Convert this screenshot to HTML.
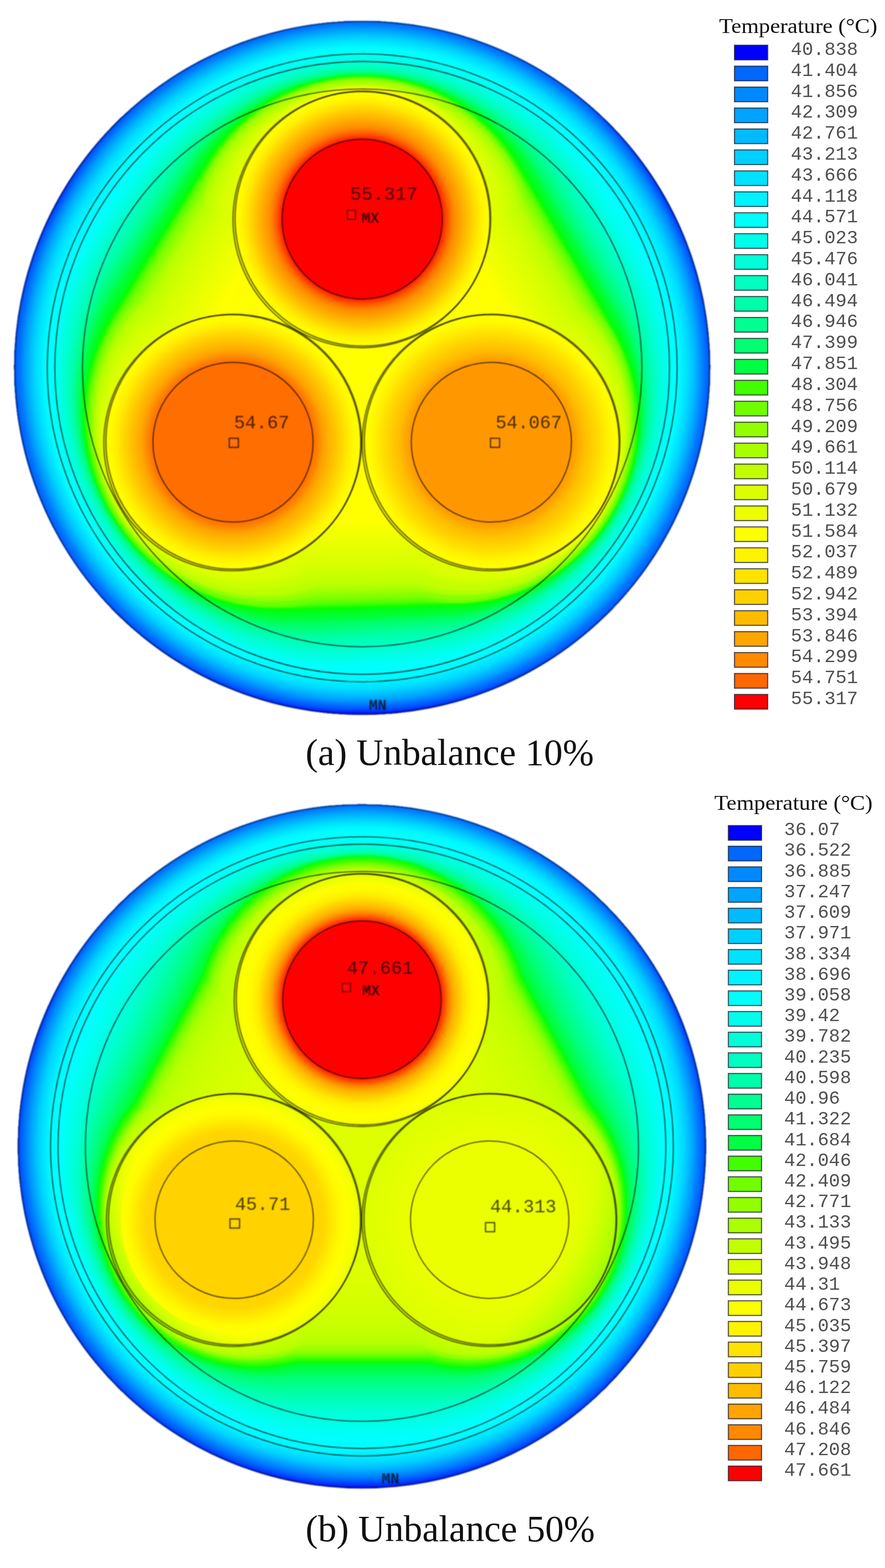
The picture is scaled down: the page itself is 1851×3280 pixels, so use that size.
<!DOCTYPE html>
<html lang="en"><head><meta charset="utf-8"><title>Temperature distribution of three-core cable</title>
<style>
html,body{margin:0;padding:0;background:#fff;}
body{width:1851px;height:3280px;overflow:hidden;}
svg{display:block}
.mono{font-family:"Liberation Mono","DejaVu Sans Mono",monospace;fill:#505050}
.serif{font-family:"Liberation Serif","DejaVu Serif",serif;fill:#111}
.lab{font-family:"Liberation Mono","DejaVu Sans Mono",monospace;fill:#000;fill-opacity:.7}
</style></head><body>
<svg width="1851" height="3280" viewBox="0 0 1851 3280">
<defs>
<filter id="tblur" x="-5%" y="-5%" width="110%" height="110%" color-interpolation-filters="sRGB"><feGaussianBlur stdDeviation="0.7"/></filter>
<filter id="ablur2" x="-5%" y="-5%" width="110%" height="110%" color-interpolation-filters="sRGB"><feGaussianBlur stdDeviation="0.9"/></filter>
<filter id="bblur2" x="-5%" y="-5%" width="110%" height="110%" color-interpolation-filters="sRGB"><feGaussianBlur stdDeviation="0.9"/></filter>
</defs>
<rect width="1851" height="3280" fill="#fff"/>
<defs><clipPath id="aclip"><circle r="727.6"/></clipPath>
<filter id="ablur" x="-5%" y="-5%" width="110%" height="110%" color-interpolation-filters="sRGB"><feGaussianBlur stdDeviation="1.5"/></filter>
<filter id="alblur" x="-5%" y="-5%" width="110%" height="110%" color-interpolation-filters="sRGB"><feGaussianBlur stdDeviation="0.9"/></filter>
<radialGradient id="ac0" gradientUnits="userSpaceOnUse" cx="0" cy="-312" r="270"><stop offset="0.0000" stop-color="#ff0000"/><stop offset="0.6148" stop-color="#ff0000"/><stop offset="0.6241" stop-color="#ff1800"/><stop offset="0.6333" stop-color="#ff2d00"/><stop offset="0.6426" stop-color="#ff3a00"/><stop offset="0.6519" stop-color="#ff4800"/><stop offset="0.6611" stop-color="#ff5500"/><stop offset="0.6704" stop-color="#ff6000"/><stop offset="0.6796" stop-color="#ff6a00"/><stop offset="0.6889" stop-color="#ff7400"/><stop offset="0.6981" stop-color="#ff7d00"/><stop offset="0.7074" stop-color="#ff8600"/><stop offset="0.7167" stop-color="#ff8d00"/><stop offset="0.7259" stop-color="#ff9200"/><stop offset="0.7352" stop-color="#ff9700"/><stop offset="0.7444" stop-color="#ff9c00"/><stop offset="0.7537" stop-color="#ffa100"/><stop offset="0.7630" stop-color="#ffa500"/><stop offset="0.7722" stop-color="#ffa900"/><stop offset="0.7815" stop-color="#ffae00"/><stop offset="0.7907" stop-color="#ffb300"/><stop offset="0.8000" stop-color="#ffb800"/><stop offset="0.8093" stop-color="#ffbc00"/><stop offset="0.8185" stop-color="#ffc100"/><stop offset="0.8278" stop-color="#ffc500"/><stop offset="0.8370" stop-color="#ffc900"/><stop offset="0.8463" stop-color="#ffce00"/><stop offset="0.8556" stop-color="#ffd300"/><stop offset="0.8648" stop-color="#ffd700"/><stop offset="0.8741" stop-color="#ffdc00"/><stop offset="0.8833" stop-color="#ffe000"/><stop offset="0.8926" stop-color="#ffe500"/><stop offset="0.9019" stop-color="#ffe900"/><stop offset="0.9111" stop-color="#ffec00"/><stop offset="0.9204" stop-color="#fff000"/><stop offset="0.9296" stop-color="#fff300"/><stop offset="0.9389" stop-color="#fff600"/><stop offset="0.9481" stop-color="#fff900"/><stop offset="0.9574" stop-color="#fffa00"/><stop offset="0.9667" stop-color="#fffb00"/><stop offset="0.9759" stop-color="#fffd00"/><stop offset="0.9852" stop-color="#fffe00"/><stop offset="0.9944" stop-color="#ffff00"/><stop offset="1.0000" stop-color="#ffff00"/></radialGradient>
<radialGradient id="ac1" gradientUnits="userSpaceOnUse" cx="-270.2" cy="156" r="270"><stop offset="0.0000" stop-color="#ff6e00"/><stop offset="0.6148" stop-color="#ff6e00"/><stop offset="0.6241" stop-color="#ff7000"/><stop offset="0.6333" stop-color="#ff7500"/><stop offset="0.6426" stop-color="#ff7900"/><stop offset="0.6519" stop-color="#ff7f00"/><stop offset="0.6611" stop-color="#ff8500"/><stop offset="0.6704" stop-color="#ff8b00"/><stop offset="0.6796" stop-color="#ff9100"/><stop offset="0.6889" stop-color="#ff9700"/><stop offset="0.6981" stop-color="#ff9d00"/><stop offset="0.7074" stop-color="#ffa200"/><stop offset="0.7167" stop-color="#ffa700"/><stop offset="0.7259" stop-color="#ffab00"/><stop offset="0.7352" stop-color="#ffae00"/><stop offset="0.7444" stop-color="#ffb200"/><stop offset="0.7537" stop-color="#ffb500"/><stop offset="0.7630" stop-color="#ffb900"/><stop offset="0.7722" stop-color="#ffbc00"/><stop offset="0.7815" stop-color="#ffbf00"/><stop offset="0.7907" stop-color="#ffc300"/><stop offset="0.8000" stop-color="#ffc600"/><stop offset="0.8093" stop-color="#ffca00"/><stop offset="0.8185" stop-color="#ffcd00"/><stop offset="0.8278" stop-color="#ffd100"/><stop offset="0.8370" stop-color="#ffd400"/><stop offset="0.8463" stop-color="#ffd700"/><stop offset="0.8556" stop-color="#ffdb00"/><stop offset="0.8648" stop-color="#ffdf00"/><stop offset="0.8741" stop-color="#ffe300"/><stop offset="0.8833" stop-color="#ffe600"/><stop offset="0.8926" stop-color="#ffea00"/><stop offset="0.9019" stop-color="#ffed00"/><stop offset="0.9111" stop-color="#fff000"/><stop offset="0.9204" stop-color="#fff200"/><stop offset="0.9296" stop-color="#fff500"/><stop offset="0.9389" stop-color="#fff800"/><stop offset="0.9481" stop-color="#fffa00"/><stop offset="0.9574" stop-color="#fffb00"/><stop offset="0.9667" stop-color="#fffc00"/><stop offset="0.9759" stop-color="#fffd00"/><stop offset="0.9852" stop-color="#fffe00"/><stop offset="0.9944" stop-color="#ffff00"/><stop offset="1.0000" stop-color="#ffff00"/></radialGradient>
<radialGradient id="ac2" gradientUnits="userSpaceOnUse" cx="270.2" cy="156" r="270"><stop offset="0.0000" stop-color="#ff9800"/><stop offset="0.6148" stop-color="#ff9800"/><stop offset="0.6241" stop-color="#ff9900"/><stop offset="0.6333" stop-color="#ff9c00"/><stop offset="0.6426" stop-color="#ff9e00"/><stop offset="0.6519" stop-color="#ffa200"/><stop offset="0.6611" stop-color="#ffa600"/><stop offset="0.6704" stop-color="#ffaa00"/><stop offset="0.6796" stop-color="#ffae00"/><stop offset="0.6889" stop-color="#ffb200"/><stop offset="0.6981" stop-color="#ffb500"/><stop offset="0.7074" stop-color="#ffb900"/><stop offset="0.7167" stop-color="#ffbd00"/><stop offset="0.7259" stop-color="#ffbf00"/><stop offset="0.7352" stop-color="#ffc200"/><stop offset="0.7444" stop-color="#ffc400"/><stop offset="0.7537" stop-color="#ffc700"/><stop offset="0.7630" stop-color="#ffc900"/><stop offset="0.7722" stop-color="#ffcb00"/><stop offset="0.7815" stop-color="#ffce00"/><stop offset="0.7907" stop-color="#ffd000"/><stop offset="0.8000" stop-color="#ffd300"/><stop offset="0.8093" stop-color="#ffd600"/><stop offset="0.8185" stop-color="#ffd800"/><stop offset="0.8278" stop-color="#ffdb00"/><stop offset="0.8370" stop-color="#ffdd00"/><stop offset="0.8463" stop-color="#ffe000"/><stop offset="0.8556" stop-color="#ffe300"/><stop offset="0.8648" stop-color="#ffe600"/><stop offset="0.8741" stop-color="#ffe900"/><stop offset="0.8833" stop-color="#ffeb00"/><stop offset="0.8926" stop-color="#ffee00"/><stop offset="0.9019" stop-color="#fff100"/><stop offset="0.9111" stop-color="#fff300"/><stop offset="0.9204" stop-color="#fff500"/><stop offset="0.9296" stop-color="#fff700"/><stop offset="0.9389" stop-color="#fff900"/><stop offset="0.9481" stop-color="#fffb00"/><stop offset="0.9574" stop-color="#fffc00"/><stop offset="0.9667" stop-color="#fffd00"/><stop offset="0.9759" stop-color="#fffd00"/><stop offset="0.9852" stop-color="#fffe00"/><stop offset="0.9944" stop-color="#ffff00"/><stop offset="1.0000" stop-color="#ffff00"/></radialGradient>
</defs>
<g transform="translate(757.5,769.5) scale(1.00000,0.99720)">
<g filter="url(#ablur)"><g clip-path="url(#aclip)">
<circle r="729.0" fill="#0000ff"/>
<path d="M-627 -378L-640.9 -354A724 724 0 0 0 -13.9 732L13.9 732A724 724 0 0 0 640.9 -354L627 -378A724 724 0 0 0 -627 -378Z" fill="#0000ff" transform="translate(0,-4)"/>
<path d="M-626.5 -378.2L-640.8 -353.5A723.5 723.5 0 0 0 -14.2 731.7L14.3 731.7A723.5 723.5 0 0 0 640.8 -353.5L626.5 -378.2A723.5 723.5 0 0 0 -626.5 -378.2Z" fill="#0008ff" transform="translate(0,-4)"/>
<path d="M-626.5 -378.2L-640.8 -353.5A723.5 723.5 0 0 0 -14.2 731.7L14.3 731.7A723.5 723.5 0 0 0 640.8 -353.5L626.5 -378.2A723.5 723.5 0 0 0 -626.5 -378.2Z" fill="#0008ff" transform="translate(0,-4)"/>
<path d="M-626 -378.5L-640.7 -353.1A722.9 722.9 0 0 0 -14.6 731.4L14.7 731.4A722.9 722.9 0 0 0 640.7 -353L626.1 -378.4A722.9 722.9 0 0 0 -626 -378.5Z" fill="#000bff" transform="translate(0,-4)"/>
<path d="M-625.6 -378.7L-640.6 -352.6A722.4 722.4 0 0 0 -14.9 731.1L15.2 731.1A722.4 722.4 0 0 0 640.7 -352.5L625.6 -378.6A722.4 722.4 0 0 0 -625.6 -378.7Z" fill="#000dff" transform="translate(0,-4)"/>
<path d="M-624.6 -379.1L-640.5 -351.7A721.4 721.4 0 0 0 -15.6 730.5L16 730.5A721.3 721.3 0 0 0 640.5 -351.5L624.7 -379A721.3 721.3 0 0 0 -624.6 -379.1Z" fill="#0011ff" transform="translate(0,-4)"/>
<path d="M-624.1 -379.4L-640.4 -351.2A720.8 720.8 0 0 0 -16 730.2L16.4 730.2A720.8 720.8 0 0 0 640.5 -351L624.2 -379.2A720.8 720.8 0 0 0 -624.1 -379.4Z" fill="#0012ff" transform="translate(0,-4)"/>
<path d="M-622.7 -380L-640.1 -349.8A719.2 719.2 0 0 0 -17.1 729.3L17.7 729.3A719.2 719.2 0 0 0 640.3 -349.5L622.8 -379.8A719.2 719.2 0 0 0 -622.7 -380Z" fill="#0016ff" transform="translate(0,-4)"/>
<path d="M-621.8 -380.4L-640 -348.9A718.2 718.2 0 0 0 -17.9 728.7L18.6 728.7A718.2 718.2 0 0 0 640.2 -348.6L621.9 -380.1A718.1 718.1 0 0 0 -621.8 -380.4Z" fill="#0019ff" transform="translate(0,-4)"/>
<path d="M-620.3 -381.1L-639.8 -347.5A716.6 716.6 0 0 0 -19 727.8L19.8 727.8A716.6 716.6 0 0 0 640 -347.1L620.5 -380.7A716.5 716.5 0 0 0 -620.3 -381.1Z" fill="#001cff" transform="translate(0,-4)"/>
<path d="M-619.1 -381.6L-639.5 -346.2A715.2 715.2 0 0 0 -19.9 727L20.9 727A715.2 715.2 0 0 0 639.8 -345.8L619.3 -381.2A715.1 715.1 0 0 0 -619.1 -381.6Z" fill="#001eff" transform="translate(0,-4)"/>
<path d="M-618.8 -381.6L-639.2 -346.2A715 715 0 0 0 -19.8 726.7L21 726.7A714.9 714.9 0 0 0 639.5 -345.7L619.1 -381.1A714.9 714.9 0 0 0 -618.8 -381.6Z" fill="#0022ff" transform="translate(0,-4)"/>
<path d="M-618.5 -381.5L-638.9 -346.2A714.7 714.7 0 0 0 -19.6 726.5L21 726.4A714.7 714.7 0 0 0 639.3 -345.6L618.9 -380.9A714.6 714.6 0 0 0 -618.5 -381.5Z" fill="#0025ff" transform="translate(0,-4)"/>
<path d="M-618.3 -381.4L-638.6 -346.3A714.5 714.5 0 0 0 -19.4 726.2L21.1 726.1A714.4 714.4 0 0 0 639 -345.5L618.7 -380.7A714.4 714.4 0 0 0 -618.3 -381.4Z" fill="#0027ff" transform="translate(0,-4)"/>
<path d="M-617.9 -381.4L-638.2 -346.3A714.2 714.2 0 0 0 -19.2 725.9L21.2 725.8A714.1 714.1 0 0 0 638.7 -345.3L618.4 -380.5A714 714 0 0 0 -617.9 -381.4Z" fill="#002bff" transform="translate(0,-4)"/>
<path d="M-617.6 -381.3L-637.9 -346.3A713.9 713.9 0 0 0 -19 725.5L21.3 725.5A713.8 713.8 0 0 0 638.4 -345.2L618.1 -380.3A713.7 713.7 0 0 0 -617.6 -381.3Z" fill="#002eff" transform="translate(0,-4)"/>
<path d="M-617.2 -381.2L-637.5 -346.3A713.6 713.6 0 0 0 -18.8 725.2L21.4 725.1A713.5 713.5 0 0 0 638.1 -345.1L617.8 -380.1A713.4 713.4 0 0 0 -617.2 -381.2Z" fill="#0030ff" transform="translate(0,-4)"/>
<path d="M-616.8 -381.1L-637 -346.3A713.3 713.3 0 0 0 -18.6 724.8L21.5 724.7A713.1 713.1 0 0 0 637.7 -344.9L617.5 -379.9A713 713 0 0 0 -616.8 -381.1Z" fill="#0033ff" transform="translate(0,-4)"/>
<path d="M-616.4 -381L-636.5 -346.3A712.9 712.9 0 0 0 -18.4 724.4L21.6 724.3A712.7 712.7 0 0 0 637.3 -344.8L617.2 -379.7A712.6 712.6 0 0 0 -616.4 -381Z" fill="#0036ff" transform="translate(0,-4)"/>
<path d="M-615.9 -380.9L-636 -346.3A712.5 712.5 0 0 0 -18.1 723.9L21.8 723.8A712.3 712.3 0 0 0 636.9 -344.6L616.8 -379.4A712.2 712.2 0 0 0 -615.9 -380.9Z" fill="#003aff" transform="translate(0,-4)"/>
<path d="M-615.4 -380.8L-635.4 -346.3A712.1 712.1 0 0 0 -17.8 723.5L21.9 723.4A711.8 711.8 0 0 0 636.4 -344.4L616.4 -379.1A711.7 711.7 0 0 0 -615.4 -380.8Z" fill="#003dff" transform="translate(0,-4)"/>
<path d="M-614.9 -380.7L-634.9 -346.3A711.7 711.7 0 0 0 -17.5 723L22 722.9A711.4 711.4 0 0 0 636 -344.2L616 -378.8A711.3 711.3 0 0 0 -614.9 -380.7Z" fill="#003fff" transform="translate(0,-4)"/>
<path d="M-614.4 -380.6L-634.3 -346.3A711.2 711.2 0 0 0 -17.2 722.5L22.2 722.3A710.9 710.9 0 0 0 635.5 -344L615.6 -378.5A710.8 710.8 0 0 0 -614.4 -380.6Z" fill="#0043ff" transform="translate(0,-4)"/>
<path d="M-613.8 -380.5L-633.7 -346.4A710.7 710.7 0 0 0 -16.9 721.9L22.4 721.8A710.4 710.4 0 0 0 635 -343.8L615.1 -378.2A710.3 710.3 0 0 0 -613.8 -380.5Z" fill="#0046ff" transform="translate(0,-4)"/>
<path d="M-613.2 -380.4L-633 -346.4A710.2 710.2 0 0 0 -16.5 721.4L22.5 721.3A709.9 709.9 0 0 0 634.5 -343.6L614.7 -377.9A709.8 709.8 0 0 0 -613.2 -380.4Z" fill="#0048ff" transform="translate(0,-4)"/>
<path d="M-612.6 -380.2L-632.3 -346.4A709.7 709.7 0 0 0 -16.1 720.8L22.7 720.6A709.4 709.4 0 0 0 633.9 -343.4L614.2 -377.5A709.2 709.2 0 0 0 -612.6 -380.2Z" fill="#004cff" transform="translate(0,-4)"/>
<path d="M-612 -380.1L-631.6 -346.4A709.2 709.2 0 0 0 -15.8 720.2L22.9 720A708.8 708.8 0 0 0 633.3 -343.1L613.7 -377.2A708.6 708.6 0 0 0 -612 -380.1Z" fill="#004eff" transform="translate(0,-4)"/>
<path d="M-611.3 -380L-630.8 -346.5A708.6 708.6 0 0 0 -15.3 719.6L23.1 719.4A708.2 708.2 0 0 0 632.7 -342.9L613.1 -376.8A708 708 0 0 0 -611.3 -380Z" fill="#0052ff" transform="translate(0,-4)"/>
<path d="M-610.6 -379.8L-630.1 -346.5A708 708 0 0 0 -15 719L23.3 718.7A707.6 707.6 0 0 0 632.1 -342.6L612.6 -376.4A707.4 707.4 0 0 0 -610.6 -379.8Z" fill="#0054ff" transform="translate(0,-4)"/>
<path d="M-609.9 -379.7L-629.3 -346.5A707.4 707.4 0 0 0 -14.5 718.2L23.5 718A706.9 706.9 0 0 0 631.4 -342.4L612 -376A706.7 706.7 0 0 0 -609.9 -379.7Z" fill="#0058ff" transform="translate(0,-4)"/>
<path d="M-609.1 -379.6L-628.5 -346.6A706.8 706.8 0 0 0 -14.1 717.6L23.8 717.3A706.3 706.3 0 0 0 630.8 -342.1L611.5 -375.6A706 706 0 0 0 -609.1 -379.6Z" fill="#005aff" transform="translate(0,-4)"/>
<path d="M-608.4 -379.4L-627.6 -346.6A706.1 706.1 0 0 0 -13.6 716.8L24 716.6A705.6 705.6 0 0 0 630.1 -341.8L610.8 -375.2A705.3 705.3 0 0 0 -608.4 -379.4Z" fill="#005dff" transform="translate(0,-4)"/>
<path d="M-607.5 -379.3L-626.7 -346.7A705.4 705.4 0 0 0 -13 716L24.3 715.8A704.9 704.9 0 0 0 629.3 -341.5L610.2 -374.7A704.6 704.6 0 0 0 -607.5 -379.3Z" fill="#0061ff" transform="translate(0,-4)"/>
<path d="M-606.7 -379.1L-625.7 -346.7A704.7 704.7 0 0 0 -12.5 715.2L24.6 714.9A704.1 704.1 0 0 0 628.6 -341.2L609.5 -374.2A703.8 703.8 0 0 0 -606.7 -379.1Z" fill="#0064ff" transform="translate(0,-4)"/>
<path d="M-606.3 -378.6L-624.3 -347.9A704.7 704.7 0 0 0 -10.8 714.7L24.3 714.3A704.1 704.1 0 0 0 627.5 -341.8L609.5 -373.1A703.8 703.8 0 0 0 -606.3 -378.6Z" fill="#0067ff" transform="translate(0,-4)"/>
<path d="M-605.9 -378L-622.7 -349.5A704.9 704.9 0 0 0 -8.5 714.1L24 713.7A704.2 704.2 0 0 0 626.4 -342.6L609.6 -371.7A703.9 703.9 0 0 0 -605.9 -378Z" fill="#006aff" transform="translate(0,-4)"/>
<path d="M-605.5 -377.6L-621.1 -351.2A705 705 0 0 0 -6.3 713.5L23.8 713.1A704.3 704.3 0 0 0 625.3 -343.3L609.6 -370.4A703.9 703.9 0 0 0 -605.5 -377.6Z" fill="#006cff" transform="translate(0,-4)"/>
<path d="M-604.9 -377.3L-619.2 -353.2A705.2 705.2 0 0 0 -3.5 712.8L23.9 712.5A704.4 704.4 0 0 0 624.1 -344.1L609.7 -369A704 704 0 0 0 -604.9 -377.3Z" fill="#0070ff" transform="translate(0,-4)"/>
<path d="M-604.1 -377.2L-617.1 -355.5A705.4 705.4 0 0 0 -0.4 712.2L24.2 711.8A704.6 704.6 0 0 0 622.8 -345L609.8 -367.5A704.2 704.2 0 0 0 -604.1 -377.2Z" fill="#0073ff" transform="translate(0,-4)"/>
<path d="M-603.1 -377.5L-614.8 -358.1A705.5 705.5 0 0 0 3.2 711.5L25 711.1A704.7 704.7 0 0 0 621.6 -345.8L609.9 -366A704.3 704.3 0 0 0 -603.1 -377.5Z" fill="#0076ff" transform="translate(0,-4)"/>
<path d="M-602 -378.1L-612.5 -360.7A705.6 705.6 0 0 0 6.7 710.8L26.3 710.4A704.7 704.7 0 0 0 620.4 -346.4L609.9 -364.8A704.2 704.2 0 0 0 -602 -378.1Z" fill="#0079ff" transform="translate(0,-4)"/>
<path d="M-600.9 -378.5L-611.4 -361.2A704.9 704.9 0 0 0 7.8 710.1L27.2 709.6A704 704 0 0 0 619.8 -346.2L609.3 -364.4A703.5 703.5 0 0 0 -600.9 -378.5Z" fill="#007cff" transform="translate(0,-4)"/>
<path d="M-599.8 -378.9L-610.3 -361.8A704.3 704.3 0 0 0 8.9 709.4L28.2 708.9A703.3 703.3 0 0 0 619.1 -345.9L608.7 -364A702.8 702.8 0 0 0 -599.8 -378.9Z" fill="#007fff" transform="translate(0,-4)"/>
<path d="M-598.7 -379.4L-609.1 -362.4A703.7 703.7 0 0 0 10.1 708.6L29.2 708.1A702.6 702.6 0 0 0 618.5 -345.5L608 -363.6A702.1 702.1 0 0 0 -598.7 -379.4Z" fill="#0082ff" transform="translate(0,-4)"/>
<path d="M-597.5 -379.8L-607.9 -363A703 703 0 0 0 11.4 707.9L30.2 707.3A701.9 701.9 0 0 0 617.8 -345.2L607.4 -363.2A701.4 701.4 0 0 0 -597.5 -379.8Z" fill="#0085ff" transform="translate(0,-4)"/>
<path d="M-596.3 -380.3L-606.6 -363.6A702.3 702.3 0 0 0 12.6 707.1L31.3 706.5A701.2 701.2 0 0 0 617.1 -344.9L606.8 -362.8A700.6 700.6 0 0 0 -596.3 -380.3Z" fill="#0088ff" transform="translate(0,-4)"/>
<path d="M-595.1 -380.8L-605.3 -364.2A701.6 701.6 0 0 0 14 706.3L32.4 705.7A700.4 700.4 0 0 0 616.3 -344.6L606.1 -362.4A699.8 699.8 0 0 0 -595.1 -380.8Z" fill="#008bff" transform="translate(0,-4)"/>
<path d="M-593.8 -381.3L-604 -364.9A700.9 700.9 0 0 0 15.3 705.5L33.6 704.9A699.7 699.7 0 0 0 615.6 -344.3L605.4 -361.9A699.1 699.1 0 0 0 -593.8 -381.3Z" fill="#008eff" transform="translate(0,-4)"/>
<path d="M-592.5 -381.9L-602.6 -365.6A700.2 700.2 0 0 0 16.8 704.6L34.8 704A698.9 698.9 0 0 0 614.8 -343.9L604.7 -361.5A698.2 698.2 0 0 0 -592.5 -381.9Z" fill="#0091ff" transform="translate(0,-4)"/>
<path d="M-591.1 -382.4L-601.1 -366.4A699.4 699.4 0 0 0 18.3 703.7L36.1 703.1A698.1 698.1 0 0 0 614.1 -343.6L604 -361A697.4 697.4 0 0 0 -591.1 -382.4Z" fill="#0094ff" transform="translate(0,-4)"/>
<path d="M-589.7 -383L-599.7 -367.1A698.7 698.7 0 0 0 19.9 702.9L37.5 702.2A697.3 697.3 0 0 0 613.3 -343.2L603.2 -360.6A696.6 696.6 0 0 0 -589.7 -383Z" fill="#0097ff" transform="translate(0,-4)"/>
<path d="M-588.3 -383.7L-598.2 -367.9A697.9 697.9 0 0 0 21.6 701.9L38.9 701.2A696.4 696.4 0 0 0 612.5 -342.8L602.5 -360.1A695.7 695.7 0 0 0 -588.3 -383.7Z" fill="#009aff" transform="translate(0,-4)"/>
<path d="M-586.8 -384.3L-596.6 -368.8A697.1 697.1 0 0 0 23.3 701L40.4 700.2A695.6 695.6 0 0 0 611.6 -342.5L601.7 -359.6A694.8 694.8 0 0 0 -586.8 -384.3Z" fill="#009dff" transform="translate(0,-4)"/>
<path d="M-585.2 -385L-595 -369.7A696.3 696.3 0 0 0 25.1 700L42 699.2A694.7 694.7 0 0 0 610.8 -342.1L600.9 -359.1A693.9 693.9 0 0 0 -585.2 -385Z" fill="#00a0ff" transform="translate(0,-4)"/>
<path d="M-583.6 -385.8L-593.3 -370.6A695.5 695.5 0 0 0 27 699L43.6 698.2A693.8 693.8 0 0 0 609.9 -341.7L600.1 -358.6A693 693 0 0 0 -583.6 -385.8Z" fill="#00a3ff" transform="translate(0,-4)"/>
<path d="M-582 -386.5L-591.6 -371.5A694.6 694.6 0 0 0 28.9 698L45.3 697.1A692.9 692.9 0 0 0 609.1 -341.3L599.3 -358.1A692.1 692.1 0 0 0 -582 -386.5Z" fill="#00a6ff" transform="translate(0,-4)"/>
<path d="M-580.3 -387.4L-589.9 -372.6A693.8 693.8 0 0 0 31 696.9L47.1 696A692 692 0 0 0 608.1 -340.9L598.5 -357.6A691.1 691.1 0 0 0 -580.3 -387.4Z" fill="#00a9ff" transform="translate(0,-4)"/>
<path d="M-578.7 -387.9L-588.3 -373.2A692.8 692.8 0 0 0 32.6 695.9L48.6 695A691 691 0 0 0 607.3 -340.4L597.6 -357.1A690.1 690.1 0 0 0 -578.7 -387.9Z" fill="#00acff" transform="translate(0,-4)"/>
<path d="M-577.3 -388.3L-587 -373.4A691.9 691.9 0 0 0 33.7 694.9L49.8 693.9A690 690 0 0 0 606.5 -339.8L596.7 -356.8A689 689 0 0 0 -577.3 -388.3Z" fill="#00afff" transform="translate(0,-4)"/>
<path d="M-575.9 -388.6L-585.7 -373.6A690.8 690.8 0 0 0 34.7 693.8L50.9 692.8A688.9 688.9 0 0 0 605.6 -339.2L595.7 -356.4A687.9 687.9 0 0 0 -575.9 -388.6Z" fill="#00b2ff" transform="translate(0,-4)"/>
<path d="M-574.4 -389L-584.3 -373.8A689.8 689.8 0 0 0 35.7 692.7L52.1 691.6A687.7 687.7 0 0 0 604.7 -338.6L594.7 -356A686.7 686.7 0 0 0 -574.4 -389Z" fill="#00b5ff" transform="translate(0,-4)"/>
<path d="M-572.9 -389.2L-583 -373.9A688.7 688.7 0 0 0 36.6 691.6L53.2 690.5A686.6 686.6 0 0 0 603.9 -337.9L593.7 -355.6A685.5 685.5 0 0 0 -572.9 -389.2Z" fill="#00b8ff" transform="translate(0,-4)"/>
<path d="M-571.4 -389.5L-581.7 -374A687.6 687.6 0 0 0 37.6 690.5L54.3 689.4A685.4 685.4 0 0 0 603 -337.3L592.6 -355.2A684.3 684.3 0 0 0 -571.4 -389.5Z" fill="#00bbff" transform="translate(0,-4)"/>
<path d="M-569.9 -389.8L-580.3 -374.1A686.5 686.5 0 0 0 38.6 689.3L55.4 688.1A684.2 684.2 0 0 0 602 -336.6L591.6 -354.8A683.1 683.1 0 0 0 -569.9 -389.8Z" fill="#00beff" transform="translate(0,-4)"/>
<path d="M-568.4 -390L-578.9 -374.2A685.4 685.4 0 0 0 39.6 688.1L56.5 686.9A683 683 0 0 0 601.1 -336L590.5 -354.3A681.8 681.8 0 0 0 -568.4 -390Z" fill="#00c1ff" transform="translate(0,-4)"/>
<path d="M-566.9 -390.2L-577.5 -374.3A684.2 684.2 0 0 0 40.5 686.9L57.6 685.7A681.8 681.8 0 0 0 600.1 -335.3L589.4 -353.9A680.6 680.6 0 0 0 -566.9 -390.2Z" fill="#00c4ff" transform="translate(0,-4)"/>
<path d="M-565.3 -390.5L-576.1 -374.3A683 683 0 0 0 41.5 685.7L58.7 684.4A680.5 680.5 0 0 0 599.2 -334.6L588.3 -353.5A679.3 679.3 0 0 0 -565.3 -390.5Z" fill="#00c7ff" transform="translate(0,-4)"/>
<path d="M-563.8 -390.7L-574.7 -374.3A681.9 681.9 0 0 0 42.4 684.5L59.8 683.2A679.3 679.3 0 0 0 598.2 -333.9L587.2 -353A678 678 0 0 0 -563.8 -390.7Z" fill="#00caff" transform="translate(0,-4)"/>
<path d="M-562.2 -390.8L-573.3 -374.3A680.7 680.7 0 0 0 43.3 683.2L60.9 681.9A678 678 0 0 0 597.2 -333.2L586 -352.6A676.7 676.7 0 0 0 -562.2 -390.8Z" fill="#00cdff" transform="translate(0,-4)"/>
<path d="M-560.6 -391L-571.8 -374.3A679.4 679.4 0 0 0 44.3 681.9L62 680.6A676.7 676.7 0 0 0 596.2 -332.5L584.9 -352.1A675.3 675.3 0 0 0 -560.6 -391Z" fill="#00d0ff" transform="translate(0,-4)"/>
<path d="M-558.9 -391.4L-570.2 -374.7A678.3 678.3 0 0 0 45.7 680.6L63.4 679.2A675.4 675.4 0 0 0 595.1 -331.8L583.7 -351.6A674 674 0 0 0 -558.9 -391.4Z" fill="#00d3ff" transform="translate(0,-4)"/>
<path d="M-556.6 -392.4L-567.8 -376A677.2 677.2 0 0 0 48.7 679.2L66 677.7A674.3 674.3 0 0 0 594 -331.3L582.7 -350.9A672.8 672.8 0 0 0 -556.6 -392.4Z" fill="#00d6ff" transform="translate(0,-4)"/>
<path d="M-554.3 -393.5L-565.3 -377.4A676 676 0 0 0 51.9 677.7L68.8 676.2A673.1 673.1 0 0 0 592.8 -330.8L581.6 -350.2A671.6 671.6 0 0 0 -554.3 -393.5Z" fill="#00d9ff" transform="translate(0,-4)"/>
<path d="M-552 -394.6L-562.8 -378.9A674.9 674.9 0 0 0 55.1 676.1L71.6 674.6A671.9 671.9 0 0 0 591.6 -330.3L580.5 -349.4A670.3 670.3 0 0 0 -552 -394.6Z" fill="#00dcff" transform="translate(0,-4)"/>
<path d="M-549.5 -395.9L-560.2 -380.5A673.8 673.8 0 0 0 58.7 674.5L74.7 673A670.6 670.6 0 0 0 590.3 -329.8L579.4 -348.7A669 669 0 0 0 -549.5 -395.9Z" fill="#00dfff" transform="translate(0,-4)"/>
<path d="M-548.3 -394.8L-559.4 -378.8A672 672 0 0 0 57.3 673L74 671.4A668.8 668.8 0 0 0 589.1 -328.7L577.7 -348.3A667.1 667.1 0 0 0 -548.3 -394.8Z" fill="#00e2ff" transform="translate(0,-4)"/>
<path d="M-549.3 -389.2L-562.1 -370.2A668.6 668.6 0 0 0 46.3 671.4L66.4 669.7A665.3 665.3 0 0 0 587.8 -325.9L574.7 -348.6A663.6 663.6 0 0 0 -549.3 -389.2Z" fill="#00e5ff" transform="translate(0,-4)"/>
<path d="M-549.2 -385.1L-563.8 -363.2A665.3 665.3 0 0 0 37.9 669.5L61.4 667.8A661.8 661.8 0 0 0 586.5 -323.2L571.7 -348.9A660.1 660.1 0 0 0 -549.2 -385.1Z" fill="#00e8ff" transform="translate(0,-4)"/>
<path d="M-548.4 -382L-564.8 -357.1A661.9 661.9 0 0 0 31.2 667.4L58 665.7A658.4 658.4 0 0 0 585.2 -320.5L568.6 -349.2A656.6 656.6 0 0 0 -548.4 -382Z" fill="#00ebff" transform="translate(0,-4)"/>
<path d="M-547.1 -379.5L-565.3 -351.6A658.4 658.4 0 0 0 25.4 665.2L55.7 663.4A654.8 654.8 0 0 0 583.9 -317.7L565.5 -349.5A653 653 0 0 0 -547.1 -379.5Z" fill="#00eeff" transform="translate(0,-4)"/>
<path d="M-545.4 -377.5L-565.6 -346.2A654.8 654.8 0 0 0 20.1 662.8L54.1 660.9A651.1 651.1 0 0 0 582.6 -314.7L562.2 -349.9A649.2 649.2 0 0 0 -545.4 -377.5Z" fill="#00f1ff" transform="translate(0,-4)"/>
<path d="M-543.5 -375.8L-565.8 -341.1A651.1 651.1 0 0 0 15.1 660.4L53 658.5A647.3 647.3 0 0 0 581.3 -311.7L559 -350.5A645.4 645.4 0 0 0 -543.5 -375.8Z" fill="#00f4ff" transform="translate(0,-4)"/>
<path d="M-541.3 -374.5L-565.7 -336.2A647.4 647.4 0 0 0 10.5 657.9L52.6 656A643.5 643.5 0 0 0 580.1 -308.6L555.6 -351A641.5 641.5 0 0 0 -541.3 -374.5Z" fill="#00f7ff" transform="translate(0,-4)"/>
<path d="M-538.6 -373.6L-565.5 -330.9A643.1 643.1 0 0 0 5.7 655.1L52.7 653.1A639.1 639.1 0 0 0 578.8 -304.9L551.7 -351.8A637.1 637.1 0 0 0 -538.6 -373.6Z" fill="#00faff" transform="translate(0,-4)"/>
<path d="M-520.9 -379.3L-567.2 -304.6A620.9 620.9 0 0 0 -18.9 643.5L65.2 640.7A615.3 615.3 0 0 0 577.4 -282L531 -362.4A613.1 613.1 0 0 0 -520.9 -379.3Z" fill="#00fdff" transform="translate(0,-3.7)"/>
<path d="M-504.8 -385.9L-565.4 -288.2A603.8 603.8 0 0 0 -32.3 633.7L78.4 630.1A596.6 596.6 0 0 0 575.2 -264.5L514.5 -369.6A594.1 594.1 0 0 0 -504.8 -385.9Z" fill="#00fffe" transform="translate(0,-3.5)"/>
<path d="M-497.1 -388.5L-560.3 -288A598.8 598.8 0 0 0 -29.8 629.2L84.3 624.7A589.9 589.9 0 0 0 571.9 -259.8L508.6 -369.4A587.3 587.3 0 0 0 -497.1 -388.5Z" fill="#00fffb" transform="translate(0,-3.2)"/>
<path d="M-491.5 -390.4L-554.9 -291.2A596.6 596.6 0 0 0 -24 626.1L88.6 620.8A586.2 586.2 0 0 0 568.7 -257.9L505.2 -367.9A583.3 583.3 0 0 0 -491.5 -390.4Z" fill="#00fff8" transform="translate(0,-3)"/>
<path d="M-486.6 -392.1L-549 -296.2A595.7 595.7 0 0 0 -16.5 623.5L92.6 617.4A583.7 583.7 0 0 0 565.4 -257.2L502.8 -365.7A580.6 580.6 0 0 0 -486.6 -392.1Z" fill="#00fff5" transform="translate(0,-2.7)"/>
<path d="M-481.5 -394.1L-543 -301.3A594.7 594.7 0 0 0 -8.6 620.8L96.9 613.9A581.1 581.1 0 0 0 562.2 -256.5L500.4 -363.6A577.8 577.8 0 0 0 -481.5 -394.1Z" fill="#00fff2" transform="translate(0,-2.5)"/>
<path d="M-476.3 -396.4L-538.3 -304.5A593 593 0 0 0 -3.1 618.2L101.5 610.5A577.9 577.9 0 0 0 559.7 -254.7L497.4 -362.6A574.4 574.4 0 0 0 -476.3 -396.4Z" fill="#00ffef" transform="translate(0,-2.2)"/>
<path d="M-471 -399.1L-535.7 -304.1A589.9 589.9 0 0 0 -2 615.8L106.4 607.3A573.4 573.4 0 0 0 558.4 -251L493.3 -363.7A569.6 569.6 0 0 0 -471 -399.1Z" fill="#00ffec" transform="translate(0,-2)"/>
<path d="M-465.9 -401.7L-533.2 -303.6A586.9 586.9 0 0 0 -1 613.3L111 604.1A568.8 568.8 0 0 0 557 -247.2L489.2 -364.7A564.9 564.9 0 0 0 -465.9 -401.7Z" fill="#00ffe9" transform="translate(0,-1.7)"/>
<path d="M-461.1 -403.9L-530.9 -302.7A584 584 0 0 0 -0.5 610.9L115.2 601A564.5 564.5 0 0 0 555.7 -243.6L485.3 -365.6A560.3 560.3 0 0 0 -461.1 -403.9Z" fill="#00ffe6" transform="translate(0,-1.5)"/>
<path d="M-458.3 -403.6L-530.4 -298.9A580.4 580.4 0 0 0 -3.5 608.5L115.9 598.5A560.7 560.7 0 0 0 554.4 -240.6L481.8 -366.3A556.4 556.4 0 0 0 -458.3 -403.6Z" fill="#00ffe3" transform="translate(0,-1.4)"/>
<path d="M-455.6 -403.4L-529.7 -295.3A577 577 0 0 0 -6.3 606.2L116.7 596A557.1 557.1 0 0 0 553.1 -237.8L478.5 -367A552.6 552.6 0 0 0 -455.6 -403.4Z" fill="#00ffe0" transform="translate(0,-1.3)"/>
<path d="M-452.9 -403.1L-529.1 -291.8A573.6 573.6 0 0 0 -9.1 603.9L117.5 593.6A553.5 553.5 0 0 0 551.9 -234.9L475.3 -367.6A548.8 548.8 0 0 0 -452.9 -403.1Z" fill="#00ffdd" transform="translate(0,-1.2)"/>
<path d="M-450.1 -403L-528.4 -288.3A570.2 570.2 0 0 0 -11.8 601.6L118.4 591.1A549.9 549.9 0 0 0 550.6 -232L472 -368.2A545 545 0 0 0 -450.1 -403Z" fill="#00ffda" transform="translate(0,-1.1)"/>
<path d="M-447.5 -402.9L-527.7 -285A567 567 0 0 0 -14.3 599.3L119.3 588.7A546.5 546.5 0 0 0 549.4 -229.3L468.8 -368.8A541.4 541.4 0 0 0 -447.5 -402.9Z" fill="#00ffd7" transform="translate(0,-1)"/>
<path d="M-444.8 -402.8L-527 -281.7A563.7 563.7 0 0 0 -16.8 597.1L120.2 586.4A543 543 0 0 0 548.2 -226.5L465.7 -369.4A537.7 537.7 0 0 0 -444.8 -402.8Z" fill="#00ffd4" transform="translate(0,-0.9)"/>
<path d="M-442.2 -402.7L-526.3 -278.6A560.6 560.6 0 0 0 -19.2 594.9L121.1 584.1A539.7 539.7 0 0 0 547 -223.9L462.6 -370A534.2 534.2 0 0 0 -442.2 -402.7Z" fill="#00ffd1" transform="translate(0,-0.8)"/>
<path d="M-439.6 -402.7L-525.6 -275.5A557.5 557.5 0 0 0 -21.6 592.7L122.1 581.8A536.4 536.4 0 0 0 545.9 -221.2L459.6 -370.6A530.7 530.7 0 0 0 -439.6 -402.7Z" fill="#00ffce" transform="translate(0,-0.7)"/>
<path d="M-437 -402.7L-524.9 -272.5A554.4 554.4 0 0 0 -23.8 590.6L123 579.6A533.2 533.2 0 0 0 544.7 -218.7L456.7 -371.2A527.3 527.3 0 0 0 -437 -402.7Z" fill="#00ffcb" transform="translate(0,-0.6)"/>
<path d="M-434.3 -402.7L-524.2 -269.3A551.2 551.2 0 0 0 -26.3 588.5L124.1 577.3A529.8 529.8 0 0 0 543.6 -215.9L453.6 -371.8A523.8 523.8 0 0 0 -434.3 -402.7Z" fill="#00ffc8" transform="translate(0,-0.5)"/>
<path d="M-431.6 -403L-524.2 -265.2A547.6 547.6 0 0 0 -30 586.4L125.6 575.1A525.9 525.9 0 0 0 543 -212.4L450.3 -373A519.9 519.9 0 0 0 -431.6 -403Z" fill="#00ffc5" transform="translate(0,-0.5)"/>
<path d="M-428.7 -403.4L-524.1 -260.9A543.8 543.8 0 0 0 -33.8 584.2L127.2 572.8A521.9 521.9 0 0 0 542.3 -208.8L446.8 -374.3A515.9 515.9 0 0 0 -428.7 -403.4Z" fill="#00ffc2" transform="translate(0,-0.4)"/>
<path d="M-425.9 -403.8L-524 -256.9A540.2 540.2 0 0 0 -37.4 582.1L128.8 570.6A518.1 518.1 0 0 0 541.7 -205.4L443.5 -375.4A512.1 512.1 0 0 0 -425.9 -403.8Z" fill="#00ffbf" transform="translate(0,-0.3)"/>
<path d="M-423.2 -404.2L-523.9 -253A536.8 536.8 0 0 0 -40.8 580.1L130.4 568.4A514.4 514.4 0 0 0 541.1 -202L440.3 -376.6A508.4 508.4 0 0 0 -423.2 -404.2Z" fill="#00ffbc" transform="translate(0,-0.2)"/>
<path d="M-420.3 -404.7L-523.7 -249.1A533.2 533.2 0 0 0 -44.2 577.9L132.1 566.2A510.6 510.6 0 0 0 540.5 -198.6L437 -377.8A504.6 504.6 0 0 0 -420.3 -404.7Z" fill="#00ffb9" transform="translate(0,-0.1)"/>
<path d="M-417.7 -405.1L-523.5 -245.5A529.8 529.8 0 0 0 -47.4 576L133.7 564.2A507.1 507.1 0 0 0 539.9 -195.4L434 -378.8A501.1 501.1 0 0 0 -417.7 -405.1Z" fill="#00ffb6"/>
<path d="M-414.9 -405.6L-523.3 -241.7A526.4 526.4 0 0 0 -50.6 574L135.5 562A503.4 503.4 0 0 0 539.3 -192.1L430.8 -380A497.4 497.4 0 0 0 -414.9 -405.6Z" fill="#00ffb3"/>
<path d="M-412.2 -406.2L-523.1 -238.2A523.1 523.1 0 0 0 -53.6 572L137.2 560A499.9 499.9 0 0 0 538.7 -188.9L427.8 -381.1A493.9 493.9 0 0 0 -412.2 -406.2Z" fill="#00ffb0"/>
<path d="M-409.9 -406.6L-522.8 -235.3A520.3 520.3 0 0 0 -56 570.3L138.6 558.2A497 497 0 0 0 538.1 -186.3L425.2 -381.9A491 491 0 0 0 -409.9 -406.6Z" fill="#00ffad"/>
<path d="M-407.8 -407L-522.5 -232.8A517.8 517.8 0 0 0 -58.1 568.8L140 556.6A494.3 494.3 0 0 0 537.6 -183.9L422.9 -382.6A488.3 488.3 0 0 0 -407.8 -407Z" fill="#00ffaa"/>
<path d="M-405.6 -407.5L-522.3 -230A515.2 515.2 0 0 0 -60.5 567.2L141.5 554.9A491.5 491.5 0 0 0 537.1 -181.3L420.4 -383.5A485.5 485.5 0 0 0 -405.6 -407.5Z" fill="#00ffa7"/>
<path d="M-403.5 -408L-522.1 -227.4A512.7 512.7 0 0 0 -62.7 565.8L142.9 553.4A488.8 488.8 0 0 0 536.7 -178.9L418.1 -384.4A482.8 482.8 0 0 0 -403.5 -408Z" fill="#00ffa4"/>
<path d="M-401.4 -408.5L-521.9 -224.8A510.2 510.2 0 0 0 -64.9 564.3L144.3 551.8A486.1 486.1 0 0 0 536.3 -176.4L415.8 -385.2A480.1 480.1 0 0 0 -401.4 -408.5Z" fill="#00ffa1"/>
<path d="M-399.3 -409L-521.7 -222.1A507.7 507.7 0 0 0 -67.1 562.8L145.8 550.2A483.4 483.4 0 0 0 535.9 -174L413.4 -386.1A477.4 477.4 0 0 0 -399.3 -409Z" fill="#00ff9e"/>
<path d="M-397.3 -409.5L-521.6 -219.7A505.3 505.3 0 0 0 -69.2 561.4L147.2 548.8A480.8 480.8 0 0 0 535.5 -171.7L411.2 -386.9A474.8 474.8 0 0 0 -397.3 -409.5Z" fill="#00ff9b"/>
<path d="M-395.3 -410L-521.4 -217.2A502.9 502.9 0 0 0 -71.3 560L148.6 547.3A478.3 478.3 0 0 0 535.1 -169.4L409 -387.7A472.3 472.3 0 0 0 -395.3 -410Z" fill="#00ff98"/>
<path d="M-393.3 -410.5L-521.2 -214.8A500.5 500.5 0 0 0 -73.3 558.6L150 545.8A475.7 475.7 0 0 0 534.7 -167L406.8 -388.6A469.7 469.7 0 0 0 -393.3 -410.5Z" fill="#00ff94"/>
<path d="M-391.4 -411L-521 -212.4A498.3 498.3 0 0 0 -75.3 557.3L151.4 544.4A473.3 473.3 0 0 0 534.3 -164.8L404.7 -389.3A467.3 467.3 0 0 0 -391.4 -411Z" fill="#00ff91"/>
<path d="M-389.6 -411.5L-520.8 -210.3A496.1 496.1 0 0 0 -77.1 556.1L152.7 543.1A471 471 0 0 0 534 -162.8L402.7 -390.1A465 465 0 0 0 -389.6 -411.5Z" fill="#00ff8f"/>
<path d="M-387.6 -412L-520.6 -208A493.9 493.9 0 0 0 -79 554.7L154 541.7A468.6 468.6 0 0 0 533.6 -160.5L400.6 -390.8A462.6 462.6 0 0 0 -387.6 -412Z" fill="#00ff8b"/>
<path d="M-385.8 -412.5L-520.4 -205.8A491.8 491.8 0 0 0 -80.9 553.5L155.4 540.3A466.3 466.3 0 0 0 533.2 -158.5L398.7 -391.6A460.3 460.3 0 0 0 -385.8 -412.5Z" fill="#00ff88"/>
<path d="M-384.1 -413L-520.2 -203.7A489.8 489.8 0 0 0 -82.6 552.3L156.6 539.1A464.2 464.2 0 0 0 532.9 -156.5L396.8 -392.3A458.2 458.2 0 0 0 -384.1 -413Z" fill="#00ff85"/>
<path d="M-382.4 -413.5L-520 -201.7A487.8 487.8 0 0 0 -84.2 551.1L157.8 537.8A462 462 0 0 0 532.6 -154.6L394.9 -393A456 456 0 0 0 -382.4 -413.5Z" fill="#00ff82"/>
<path d="M-380.7 -413.9L-519.8 -199.7A485.8 485.8 0 0 0 -85.9 550L159.1 536.6A459.9 459.9 0 0 0 532.3 -152.6L393.1 -393.6A453.9 453.9 0 0 0 -380.7 -413.9Z" fill="#00ff7f"/>
<path d="M-378.9 -414.4L-519.6 -197.5A483.7 483.7 0 0 0 -87.7 548.7L160.4 535.3A457.7 457.7 0 0 0 531.9 -150.6L391.2 -394.4A451.7 451.7 0 0 0 -378.9 -414.4Z" fill="#00ff7c"/>
<path d="M-377 -415L-519.5 -195.3A481.5 481.5 0 0 0 -89.6 547.5L161.8 533.9A455.3 455.3 0 0 0 531.6 -148.4L389.1 -395.2A449.3 449.3 0 0 0 -377 -415Z" fill="#00ff79"/>
<path d="M-375.3 -415.5L-519.4 -193.1A479.4 479.4 0 0 0 -91.4 546.3L163.1 532.7A453.1 453.1 0 0 0 531.3 -146.4L387.2 -396A447.1 447.1 0 0 0 -375.3 -415.5Z" fill="#00ff76"/>
<path d="M-373.5 -416.1L-519.2 -191A477.3 477.3 0 0 0 -93.3 545.1L164.4 531.4A450.9 450.9 0 0 0 531 -144.3L385.3 -396.7A444.9 444.9 0 0 0 -373.5 -416.1Z" fill="#00ff73"/>
<path d="M-371.7 -416.6L-519.1 -188.8A475.3 475.3 0 0 0 -95.1 543.9L165.7 530.2A448.7 448.7 0 0 0 530.8 -142.3L383.4 -397.5A442.7 442.7 0 0 0 -371.7 -416.6Z" fill="#00ff70"/>
<path d="M-370 -417.2L-519 -186.7A473.2 473.2 0 0 0 -96.9 542.7L167.1 528.9A446.5 446.5 0 0 0 530.5 -140.3L381.5 -398.3A440.5 440.5 0 0 0 -370 -417.2Z" fill="#00ff6d"/>
<path d="M-368.3 -417.7L-518.8 -184.7A471.3 471.3 0 0 0 -98.6 541.6L168.3 527.8A444.5 444.5 0 0 0 530.2 -138.4L379.7 -399A438.5 438.5 0 0 0 -368.3 -417.7Z" fill="#00ff6a"/>
<path d="M-366.7 -418.2L-518.7 -182.7A469.3 469.3 0 0 0 -100.2 540.5L169.6 526.6A442.4 442.4 0 0 0 530 -136.5L378 -399.7A436.4 436.4 0 0 0 -366.7 -418.2Z" fill="#00ff67"/>
<path d="M-365.2 -418.7L-518.6 -180.9A467.6 467.6 0 0 0 -101.8 539.5L170.7 525.5A440.6 440.6 0 0 0 529.7 -134.7L376.3 -400.4A434.6 434.6 0 0 0 -365.2 -418.7Z" fill="#00ff64"/>
<path d="M-364.1 -418.7L-518.7 -178.4A465.5 465.5 0 0 0 -104 538.4L171.3 524.6A438.9 438.9 0 0 0 529.5 -133.2L374.9 -400.9A432.9 432.9 0 0 0 -364.1 -418.7Z" fill="#00ff61"/>
<path d="M-363.1 -418.7L-518.8 -176.1A463.6 463.6 0 0 0 -106.1 537.3L171.7 523.8A437.5 437.5 0 0 0 529.3 -131.9L373.7 -401.4A431.5 431.5 0 0 0 -363.1 -418.7Z" fill="#00ff5e"/>
<path d="M-362.1 -418.7L-518.9 -173.7A461.6 461.6 0 0 0 -108.3 536.2L172.2 522.9A435.9 435.9 0 0 0 529 -130.4L372.3 -401.9A429.9 429.9 0 0 0 -362.1 -418.7Z" fill="#00ff5b"/>
<path d="M-361.2 -418.8L-519 -171.6A459.8 459.8 0 0 0 -110.2 535.2L172.7 522.1A434.5 434.5 0 0 0 528.8 -129.2L371.1 -402.4A428.5 428.5 0 0 0 -361.2 -418.8Z" fill="#00ff58"/>
<path d="M-360.2 -418.8L-519.1 -169.3A457.9 457.9 0 0 0 -112.2 534.2L173.1 521.3A433.1 433.1 0 0 0 528.6 -127.9L369.9 -402.9A427.1 427.1 0 0 0 -360.2 -418.8Z" fill="#00ff55"/>
<path d="M-359.3 -418.8L-519.2 -167.3A456.2 456.2 0 0 0 -114 533.3L173.6 520.5A431.7 431.7 0 0 0 528.4 -126.7L368.7 -403.3A425.7 425.7 0 0 0 -359.3 -418.8Z" fill="#00ff52"/>
<path d="M-358.4 -418.9L-519.3 -165.3A454.5 454.5 0 0 0 -115.9 532.3L174.1 519.8A430.4 430.4 0 0 0 528.2 -125.4L367.5 -403.7A424.4 424.4 0 0 0 -358.4 -418.9Z" fill="#00ff4f"/>
<path d="M-357.6 -418.9L-519.3 -163.4A453 453 0 0 0 -117.5 531.4L174.5 519.1A429.2 429.2 0 0 0 528 -124.3L366.5 -404.1A423.2 423.2 0 0 0 -357.6 -418.9Z" fill="#00ff4c"/>
<path d="M-356.7 -419L-519.4 -161.6A451.4 451.4 0 0 0 -119.1 530.6L174.9 518.4A428 428 0 0 0 527.9 -123.2L365.5 -404.5A422 422 0 0 0 -356.7 -419Z" fill="#00ff49"/>
<path d="M-356 -419L-519.4 -160A450 450 0 0 0 -120.5 529.8L175.3 517.8A426.9 426.9 0 0 0 527.7 -122.3L364.5 -404.9A420.9 420.9 0 0 0 -356 -419Z" fill="#00ff46"/>
<path d="M-355.3 -419.1L-519.5 -158.4A448.7 448.7 0 0 0 -122 529.1L175.7 517.2A425.9 425.9 0 0 0 527.5 -121.3L363.6 -405.2A419.9 419.9 0 0 0 -355.3 -419.1Z" fill="#00ff43"/>
<path d="M-354.5 -419.1L-519.5 -156.8A447.3 447.3 0 0 0 -123.4 528.3L176.1 516.6A424.8 424.8 0 0 0 527.4 -120.3L362.7 -405.6A418.8 418.8 0 0 0 -354.5 -419.1Z" fill="#00ff40"/>
<path d="M-353.8 -419.2L-519.6 -155.2A445.9 445.9 0 0 0 -124.8 527.5L176.5 516A423.7 423.7 0 0 0 527.2 -119.3L361.8 -405.9A417.7 417.7 0 0 0 -353.8 -419.2Z" fill="#00ff3d"/>
<path d="M-353.1 -419.3L-519.6 -153.8A444.7 444.7 0 0 0 -126.1 526.9L176.9 515.4A422.8 422.8 0 0 0 527.1 -118.5L361 -406.2A416.8 416.8 0 0 0 -353.1 -419.3Z" fill="#00ff3a"/>
<path d="M-352.6 -419.3L-519.6 -152.6A443.7 443.7 0 0 0 -127.1 526.3L177.2 515A422 422 0 0 0 527 -117.8L360.3 -406.5A416 416 0 0 0 -352.6 -419.3Z" fill="#00ff37"/>
<path d="M-351.9 -419.4L-519.6 -151.2A442.5 442.5 0 0 0 -128.3 525.6L177.6 514.4A421.1 421.1 0 0 0 526.8 -116.9L359.5 -406.8A415.1 415.1 0 0 0 -351.9 -419.4Z" fill="#00ff34"/>
<path d="M-350.8 -419.8L-519.7 -149.3A440.8 440.8 0 0 0 -130 524.7L178.4 513.6A419.6 419.6 0 0 0 526.7 -115.5L358.2 -407.4A413.6 413.6 0 0 0 -350.8 -419.8Z" fill="#00ff31"/>
<path d="M-347.7 -421.1L-519.9 -144.7A436.6 436.6 0 0 0 -134.2 522.6L181.1 511.6A415.6 415.6 0 0 0 526.6 -111.6L354.8 -409.3A409.6 409.6 0 0 0 -347.7 -421.1Z" fill="#00ff2e"/>
<path d="M-345.1 -422.2L-520.1 -140.8A433.1 433.1 0 0 0 -137.6 520.8L183.4 509.9A412.4 412.4 0 0 0 526.5 -108.4L351.9 -410.8A406.4 406.4 0 0 0 -345.1 -422.2Z" fill="#00ff2b"/>
<path d="M-342.4 -423.4L-520.2 -137A429.7 429.7 0 0 0 -141 519L185.6 508.2A409.1 409.1 0 0 0 526.4 -105.1L349.1 -412.3A403.1 403.1 0 0 0 -342.4 -423.4Z" fill="#00ff28"/>
<path d="M-340.3 -424.3L-520.3 -134A426.9 426.9 0 0 0 -143.7 517.6L187.5 506.9A406.4 406.4 0 0 0 526.3 -102.6L346.8 -413.5A400.4 400.4 0 0 0 -340.3 -424.3Z" fill="#00ff25"/>
<path d="M-337.7 -425.5L-520.5 -130.2A423.4 423.4 0 0 0 -147.1 515.8L189.8 505.2A403.2 403.2 0 0 0 526.2 -99.3L343.9 -415.1A397.2 397.2 0 0 0 -337.7 -425.5Z" fill="#00ff21"/>
<path d="M-336.1 -426.2L-520.5 -127.9A421.3 421.3 0 0 0 -149.1 514.7L191.2 504.2A401.2 401.2 0 0 0 526.2 -97.4L342.2 -416A395.2 395.2 0 0 0 -336.1 -426.2Z" fill="#00ff1f"/>
<path d="M-334 -427.1L-520.6 -124.9A418.5 418.5 0 0 0 -151.8 513.3L193 502.8A398.6 398.6 0 0 0 526.1 -94.8L340 -417.2A392.6 392.6 0 0 0 -334 -427.1Z" fill="#00ff1b"/>
<path d="M-332.4 -427.9L-520.7 -122.6A416.4 416.4 0 0 0 -153.8 512.2L194.4 501.8A396.6 396.6 0 0 0 526 -92.9L338.3 -418.1A390.6 390.6 0 0 0 -332.4 -427.9Z" fill="#00ff18"/>
<path d="M-331.4 -428.3L-520.7 -121.1A415.1 415.1 0 0 0 -155.1 511.5L195.4 501.1A395.3 395.3 0 0 0 526 -91.6L337.1 -418.7A389.3 389.3 0 0 0 -331.4 -428.3Z" fill="#00ff16"/>
<path d="M-329.8 -429.1L-520.8 -118.9A413 413 0 0 0 -157.1 510.5L196.8 500.1A393.3 393.3 0 0 0 525.9 -89.7L335.4 -419.6A387.3 387.3 0 0 0 -329.8 -429.1Z" fill="#00ff12"/>
<path d="M-328.7 -429.6L-520.8 -117.4A411.6 411.6 0 0 0 -158.4 509.7L197.7 499.5A392 392 0 0 0 525.9 -88.4L334.3 -420.3A386 386 0 0 0 -328.7 -429.6Z" fill="#00ff0e"/>
<path d="M-328.2 -429.8L-520.9 -116.6A410.9 410.9 0 0 0 -159.1 509.4L198.2 499.1A391.3 391.3 0 0 0 525.9 -87.7L333.7 -420.6A385.3 385.3 0 0 0 -328.2 -429.8Z" fill="#00ff0c"/>
<path d="M-327.7 -430L-520.9 -115.9A410.2 410.2 0 0 0 -159.8 509L198.7 498.8A390.7 390.7 0 0 0 525.9 -87.1L333.1 -420.9A384.7 384.7 0 0 0 -327.7 -430Z" fill="#00ff0a"/>
<path d="M-327.1 -430.3L-520.9 -115.1A409.5 409.5 0 0 0 -160.4 508.7L199.1 498.4A390 390 0 0 0 525.8 -86.4L332.6 -421.2A384 384 0 0 0 -327.1 -430.3Z" fill="#00ff06"/>
<path d="M-326.6 -430.5L-520.9 -114.4A408.8 408.8 0 0 0 -161.1 508.3L199.6 498.1A389.4 389.4 0 0 0 525.8 -85.8L332 -421.5A383.4 383.4 0 0 0 -326.6 -430.5Z" fill="#04ff00"/>
<path d="M-326.6 -430.5L-520.9 -114.4A408.8 408.8 0 0 0 -161.1 508.3L199.6 498.1A389.4 389.4 0 0 0 525.8 -85.8L332 -421.5A383.4 383.4 0 0 0 -326.6 -430.5Z" fill="#04ff00"/>
<path d="M-326.6 -430.5L-520.9 -114.4A408.8 408.8 0 0 0 -161.1 508.3L199.6 498.1A389.4 389.4 0 0 0 525.8 -85.8L332 -421.5A383.4 383.4 0 0 0 -326.6 -430.5Z" fill="#04ff00"/>
<path d="M-326.1 -430.8L-520.9 -113.6A408.1 408.1 0 0 0 -161.7 508L200.1 497.8A388.7 388.7 0 0 0 525.8 -85.1L331.4 -421.8A382.7 382.7 0 0 0 -326.1 -430.8Z" fill="#09ff00"/>
<path d="M-326.1 -430.8L-520.9 -113.6A408.1 408.1 0 0 0 -161.7 508L200.1 497.8A388.7 388.7 0 0 0 525.8 -85.1L331.4 -421.8A382.7 382.7 0 0 0 -326.1 -430.8Z" fill="#09ff00"/>
<path d="M-325.5 -431L-521 -112.9A407.4 407.4 0 0 0 -162.4 507.6L200.6 497.4A388.1 388.1 0 0 0 525.8 -84.5L330.9 -422.1A382.1 382.1 0 0 0 -325.5 -431Z" fill="#0cff00"/>
<path d="M-324.5 -431.5L-521 -111.4A406 406 0 0 0 -163.7 506.9L201.5 496.8A386.7 386.7 0 0 0 525.7 -83.2L329.7 -422.7A380.7 380.7 0 0 0 -324.5 -431.5Z" fill="#10ff00"/>
<path d="M-323.9 -431.8L-521 -110.6A405.3 405.3 0 0 0 -164.4 506.5L202 496.4A386.1 386.1 0 0 0 525.7 -82.6L329.2 -423A380.1 380.1 0 0 0 -323.9 -431.8Z" fill="#11ff00"/>
<path d="M-322.9 -432.3L-521 -109.2A403.9 403.9 0 0 0 -165.7 505.8L203 495.7A384.8 384.8 0 0 0 525.7 -81.3L328 -423.6A378.8 378.8 0 0 0 -322.9 -432.3Z" fill="#14ff00"/>
<path d="M-321.4 -432.9L-521 -107.1A401.9 401.9 0 0 0 -167.5 504.7L204.2 494.7A382.9 382.9 0 0 0 525.5 -79.5L326.4 -424.4A376.9 376.9 0 0 0 -321.4 -432.9Z" fill="#18ff00"/>
<path d="M-320.7 -433L-520.9 -106.2A401.1 401.1 0 0 0 -168.2 504.2L204.7 494.3A382.1 382.1 0 0 0 525.4 -78.8L325.8 -424.6A376.1 376.1 0 0 0 -320.7 -433Z" fill="#1bff00"/>
<path d="M-320.6 -432.9L-520.8 -106.1A400.9 400.9 0 0 0 -168.2 504L204.7 494.1A382 382 0 0 0 525.3 -78.7L325.6 -424.5A376 376 0 0 0 -320.6 -432.9Z" fill="#1eff00"/>
<path d="M-320.5 -432.7L-520.7 -105.9A400.7 400.7 0 0 0 -168.3 503.9L204.6 493.9A381.8 381.8 0 0 0 525.1 -78.6L325.5 -424.4A375.8 375.8 0 0 0 -320.5 -432.7Z" fill="#20ff00"/>
<path d="M-320.4 -432.6L-520.5 -105.7A400.4 400.4 0 0 0 -168.4 503.6L204.6 493.7A381.6 381.6 0 0 0 524.9 -78.5L325.3 -424.2A375.6 375.6 0 0 0 -320.4 -432.6Z" fill="#23ff00"/>
<path d="M-320.2 -432.4L-520.3 -105.5A400.1 400.1 0 0 0 -168.5 503.4L204.6 493.5A381.3 381.3 0 0 0 524.7 -78.4L325.1 -424.1A375.4 375.4 0 0 0 -320.2 -432.4Z" fill="#26ff00"/>
<path d="M-320 -432.2L-520.1 -105.2A399.7 399.7 0 0 0 -168.7 503L204.5 493.2A381.1 381.1 0 0 0 524.5 -78.2L324.9 -423.9A375.2 375.2 0 0 0 -320 -432.2Z" fill="#2aff00"/>
<path d="M-319.8 -432L-519.9 -105A399.4 399.4 0 0 0 -168.8 502.7L204.5 493A380.8 380.8 0 0 0 524.3 -78.1L324.7 -423.8A374.9 374.9 0 0 0 -319.8 -432Z" fill="#2dff00"/>
<path d="M-319.6 -431.8L-519.7 -104.7A399 399 0 0 0 -168.9 502.4L204.4 492.7A380.5 380.5 0 0 0 524 -78L324.5 -423.6A374.7 374.7 0 0 0 -319.6 -431.8Z" fill="#2fff00"/>
<path d="M-319.4 -431.5L-519.5 -104.4A398.6 398.6 0 0 0 -169.1 502L204.4 492.4A380.2 380.2 0 0 0 523.8 -77.8L324.2 -423.4A374.4 374.4 0 0 0 -319.4 -431.5Z" fill="#33ff00"/>
<path d="M-319.1 -431.3L-519.2 -104A398.2 398.2 0 0 0 -169.2 501.7L204.3 492A379.8 379.8 0 0 0 523.5 -77.6L323.9 -423.2A374.1 374.1 0 0 0 -319.1 -431.3Z" fill="#36ff00"/>
<path d="M-318.9 -431.1L-519 -103.7A397.7 397.7 0 0 0 -169.4 501.3L204.3 491.7A379.5 379.5 0 0 0 523.2 -77.4L323.7 -423A373.8 373.8 0 0 0 -318.9 -431.1Z" fill="#38ff00"/>
<path d="M-318.6 -430.8L-518.7 -103.4A397.2 397.2 0 0 0 -169.6 500.9L204.2 491.3A379.1 379.1 0 0 0 522.9 -77.2L323.4 -422.8A373.4 373.4 0 0 0 -318.6 -430.8Z" fill="#3bff00"/>
<path d="M-318.4 -430.5L-518.4 -103A396.7 396.7 0 0 0 -169.7 500.4L204.1 490.9A378.7 378.7 0 0 0 522.6 -77L323.1 -422.6A373 373 0 0 0 -318.4 -430.5Z" fill="#3eff00"/>
<path d="M-318.1 -430.2L-518 -102.6A396.2 396.2 0 0 0 -169.9 499.9L204.1 490.5A378.3 378.3 0 0 0 522.2 -76.8L322.7 -422.3A372.6 372.6 0 0 0 -318.1 -430.2Z" fill="#42ff00"/>
<path d="M-317.7 -429.8L-517.7 -102.1A395.6 395.6 0 0 0 -170.2 499.4L204 490.1A377.9 377.9 0 0 0 521.8 -76.6L322.4 -422A372.2 372.2 0 0 0 -317.7 -429.8Z" fill="#45ff00"/>
<path d="M-317.5 -429.4L-517.3 -101.8A395.1 395.1 0 0 0 -170.2 498.9L203.8 489.6A377.5 377.5 0 0 0 521.4 -76.5L322.1 -421.7A371.9 371.9 0 0 0 -317.5 -429.4Z" fill="#47ff00"/>
<path d="M-317.3 -428.8L-516.8 -101.6A394.6 394.6 0 0 0 -170.1 498.3L203.5 489.1A377.2 377.2 0 0 0 520.8 -76.5L321.8 -421.1A371.6 371.6 0 0 0 -317.3 -428.8Z" fill="#4bff00"/>
<path d="M-317.1 -428.2L-516.2 -101.4A394.2 394.2 0 0 0 -170.1 497.8L203.1 488.7A376.8 376.8 0 0 0 520.2 -76.5L321.6 -420.6A371.3 371.3 0 0 0 -317.1 -428.2Z" fill="#4eff00"/>
<path d="M-316.8 -427.6L-515.8 -101.1A393.6 393.6 0 0 0 -170.1 497.2L202.8 488.2A376.4 376.4 0 0 0 519.7 -76.4L321.3 -420.1A371 371 0 0 0 -316.8 -427.6Z" fill="#50ff00"/>
<path d="M-316.3 -427.4L-515.5 -100.4A392.8 392.8 0 0 0 -170.6 496.6L203 487.6A375.8 375.8 0 0 0 519.4 -75.9L320.7 -420A370.3 370.3 0 0 0 -316.3 -427.4ZM-371.1 -234.8a371.1 371.1 0 1 0 742.2 0a371.1 371.1 0 1 0 -742.2 0ZM-573.5 103.9a393.5 393.5 0 1 0 787.1 0a393.5 393.5 0 1 0 -787.1 0ZM-182.6 112a376.5 376.5 0 1 0 753 0a376.5 376.5 0 1 0 -753 0Z" fill="#54ff00"/>
<path d="M-315.8 -427.2L-515.2 -99.6A391.9 391.9 0 0 0 -171.1 496L203.1 487.1A375.1 375.1 0 0 0 519 -75.4L320.2 -419.8A369.7 369.7 0 0 0 -315.8 -427.2ZM-370.6 -235a370.6 370.6 0 1 0 741.3 0a370.6 370.6 0 1 0 -741.3 0ZM-573.3 104.1a392.9 392.9 0 1 0 785.8 0a392.9 392.9 0 1 0 -785.8 0ZM-181.8 112.1a376 376 0 1 0 752 0a376 376 0 1 0 -752 0Z" fill="#56ff00"/>
<path d="M-315.2 -427L-514.8 -98.8A391 391 0 0 0 -171.6 495.3L203.2 486.5A374.3 374.3 0 0 0 518.6 -74.9L319.6 -419.7A369 369 0 0 0 -315.2 -427ZM-370.1 -235.2a370.1 370.1 0 1 0 740.3 0a370.1 370.1 0 1 0 -740.3 0ZM-572.9 104.4a392.2 392.2 0 1 0 784.3 0a392.2 392.2 0 1 0 -784.3 0ZM-181 112.3a375.5 375.5 0 1 0 750.9 0a375.5 375.5 0 1 0 -750.9 0Z" fill="#5aff00"/>
<path d="M-314.7 -426.7L-514.5 -98.1A390.2 390.2 0 0 0 -172.1 494.6L203.4 485.9A373.6 373.6 0 0 0 518.3 -74.4L319 -419.6A368.3 368.3 0 0 0 -314.7 -426.7ZM-369.7 -235.4a369.7 369.7 0 1 0 739.4 0a369.7 369.7 0 1 0 -739.4 0ZM-572.7 104.6a391.5 391.5 0 1 0 783 0a391.5 391.5 0 1 0 -783 0ZM-180.3 112.4a375 375 0 1 0 749.9 0a375 375 0 1 0 -749.9 0Z" fill="#5cff00"/>
<path d="M-314.1 -426.5L-514.2 -97.2A389.1 389.1 0 0 0 -172.7 493.9L203.5 485.3A372.8 372.8 0 0 0 517.9 -73.8L318.3 -419.4A367.6 367.6 0 0 0 -314.1 -426.5ZM-369.1 -235.6a369.1 369.1 0 1 0 738.3 0a369.1 369.1 0 1 0 -738.3 0ZM-572.3 104.9a390.7 390.7 0 1 0 781.4 0a390.7 390.7 0 1 0 -781.4 0ZM-179.4 112.6a374.4 374.4 0 1 0 748.7 0a374.4 374.4 0 1 0 -748.7 0Z" fill="#60ff00"/>
<path d="M-313.6 -426.2L-513.9 -96.4A388.2 388.2 0 0 0 -173.3 493.2L203.7 484.7A372 372 0 0 0 517.5 -73.3L317.7 -419.3A366.9 366.9 0 0 0 -313.6 -426.2ZM-368.6 -235.8a368.6 368.6 0 1 0 737.3 0a368.6 368.6 0 1 0 -737.3 0ZM-572 105.1a390 390 0 1 0 780 0a390 390 0 1 0 -780 0ZM-178.5 112.7a373.8 373.8 0 1 0 747.6 0a373.8 373.8 0 1 0 -747.6 0Z" fill="#62ff00"/>
<path d="M-313 -426L-513.5 -95.5A387.2 387.2 0 0 0 -173.9 492.4L203.8 484A371.2 371.2 0 0 0 517.1 -72.7L317 -419.1A366.1 366.1 0 0 0 -313 -426ZM-368.1 -236.1a368.1 368.1 0 1 0 736.2 0a368.1 368.1 0 1 0 -736.2 0ZM-571.7 105.4a389.2 389.2 0 1 0 778.4 0a389.2 389.2 0 1 0 -778.4 0ZM-177.6 112.9a373.2 373.2 0 1 0 746.4 0a373.2 373.2 0 1 0 -746.4 0Z" fill="#65ff00"/>
<path d="M-312.3 -425.7L-513.1 -94.5A386.1 386.1 0 0 0 -174.5 491.6L204 483.3A370.3 370.3 0 0 0 516.6 -72.1L316.3 -419A365.3 365.3 0 0 0 -312.3 -425.7ZM-367.5 -236.3a367.5 367.5 0 1 0 735 0a367.5 367.5 0 1 0 -735 0ZM-571.3 105.6a388.3 388.3 0 1 0 776.6 0a388.3 388.3 0 1 0 -776.6 0ZM-176.7 113.1a372.6 372.6 0 1 0 745.1 0a372.6 372.6 0 1 0 -745.1 0Z" fill="#69ff00"/>
<path d="M-311.7 -425.4L-512.7 -93.6A385 385 0 0 0 -175.2 490.8L204.2 482.6A369.4 369.4 0 0 0 516.1 -71.4L315.6 -418.8A364.4 364.4 0 0 0 -311.7 -425.4ZM-366.9 -236.6a366.9 366.9 0 1 0 733.8 0a366.9 366.9 0 1 0 -733.8 0ZM-570.9 105.9a387.5 387.5 0 1 0 774.9 0a387.5 387.5 0 1 0 -774.9 0ZM-175.7 113.3a371.9 371.9 0 1 0 743.8 0a371.9 371.9 0 1 0 -743.8 0Z" fill="#6cff00"/>
<path d="M-311 -425.1L-512.3 -92.6A383.9 383.9 0 0 0 -175.8 490L204.4 481.9A368.5 368.5 0 0 0 515.7 -70.8L314.9 -418.6A363.6 363.6 0 0 0 -311 -425.1ZM-366.3 -236.8a366.3 366.3 0 1 0 732.6 0a366.3 366.3 0 1 0 -732.6 0ZM-570.6 106.2a386.6 386.6 0 1 0 773.2 0a386.6 386.6 0 1 0 -773.2 0ZM-174.7 113.5a371.3 371.3 0 1 0 742.5 0a371.3 371.3 0 1 0 -742.5 0Z" fill="#6fff00"/>
<path d="M-310.3 -424.8L-511.9 -91.6A382.7 382.7 0 0 0 -176.5 489.1L204.6 481.2A367.6 367.6 0 0 0 515.2 -70.1L314.1 -418.4A362.7 362.7 0 0 0 -310.3 -424.8ZM-365.7 -237.1a365.7 365.7 0 1 0 731.3 0a365.7 365.7 0 1 0 -731.3 0ZM-570.2 106.5a385.7 385.7 0 1 0 771.4 0a385.7 385.7 0 1 0 -771.4 0ZM-173.7 113.7a370.5 370.5 0 1 0 741.1 0a370.5 370.5 0 1 0 -741.1 0Z" fill="#72ff00"/>
<path d="M-309.6 -424.5L-511.5 -90.5A381.5 381.5 0 0 0 -177.2 488.2L204.8 480.4A366.6 366.6 0 0 0 514.7 -69.4L313.3 -418.3A361.8 361.8 0 0 0 -309.6 -424.5ZM-365 -237.4a365 365 0 1 0 730.1 0a365 365 0 1 0 -730.1 0ZM-569.8 106.8a384.7 384.7 0 1 0 769.5 0a384.7 384.7 0 1 0 -769.5 0ZM-172.6 113.9a369.8 369.8 0 1 0 739.7 0a369.8 369.8 0 1 0 -739.7 0Z" fill="#75ff00"/>
<path d="M-308.9 -424.2L-511.1 -89.5A380.3 380.3 0 0 0 -177.9 487.4L205 479.6A365.6 365.6 0 0 0 514.2 -68.8L312.5 -418.1A360.9 360.9 0 0 0 -308.9 -424.2ZM-364.4 -237.6a364.4 364.4 0 1 0 728.8 0a364.4 364.4 0 1 0 -728.8 0ZM-569.4 107.1a383.8 383.8 0 1 0 767.6 0a383.8 383.8 0 1 0 -767.6 0ZM-171.6 114.1a369.1 369.1 0 1 0 738.3 0a369.1 369.1 0 1 0 -738.3 0Z" fill="#78ff00"/>
<path d="M-308.2 -423.9L-510.6 -88.4A379.1 379.1 0 0 0 -178.6 486.4L205.2 478.8A364.6 364.6 0 0 0 513.7 -68L311.7 -417.9A359.9 359.9 0 0 0 -308.2 -423.9ZM-363.7 -237.9a363.7 363.7 0 1 0 727.4 0a363.7 363.7 0 1 0 -727.4 0ZM-568.9 107.5a382.8 382.8 0 1 0 765.7 0a382.8 382.8 0 1 0 -765.7 0ZM-170.5 114.3a368.4 368.4 0 1 0 736.8 0a368.4 368.4 0 1 0 -736.8 0Z" fill="#7bff00"/>
<path d="M-307.3 -423.6L-510.2 -87.3A377.7 377.7 0 0 0 -179.4 485.4L205.4 478A363.5 363.5 0 0 0 513.2 -67.2L310.8 -417.7A358.9 358.9 0 0 0 -307.3 -423.6ZM-363 -238.3a363 363 0 1 0 725.9 0a363 363 0 1 0 -725.9 0ZM-568.5 107.8a381.8 381.8 0 1 0 763.6 0a381.8 381.8 0 1 0 -763.6 0ZM-169.2 114.5a367.6 367.6 0 1 0 735.2 0a367.6 367.6 0 1 0 -735.2 0Z" fill="#7eff00"/>
<path d="M-306.3 -423.4L-509.7 -85.9A376.1 376.1 0 0 0 -180.3 484.3L205.8 477A362.2 362.2 0 0 0 512.6 -66.2L309.7 -417.6A357.6 357.6 0 0 0 -306.3 -423.4ZM-362.1 -238.8a362.1 362.1 0 1 0 724.1 0a362.1 362.1 0 1 0 -724.1 0ZM-568.1 108.2a380.6 380.6 0 1 0 761.2 0a380.6 380.6 0 1 0 -761.2 0ZM-167.7 114.8a366.6 366.6 0 1 0 733.2 0a366.6 366.6 0 1 0 -733.2 0Z" fill="#81ff00"/>
<path d="M-305.2 -423.1L-509.1 -84.4A374.5 374.5 0 0 0 -181.3 483.1L206.2 475.9A360.8 360.8 0 0 0 511.9 -65.2L308.5 -417.5A356.3 356.3 0 0 0 -305.2 -423.1ZM-361.1 -239.3a361.1 361.1 0 1 0 722.2 0a361.1 361.1 0 1 0 -722.2 0ZM-567.6 108.7a379.3 379.3 0 1 0 758.6 0a379.3 379.3 0 1 0 -758.6 0ZM-166.1 115.2a365.6 365.6 0 1 0 731.1 0a365.6 365.6 0 1 0 -731.1 0Z" fill="#84ff00"/>
<path d="M-304.1 -422.8L-508.5 -82.9A372.7 372.7 0 0 0 -182.4 481.8L206.7 474.7A359.2 359.2 0 0 0 511.3 -64.1L307.3 -417.3A354.8 354.8 0 0 0 -304.1 -422.8ZM-360.1 -239.9a360.1 360.1 0 1 0 720.1 0a360.1 360.1 0 1 0 -720.1 0ZM-567.1 109.2a377.9 377.9 0 1 0 755.8 0a377.9 377.9 0 1 0 -755.8 0ZM-164.3 115.6a364.5 364.5 0 1 0 728.9 0a364.5 364.5 0 1 0 -728.9 0Z" fill="#87ff00"/>
<path d="M-303 -422.5L-508 -81.4A371 371 0 0 0 -183.4 480.6L207.1 473.7A357.8 357.8 0 0 0 510.6 -63L306.1 -417.2A353.5 353.5 0 0 0 -303 -422.5ZM-359.1 -240.5a359.1 359.1 0 1 0 718.2 0a359.1 359.1 0 1 0 -718.2 0ZM-566.6 109.7a376.6 376.6 0 1 0 753.2 0a376.6 376.6 0 1 0 -753.2 0ZM-162.7 115.9a363.4 363.4 0 1 0 726.9 0a363.4 363.4 0 1 0 -726.9 0Z" fill="#8aff00"/>
<path d="M-301.8 -422.3L-507.4 -79.8A369.2 369.2 0 0 0 -184.4 479.3L207.6 472.5A356.3 356.3 0 0 0 510 -61.9L304.9 -417.1A352 352 0 0 0 -301.8 -422.3ZM-358 -241.1a358 358 0 1 0 716.1 0a358 358 0 1 0 -716.1 0ZM-566.1 110.2a375.2 375.2 0 1 0 750.4 0a375.2 375.2 0 1 0 -750.4 0ZM-160.9 116.3a362.3 362.3 0 1 0 724.6 0a362.3 362.3 0 1 0 -724.6 0Z" fill="#8dff00"/>
<path d="M-300.5 -422.1L-506.9 -78A367.2 367.2 0 0 0 -185.8 478L208.3 471.3A354.6 354.6 0 0 0 509.4 -60.5L303.5 -417.1A350.4 350.4 0 0 0 -300.5 -422.1ZM-356.8 -241.9a356.8 356.8 0 1 0 713.7 0a356.8 356.8 0 1 0 -713.7 0ZM-565.6 110.8a373.6 373.6 0 1 0 747.3 0a373.6 373.6 0 1 0 -747.3 0ZM-158.7 116.8a361 361 0 1 0 722 0a361 361 0 1 0 -722 0Z" fill="#90ff00"/>
<path d="M-299.2 -422L-506.4 -76.2A365.2 365.2 0 0 0 -187.1 476.6L209 470.1A352.9 352.9 0 0 0 508.8 -59.1L302.1 -417.2A348.8 348.8 0 0 0 -299.2 -422ZM-355.6 -242.8a355.6 355.6 0 1 0 711.3 0a355.6 355.6 0 1 0 -711.3 0ZM-565.1 111.5a372.1 372.1 0 1 0 744.1 0a372.1 372.1 0 1 0 -744.1 0ZM-156.6 117.3a359.7 359.7 0 1 0 719.5 0a359.7 359.7 0 1 0 -719.5 0Z" fill="#93ff00"/>
<path d="M-297.9 -421.9L-505.8 -74.4A363.2 363.2 0 0 0 -188.4 475.3L209.6 468.9A351.2 351.2 0 0 0 508.1 -57.8L300.6 -417.2A347.2 347.2 0 0 0 -297.9 -421.9ZM-354.4 -243.6a354.4 354.4 0 1 0 708.9 0a354.4 354.4 0 1 0 -708.9 0ZM-564.7 112.1a370.5 370.5 0 1 0 741 0a370.5 370.5 0 1 0 -741 0ZM-154.4 117.8a358.4 358.4 0 1 0 716.9 0a358.4 358.4 0 1 0 -716.9 0Z" fill="#96ff00"/>
<path d="M-296.5 -421.8L-505.3 -72.5A361.1 361.1 0 0 0 -189.8 473.8L210.4 467.6A349.4 349.4 0 0 0 507.5 -56.3L299.2 -417.2A345.4 345.4 0 0 0 -296.5 -421.8ZM-353.2 -244.5a353.2 353.2 0 1 0 706.3 0a353.2 353.2 0 1 0 -706.3 0ZM-564.2 112.8a368.8 368.8 0 1 0 737.7 0a368.8 368.8 0 1 0 -737.7 0ZM-152.1 118.3a357.1 357.1 0 1 0 714.2 0a357.1 357.1 0 1 0 -714.2 0Z" fill="#99ff00"/>
<path d="M-295.1 -421.6L-504.7 -70.6A359 359 0 0 0 -191.1 472.4L211.1 466.4A347.5 347.5 0 0 0 506.9 -54.9L297.7 -417.2A343.7 343.7 0 0 0 -295.1 -421.6ZM-351.9 -245.4a351.9 351.9 0 1 0 703.8 0a351.9 351.9 0 1 0 -703.8 0ZM-563.7 113.5a367.2 367.2 0 1 0 734.4 0a367.2 367.2 0 1 0 -734.4 0ZM-149.9 118.9a355.7 355.7 0 1 0 711.5 0a355.7 355.7 0 1 0 -711.5 0Z" fill="#9cff00"/>
<path d="M-293.7 -421.5L-504.2 -68.7A356.9 356.9 0 0 0 -192.5 471L211.8 465.1A345.7 345.7 0 0 0 506.2 -53.5L296.2 -417.3A342 342 0 0 0 -293.7 -421.5ZM-350.6 -246.3a350.6 350.6 0 1 0 701.3 0a350.6 350.6 0 1 0 -701.3 0ZM-563.2 114.1a365.5 365.5 0 1 0 731 0a365.5 365.5 0 1 0 -731 0ZM-147.6 119.4a354.4 354.4 0 1 0 708.8 0a354.4 354.4 0 1 0 -708.8 0Z" fill="#9fff00"/>
<path d="M-292.2 -421.4L-503.6 -66.7A354.7 354.7 0 0 0 -193.9 469.5L212.6 463.7A343.8 343.8 0 0 0 505.5 -52L294.6 -417.3A340.2 340.2 0 0 0 -292.2 -421.4ZM-349.3 -247.2a349.3 349.3 0 1 0 698.6 0a349.3 349.3 0 1 0 -698.6 0ZM-562.7 114.8a363.8 363.8 0 1 0 727.6 0a363.8 363.8 0 1 0 -727.6 0ZM-145.2 119.9a353 353 0 1 0 705.9 0a353 353 0 1 0 -705.9 0Z" fill="#a2ff00"/>
<path d="M-290.7 -421.2L-503 -64.7A352.4 352.4 0 0 0 -195.4 468L213.4 462.4A341.9 341.9 0 0 0 504.8 -50.5L293 -417.3A338.4 338.4 0 0 0 -290.7 -421.2ZM-348 -248.1a348 348 0 1 0 695.9 0a348 348 0 1 0 -695.9 0ZM-562.2 115.6a362 362 0 1 0 724.1 0a362 362 0 1 0 -724.1 0ZM-142.8 120.5a351.5 351.5 0 1 0 703.1 0a351.5 351.5 0 1 0 -703.1 0Z" fill="#a5ff00"/>
<path d="M-289.2 -421.1L-502.4 -62.6A350.1 350.1 0 0 0 -196.9 466.4L214.2 461A339.9 339.9 0 0 0 504.1 -48.9L291.4 -417.4A336.5 336.5 0 0 0 -289.2 -421.1ZM-346.6 -249.1a346.6 346.6 0 1 0 693.1 0a346.6 346.6 0 1 0 -693.1 0ZM-561.6 116.3a360.2 360.2 0 1 0 720.4 0a360.2 360.2 0 1 0 -720.4 0ZM-140.3 121.1a350 350 0 1 0 700.1 0a350 350 0 1 0 -700.1 0Z" fill="#a8ff00"/>
<path d="M-287.6 -421L-501.7 -60.6A347.8 347.8 0 0 0 -198.4 464.8L215 459.6A337.9 337.9 0 0 0 503.4 -47.3L289.7 -417.4A334.6 334.6 0 0 0 -287.6 -421ZM-345.2 -250.1a345.2 345.2 0 1 0 690.3 0a345.2 345.2 0 1 0 -690.3 0ZM-561.1 117a358.4 358.4 0 1 0 716.7 0a358.4 358.4 0 1 0 -716.7 0ZM-137.8 121.7a348.5 348.5 0 1 0 697.1 0a348.5 348.5 0 1 0 -697.1 0Z" fill="#abff00"/>
<path d="M-286.1 -420.8L-501.1 -58.5A345.4 345.4 0 0 0 -199.8 463.2L215.8 458.2A335.9 335.9 0 0 0 502.7 -45.7L288.1 -417.4A332.7 332.7 0 0 0 -286.1 -420.8ZM-343.8 -251.1a343.8 343.8 0 1 0 687.5 0a343.8 343.8 0 1 0 -687.5 0ZM-560.5 117.8a356.5 356.5 0 1 0 713.1 0a356.5 356.5 0 1 0 -713.1 0ZM-135.3 122.3a347 347 0 1 0 694.1 0a347 347 0 1 0 -694.1 0Z" fill="#aeff00"/>
<path d="M-284.5 -420.7L-500.4 -56.3A343 343 0 0 0 -201.4 461.5L216.7 456.7A333.9 333.9 0 0 0 501.9 -44.1L286.4 -417.5A330.7 330.7 0 0 0 -284.5 -420.7ZM-342.3 -252.1a342.3 342.3 0 1 0 684.6 0a342.3 342.3 0 1 0 -684.6 0ZM-560 118.6a354.6 354.6 0 1 0 709.2 0a354.6 354.6 0 1 0 -709.2 0ZM-132.6 122.9a345.5 345.5 0 1 0 690.9 0a345.5 345.5 0 1 0 -690.9 0Z" fill="#b1ff00"/>
<path d="M-282.8 -420.6L-499.8 -54.1A340.5 340.5 0 0 0 -203 459.9L217.6 455.2A331.8 331.8 0 0 0 501.2 -42.4L284.6 -417.5A328.7 328.7 0 0 0 -282.8 -420.6ZM-340.8 -253.1a340.8 340.8 0 1 0 681.6 0a340.8 340.8 0 1 0 -681.6 0ZM-559.4 119.4a352.7 352.7 0 1 0 705.4 0a352.7 352.7 0 1 0 -705.4 0ZM-130 123.5a343.9 343.9 0 1 0 687.8 0a343.9 343.9 0 1 0 -687.8 0Z" fill="#b4ff00"/>
<path d="M-281.2 -420.5L-499.1 -52A338.1 338.1 0 0 0 -204.5 458.2L218.4 453.8A329.7 329.7 0 0 0 500.5 -40.7L282.9 -417.5A326.7 326.7 0 0 0 -281.2 -420.5ZM-339.3 -254.2a339.3 339.3 0 1 0 678.7 0a339.3 339.3 0 1 0 -678.7 0ZM-558.8 120.1a350.8 350.8 0 1 0 701.5 0a350.8 350.8 0 1 0 -701.5 0ZM-127.4 124.1a342.3 342.3 0 1 0 684.7 0a342.3 342.3 0 1 0 -684.7 0Z" fill="#b7ff00"/>
<path d="M-279.5 -420.3L-498.4 -49.7A335.6 335.6 0 0 0 -206.1 456.5L219.4 452.2A327.5 327.5 0 0 0 499.7 -39L281.1 -417.6A324.6 324.6 0 0 0 -279.5 -420.3ZM-337.8 -255.3a337.8 337.8 0 1 0 675.6 0a337.8 337.8 0 1 0 -675.6 0ZM-558.3 120.9a348.8 348.8 0 1 0 697.5 0a348.8 348.8 0 1 0 -697.5 0ZM-124.6 124.7a340.7 340.7 0 1 0 681.4 0a340.7 340.7 0 1 0 -681.4 0Z" fill="#baff00"/>
<path d="M-277.7 -420.2L-497.7 -47.3A332.9 332.9 0 0 0 -207.8 454.7L220.3 450.6A325.2 325.2 0 0 0 498.9 -37.2L279.2 -417.6A322.4 322.4 0 0 0 -277.7 -420.2ZM-336.2 -256.4a336.2 336.2 0 1 0 672.4 0a336.2 336.2 0 1 0 -672.4 0ZM-557.6 121.8a346.7 346.7 0 1 0 693.3 0a346.7 346.7 0 1 0 -693.3 0ZM-121.8 125.4a339 339 0 1 0 678 0a339 339 0 1 0 -678 0Z" fill="#bdff00"/>
<path d="M-274.1 -420.5L-496.4 -43.3A328.2 328.2 0 0 0 -210.7 451.6L222.6 447.7A320.8 320.8 0 0 0 497.5 -33.6L275.5 -418.1A318.2 318.2 0 0 0 -274.1 -420.5ZM-333.1 -259a333.1 333.1 0 1 0 666.2 0a333.1 333.1 0 1 0 -666.2 0ZM-556.8 123.4a343.1 343.1 0 1 0 686.3 0a343.1 343.1 0 1 0 -686.3 0ZM-116.1 126.8a335.8 335.8 0 1 0 671.5 0a335.8 335.8 0 1 0 -671.5 0Z" fill="#c0ff00"/>
<path d="M-268.9 -421.2L-494.7 -37.6A321.6 321.6 0 0 0 -214.8 447.2L225.9 443.5A314.6 314.6 0 0 0 495.7 -28.4L270.2 -418.9A312 312 0 0 0 -268.9 -421.2ZM-328.6 -262.9a328.6 328.6 0 1 0 657.2 0a328.6 328.6 0 1 0 -657.2 0ZM-555.7 125.6a338.2 338.2 0 1 0 676.4 0a338.2 338.2 0 1 0 -676.4 0ZM-107.9 128.9a331.2 331.2 0 1 0 662.3 0a331.2 331.2 0 1 0 -662.3 0Z" fill="#c3ff00"/>
<path d="M-263.9 -421.8L-493 -32.1A315.3 315.3 0 0 0 -218.7 443L229.2 439.4A308.5 308.5 0 0 0 493.9 -23.4L265.1 -419.7A306.1 306.1 0 0 0 -263.9 -421.8ZM-324.3 -266.7a324.3 324.3 0 1 0 648.6 0a324.3 324.3 0 1 0 -648.6 0ZM-554.7 127.7a333.5 333.5 0 1 0 667 0a333.5 333.5 0 1 0 -667 0ZM-100 130.9a326.7 326.7 0 1 0 653.5 0a326.7 326.7 0 1 0 -653.5 0Z" fill="#c6ff00"/>
<path d="M-258.6 -422.5L-491.3 -26.4A308.7 308.7 0 0 0 -222.8 438.7L232.6 435.2A302.3 302.3 0 0 0 492.1 -18.2L259.8 -420.6A299.9 299.9 0 0 0 -258.6 -422.5ZM-319.8 -270.6a319.8 319.8 0 1 0 639.6 0a319.8 319.8 0 1 0 -639.6 0ZM-553.6 129.9a328.6 328.6 0 1 0 657.1 0a328.6 328.6 0 1 0 -657.1 0ZM-91.8 133a322.1 322.1 0 1 0 644.2 0a322.1 322.1 0 1 0 -644.2 0Z" fill="#c9ff00"/>
<path d="M-253.4 -423.2L-489.5 -20.7A302.1 302.1 0 0 0 -226.8 434.3L236 431A296 296 0 0 0 490.3 -12.9L254.4 -421.4A293.8 293.8 0 0 0 -253.4 -423.2ZM-315.3 -274.5a315.3 315.3 0 1 0 630.6 0a315.3 315.3 0 1 0 -630.6 0ZM-552.6 132.2a323.6 323.6 0 1 0 647.3 0a323.6 323.6 0 1 0 -647.3 0ZM-83.6 135.1a317.5 317.5 0 1 0 635 0a317.5 317.5 0 1 0 -635 0Z" fill="#ccff00"/>
<path d="M-247.9 -423.9L-487.7 -14.8A295.3 295.3 0 0 0 -231 429.8L239.6 426.7A289.5 289.5 0 0 0 488.4 -7.5L248.9 -422.3A287.4 287.4 0 0 0 -247.9 -423.9ZM-310.6 -278.6a310.6 310.6 0 1 0 621.2 0a310.6 310.6 0 1 0 -621.2 0ZM-551.5 134.5a318.5 318.5 0 1 0 637.1 0a318.5 318.5 0 1 0 -637.1 0ZM-75.1 137.2a312.7 312.7 0 1 0 625.4 0a312.7 312.7 0 1 0 -625.4 0Z" fill="#cfff00"/>
<path d="M-242.5 -424.7L-485.9 -8.9A288.4 288.4 0 0 0 -235.2 425.2L243.1 422.3A283 283 0 0 0 486.4 -2.1L243.3 -423.2A281 281 0 0 0 -242.5 -424.7ZM-305.9 -282.7a305.9 305.9 0 1 0 611.9 0a305.9 305.9 0 1 0 -611.9 0ZM-550.3 136.8a313.4 313.4 0 1 0 626.8 0a313.4 313.4 0 1 0 -626.8 0ZM-66.5 139.4a307.9 307.9 0 1 0 615.9 0a307.9 307.9 0 1 0 -615.9 0Z" fill="#d2ff00"/>
<path d="M-236.8 -425.4L-483.9 -2.8A281.3 281.3 0 0 0 -239.5 420.5L246.8 417.8A276.2 276.2 0 0 0 484.5 3.5L237.6 -424.1A274.3 274.3 0 0 0 -236.8 -425.4ZM-301.1 -287a301.1 301.1 0 1 0 602.2 0a301.1 301.1 0 1 0 -602.2 0ZM-549.2 139.2a308.1 308.1 0 1 0 616.2 0a308.1 308.1 0 1 0 -616.2 0ZM-57.7 141.6a302.9 302.9 0 1 0 605.9 0a302.9 302.9 0 1 0 -605.9 0Z" fill="#d5ff00"/>
<path d="M-230.2 -426.3L-481.7 4.1A273.2 273.2 0 0 0 -244.4 415.1L251.1 412.5A268.3 268.3 0 0 0 482.1 10L230.9 -425.2A266.6 266.6 0 0 0 -230.2 -426.3ZM-295.6 -291.9a295.6 295.6 0 1 0 591.1 0a295.6 295.6 0 1 0 -591.1 0ZM-548 141.9a302.1 302.1 0 1 0 604.2 0a302.1 302.1 0 1 0 -604.2 0ZM-47.6 144.2a297.3 297.3 0 1 0 594.6 0a297.3 297.3 0 1 0 -594.6 0Z" fill="#d8ff00"/>
<path d="M-221.6 -427.5L-478.7 13A262.7 262.7 0 0 0 -250.6 408.1L256.6 405.7A258.2 258.2 0 0 0 479.1 18.4L222.2 -426.5A256.6 256.6 0 0 0 -221.6 -427.5ZM-288.6 -298.2a288.6 288.6 0 1 0 577.3 0a288.6 288.6 0 1 0 -577.3 0ZM-546.5 145.4a294.7 294.7 0 1 0 589.5 0a294.7 294.7 0 1 0 -589.5 0ZM-34.8 147.5a290.3 290.3 0 1 0 580.5 0a290.3 290.3 0 1 0 -580.5 0Z" fill="#dbff00"/>
<path d="M-212.6 -428.9L-475.7 22.3A251.7 251.7 0 0 0 -257.1 400.8L262.6 398.6A247.6 247.6 0 0 0 476 27.2L213.1 -428A246.1 246.1 0 0 0 -212.6 -428.9ZM-281.3 -305a281.3 281.3 0 1 0 562.7 0a281.3 281.3 0 1 0 -562.7 0ZM-545.1 149.1a286.9 286.9 0 1 0 573.9 0a286.9 286.9 0 1 0 -573.9 0ZM-21.3 151a282.8 282.8 0 1 0 565.6 0a282.8 282.8 0 1 0 -565.6 0Z" fill="#deff00"/>
<path d="M-203.6 -430.4L-472.7 31.7A240.7 240.7 0 0 0 -263.8 393.5L268.6 391.5A236.9 236.9 0 0 0 472.9 36.1L204 -429.7A235.6 235.6 0 0 0 -203.6 -430.4ZM-274 -311.9a274 274 0 1 0 547.9 0a274 274 0 1 0 -547.9 0ZM-543.8 152.8a279.1 279.1 0 1 0 558.2 0a279.1 279.1 0 1 0 -558.2 0ZM-7.6 154.6a275.3 275.3 0 1 0 550.6 0a275.3 275.3 0 1 0 -550.6 0Z" fill="#e1ff00"/>
<path d="M-194.5 -432L-469.7 41.1A229.7 229.7 0 0 0 -270.4 386.2L274.7 384.4A226.2 226.2 0 0 0 469.9 45L194.9 -431.3A225 225 0 0 0 -194.5 -432ZM-266.6 -318.8a266.6 266.6 0 1 0 533.2 0a266.6 266.6 0 1 0 -533.2 0ZM-542.4 156.6a271.2 271.2 0 1 0 542.5 0a271.2 271.2 0 1 0 -542.5 0ZM6.1 158.2a267.8 267.8 0 1 0 535.6 0a267.8 267.8 0 1 0 -535.6 0Z" fill="#e4ff00"/>
<path d="M-185.1 -433.6L-466.6 50.8A218.2 218.2 0 0 0 -277.3 378.7L281 377.1A215.2 215.2 0 0 0 466.8 54.3L185.4 -433A214.1 214.1 0 0 0 -185.1 -433.6ZM-258.9 -326a258.9 258.9 0 1 0 517.9 0a258.9 258.9 0 1 0 -517.9 0ZM-541 160.5a263.1 263.1 0 1 0 526.2 0a263.1 263.1 0 1 0 -526.2 0ZM20.3 161.9a260.1 260.1 0 1 0 520.1 0a260.1 260.1 0 1 0 -520.1 0Z" fill="#e7ff00"/>
<path d="M-175.7 -435.2L-463.5 60.5A206.8 206.8 0 0 0 -284.1 371.2L287.3 369.7A204.1 204.1 0 0 0 463.6 63.5L175.9 -434.7A203.1 203.1 0 0 0 -175.7 -435.2ZM-251.3 -333.2a251.3 251.3 0 1 0 502.6 0a251.3 251.3 0 1 0 -502.6 0ZM-539.6 164.3a255 255 0 1 0 510 0a255 255 0 1 0 -510 0ZM34.6 165.6a252.3 252.3 0 1 0 504.6 0a252.3 252.3 0 1 0 -504.6 0Z" fill="#eaff00"/>
<path d="M-165.9 -436.8L-460.3 70.5A195 195 0 0 0 -291.2 363.4L293.9 362.1A192.7 192.7 0 0 0 460.4 73.1L166.1 -436.5A191.8 191.8 0 0 0 -165.9 -436.8ZM-243.4 -340.6a243.4 243.4 0 1 0 486.8 0a243.4 243.4 0 1 0 -486.8 0ZM-538.2 168.4a246.6 246.6 0 1 0 493.1 0a246.6 246.6 0 1 0 -493.1 0ZM49.2 169.4a244.3 244.3 0 1 0 488.5 0a244.3 244.3 0 1 0 -488.5 0Z" fill="#edff00"/>
<path d="M-156.2 -438.5L-457.1 80.5A183.2 183.2 0 0 0 -298.3 355.6L300.5 354.5A181.2 181.2 0 0 0 457.1 82.7L156.3 -438.3A180.5 180.5 0 0 0 -156.2 -438.5ZM-235.5 -348a235.5 235.5 0 1 0 471 0a235.5 235.5 0 1 0 -471 0ZM-536.7 172.4a238.2 238.2 0 1 0 476.3 0a238.2 238.2 0 1 0 -476.3 0ZM63.9 173.3a236.2 236.2 0 1 0 472.4 0a236.2 236.2 0 1 0 -472.4 0Z" fill="#f0ff00"/>
<path d="M-153.2 -430.8L-449 80A179.1 179.1 0 0 0 -293.8 348.9L295.5 348.1A177.6 177.6 0 0 0 449.1 81.7L153.3 -430.6A177 177 0 0 0 -153.2 -430.8ZM-240.9 -342.1a240.9 240.9 0 1 0 481.8 0a240.9 240.9 0 1 0 -481.8 0ZM-537.1 169.8a243 243 0 1 0 486.1 0a243 243 0 1 0 -486.1 0ZM53.8 170.5a241.5 241.5 0 1 0 482.9 0a241.5 241.5 0 1 0 -482.9 0Z" fill="#f3ff00"/>
<path d="M-150.3 -423.3L-441.2 79.4A175.3 175.3 0 0 0 -289.4 342.4L290.7 341.8A174.1 174.1 0 0 0 441.3 80.7L150.4 -423.1A173.6 173.6 0 0 0 -150.3 -423.3ZM-246.2 -336.3a246.2 246.2 0 1 0 492.4 0a246.2 246.2 0 1 0 -492.4 0ZM-537.4 167.2a247.8 247.8 0 1 0 495.7 0a247.8 247.8 0 1 0 -495.7 0ZM43.9 167.7a246.6 246.6 0 1 0 493.3 0a246.6 246.6 0 1 0 -493.3 0Z" fill="#f6ff00"/>
<path d="M-147.2 -415.3L-432.9 78.7A171.1 171.1 0 0 0 -284.7 335.6L285.5 335.1A170.3 170.3 0 0 0 432.9 79.6L147.3 -415.2A170.1 170.1 0 0 0 -147.2 -415.3ZM-251.9 -330.1a251.9 251.9 0 1 0 503.7 0a251.9 251.9 0 1 0 -503.7 0ZM-537.7 164.4a252.9 252.9 0 1 0 505.9 0a252.9 252.9 0 1 0 -505.9 0ZM33.3 164.8a252.2 252.2 0 1 0 504.3 0a252.2 252.2 0 1 0 -504.3 0Z" fill="#f9ff00"/>
<path d="M-144.2 -407.5L-424.9 78.1A167.1 167.1 0 0 0 -280.1 328.9L280.6 328.7A166.7 166.7 0 0 0 424.9 78.6L144.3 -407.5A166.6 166.6 0 0 0 -144.2 -407.5ZM-257.3 -324.2a257.3 257.3 0 1 0 514.7 0a257.3 257.3 0 1 0 -514.7 0ZM-538.1 161.8a257.9 257.9 0 1 0 515.8 0a257.9 257.9 0 1 0 -515.8 0ZM23 161.9a257.5 257.5 0 1 0 515 0a257.5 257.5 0 1 0 -515 0Z" fill="#fcff00"/>
<path d="M-141.2 -399.5L-416.6 77.5A163 163 0 0 0 -275.4 322L275.4 322A163 163 0 0 0 416.6 77.5L141.2 -399.5A163 163 0 0 0 -141.2 -399.5ZM-263 -318a263 263 0 1 0 526 0a263 263 0 1 0 -526 0ZM-538.4 159a263 263 0 1 0 526 0a263 263 0 1 0 -526 0ZM12.4 159a263 263 0 1 0 526 0a263 263 0 1 0 -526 0Z" fill="#ffff00"/>
<circle cx="0" cy="-312" r="269" fill="url(#ac0)"/>
<circle cx="-270.2" cy="156" r="269" fill="url(#ac1)"/>
<circle cx="270.2" cy="156" r="269" fill="url(#ac2)"/>
</g></g>
<g fill="none" stroke="#000" filter="url(#alblur)">
<circle r="726.4" stroke-width="2.4" stroke-opacity="0.55"/>
<circle r="658.7" stroke-width="1.9" stroke-opacity="0.85"/>
<circle r="642.8" stroke-width="1.9" stroke-opacity="0.85"/>
<circle r="585" stroke-width="1.9" stroke-opacity="0.85"/>
<circle cx="-1.5" cy="-311" r="268.7" stroke-width="2.7" stroke-opacity="0.6"/>
<circle cx="1.5" cy="-313" r="267.3" stroke-width="2.7" stroke-opacity="0.6"/>
<circle cx="0" cy="-312" r="167.5" stroke-width="2.0" stroke-opacity="0.78"/>
<circle cx="-271.7" cy="157" r="268.7" stroke-width="2.7" stroke-opacity="0.6"/>
<circle cx="-268.7" cy="155" r="267.3" stroke-width="2.7" stroke-opacity="0.6"/>
<circle cx="-270.2" cy="156" r="167.5" stroke-width="2.0" stroke-opacity="0.78"/>
<circle cx="268.7" cy="157" r="268.7" stroke-width="2.7" stroke-opacity="0.6"/>
<circle cx="271.7" cy="155" r="267.3" stroke-width="2.7" stroke-opacity="0.6"/>
<circle cx="270.2" cy="156" r="167.5" stroke-width="2.0" stroke-opacity="0.78"/>
</g>
</g>
<g filter="url(#ablur2)">
<text x="732.5" y="418.3" class="lab" font-size="38.5" textLength="141" lengthAdjust="spacingAndGlyphs" fill-opacity="0.45">55.317</text>
<rect x="726.5" y="439.8" width="17" height="19" fill="#fff" fill-opacity="0.03" stroke="#000" stroke-opacity="0.5" stroke-width="2.6"/>
<text x="756" y="466.3" class="lab" font-size="31" fill-opacity="0.6" font-weight="bold">MX</text>
<text x="489.5" y="896.2" class="lab" font-size="38.5">54.67</text>
<rect x="479.5" y="916.8" width="19" height="19" fill="#fff" fill-opacity="0.03" stroke="#000" stroke-opacity="0.7" stroke-width="2.6"/>
<text x="1036.5" y="896.2" class="lab" font-size="38.5">54.067</text>
<rect x="1025.9" y="916.8" width="19" height="19" fill="#fff" fill-opacity="0.03" stroke="#000" stroke-opacity="0.7" stroke-width="2.6"/>
<text x="771.5" y="1484.7" class="lab" font-size="31" fill-opacity="0.6" font-weight="bold">MN</text>
</g>
<g filter="url(#tblur)">
<rect x="1536.2" y="94.6" width="69.4" height="30.6" fill="#0000ff" stroke="#1a1a2a" stroke-opacity="0.72" stroke-width="2.4"/>
<text x="1654" y="114.9" class="mono" font-size="39">40.838</text>
<rect x="1536.2" y="138.4" width="69.4" height="30.6" fill="#0067ff" stroke="#1a1a2a" stroke-opacity="0.72" stroke-width="2.4"/>
<text x="1654" y="158.7" class="mono" font-size="39">41.404</text>
<rect x="1536.2" y="182.2" width="69.4" height="30.6" fill="#0089ff" stroke="#1a1a2a" stroke-opacity="0.72" stroke-width="2.4"/>
<text x="1654" y="202.5" class="mono" font-size="39">41.856</text>
<rect x="1536.2" y="226.0" width="69.4" height="30.6" fill="#00a4ff" stroke="#1a1a2a" stroke-opacity="0.72" stroke-width="2.4"/>
<text x="1654" y="246.3" class="mono" font-size="39">42.309</text>
<rect x="1536.2" y="269.8" width="69.4" height="30.6" fill="#00bbff" stroke="#1a1a2a" stroke-opacity="0.72" stroke-width="2.4"/>
<text x="1654" y="290.1" class="mono" font-size="39">42.761</text>
<rect x="1536.2" y="313.6" width="69.4" height="30.6" fill="#00d0ff" stroke="#1a1a2a" stroke-opacity="0.72" stroke-width="2.4"/>
<text x="1654" y="333.9" class="mono" font-size="39">43.213</text>
<rect x="1536.2" y="357.5" width="69.4" height="30.6" fill="#00e2ff" stroke="#1a1a2a" stroke-opacity="0.72" stroke-width="2.4"/>
<text x="1654" y="377.8" class="mono" font-size="39">43.666</text>
<rect x="1536.2" y="401.3" width="69.4" height="30.6" fill="#00f3ff" stroke="#1a1a2a" stroke-opacity="0.72" stroke-width="2.4"/>
<text x="1654" y="421.6" class="mono" font-size="39">44.118</text>
<rect x="1536.2" y="445.1" width="69.4" height="30.6" fill="#00fffb" stroke="#1a1a2a" stroke-opacity="0.72" stroke-width="2.4"/>
<text x="1654" y="465.4" class="mono" font-size="39">44.571</text>
<rect x="1536.2" y="488.9" width="69.4" height="30.6" fill="#00ffeb" stroke="#1a1a2a" stroke-opacity="0.72" stroke-width="2.4"/>
<text x="1654" y="509.2" class="mono" font-size="39">45.023</text>
<rect x="1536.2" y="532.7" width="69.4" height="30.6" fill="#00ffd9" stroke="#1a1a2a" stroke-opacity="0.72" stroke-width="2.4"/>
<text x="1654" y="553.0" class="mono" font-size="39">45.476</text>
<rect x="1536.2" y="576.5" width="69.4" height="30.6" fill="#00ffc1" stroke="#1a1a2a" stroke-opacity="0.72" stroke-width="2.4"/>
<text x="1654" y="596.8" class="mono" font-size="39">46.041</text>
<rect x="1536.2" y="620.3" width="69.4" height="30.6" fill="#00ffaa" stroke="#1a1a2a" stroke-opacity="0.72" stroke-width="2.4"/>
<text x="1654" y="640.6" class="mono" font-size="39">46.494</text>
<rect x="1536.2" y="664.1" width="69.4" height="30.6" fill="#00ff91" stroke="#1a1a2a" stroke-opacity="0.72" stroke-width="2.4"/>
<text x="1654" y="684.4" class="mono" font-size="39">46.946</text>
<rect x="1536.2" y="707.9" width="69.4" height="30.6" fill="#00ff71" stroke="#1a1a2a" stroke-opacity="0.72" stroke-width="2.4"/>
<text x="1654" y="728.2" class="mono" font-size="39">47.399</text>
<rect x="1536.2" y="751.8" width="69.4" height="30.6" fill="#00ff42" stroke="#1a1a2a" stroke-opacity="0.72" stroke-width="2.4"/>
<text x="1654" y="772.1" class="mono" font-size="39">47.851</text>
<rect x="1536.2" y="795.6" width="69.4" height="30.6" fill="#42ff00" stroke="#1a1a2a" stroke-opacity="0.72" stroke-width="2.4"/>
<text x="1654" y="815.9" class="mono" font-size="39">48.304</text>
<rect x="1536.2" y="839.4" width="69.4" height="30.6" fill="#71ff00" stroke="#1a1a2a" stroke-opacity="0.72" stroke-width="2.4"/>
<text x="1654" y="859.7" class="mono" font-size="39">48.756</text>
<rect x="1536.2" y="883.2" width="69.4" height="30.6" fill="#91ff00" stroke="#1a1a2a" stroke-opacity="0.72" stroke-width="2.4"/>
<text x="1654" y="903.5" class="mono" font-size="39">49.209</text>
<rect x="1536.2" y="927.0" width="69.4" height="30.6" fill="#aaff00" stroke="#1a1a2a" stroke-opacity="0.72" stroke-width="2.4"/>
<text x="1654" y="947.3" class="mono" font-size="39">49.661</text>
<rect x="1536.2" y="970.8" width="69.4" height="30.6" fill="#c1ff00" stroke="#1a1a2a" stroke-opacity="0.72" stroke-width="2.4"/>
<text x="1654" y="991.1" class="mono" font-size="39">50.114</text>
<rect x="1536.2" y="1014.6" width="69.4" height="30.6" fill="#d9ff00" stroke="#1a1a2a" stroke-opacity="0.72" stroke-width="2.4"/>
<text x="1654" y="1034.9" class="mono" font-size="39">50.679</text>
<rect x="1536.2" y="1058.4" width="69.4" height="30.6" fill="#ebff00" stroke="#1a1a2a" stroke-opacity="0.72" stroke-width="2.4"/>
<text x="1654" y="1078.7" class="mono" font-size="39">51.132</text>
<rect x="1536.2" y="1102.2" width="69.4" height="30.6" fill="#fbff00" stroke="#1a1a2a" stroke-opacity="0.72" stroke-width="2.4"/>
<text x="1654" y="1122.5" class="mono" font-size="39">51.584</text>
<rect x="1536.2" y="1146.0" width="69.4" height="30.6" fill="#fff300" stroke="#1a1a2a" stroke-opacity="0.72" stroke-width="2.4"/>
<text x="1654" y="1166.3" class="mono" font-size="39">52.037</text>
<rect x="1536.2" y="1189.8" width="69.4" height="30.6" fill="#ffe200" stroke="#1a1a2a" stroke-opacity="0.72" stroke-width="2.4"/>
<text x="1654" y="1210.1" class="mono" font-size="39">52.489</text>
<rect x="1536.2" y="1233.7" width="69.4" height="30.6" fill="#ffd000" stroke="#1a1a2a" stroke-opacity="0.72" stroke-width="2.4"/>
<text x="1654" y="1254.0" class="mono" font-size="39">52.942</text>
<rect x="1536.2" y="1277.5" width="69.4" height="30.6" fill="#ffbb00" stroke="#1a1a2a" stroke-opacity="0.72" stroke-width="2.4"/>
<text x="1654" y="1297.8" class="mono" font-size="39">53.394</text>
<rect x="1536.2" y="1321.3" width="69.4" height="30.6" fill="#ffa400" stroke="#1a1a2a" stroke-opacity="0.72" stroke-width="2.4"/>
<text x="1654" y="1341.6" class="mono" font-size="39">53.846</text>
<rect x="1536.2" y="1365.1" width="69.4" height="30.6" fill="#ff8900" stroke="#1a1a2a" stroke-opacity="0.72" stroke-width="2.4"/>
<text x="1654" y="1385.4" class="mono" font-size="39">54.299</text>
<rect x="1536.2" y="1408.9" width="69.4" height="30.6" fill="#ff6700" stroke="#1a1a2a" stroke-opacity="0.72" stroke-width="2.4"/>
<text x="1654" y="1429.2" class="mono" font-size="39">54.751</text>
<rect x="1536.2" y="1452.7" width="69.4" height="30.6" fill="#ff0000" stroke="#1a1a2a" stroke-opacity="0.72" stroke-width="2.4"/>
<text x="1654" y="1473.0" class="mono" font-size="39">55.317</text>
<text x="1504" y="69.3" class="serif" font-size="44" textLength="331" lengthAdjust="spacingAndGlyphs">Temperature (°C)</text>
</g>
<defs><clipPath id="bclip"><circle r="727.6"/></clipPath>
<filter id="bblur" x="-5%" y="-5%" width="110%" height="110%" color-interpolation-filters="sRGB"><feGaussianBlur stdDeviation="1.5"/></filter>
<filter id="blblur" x="-5%" y="-5%" width="110%" height="110%" color-interpolation-filters="sRGB"><feGaussianBlur stdDeviation="0.9"/></filter>
<radialGradient id="bc0" gradientUnits="userSpaceOnUse" cx="0" cy="-312" r="270"><stop offset="0.0000" stop-color="#ff0000"/><stop offset="0.6148" stop-color="#ff0000"/><stop offset="0.6241" stop-color="#ff2100"/><stop offset="0.6333" stop-color="#ff2e00"/><stop offset="0.6426" stop-color="#ff4000"/><stop offset="0.6519" stop-color="#ff5300"/><stop offset="0.6611" stop-color="#ff6100"/><stop offset="0.6704" stop-color="#ff7100"/><stop offset="0.6796" stop-color="#ff7f00"/><stop offset="0.6889" stop-color="#ff8c00"/><stop offset="0.6981" stop-color="#ff9700"/><stop offset="0.7074" stop-color="#ffa200"/><stop offset="0.7167" stop-color="#ffab00"/><stop offset="0.7259" stop-color="#ffb200"/><stop offset="0.7352" stop-color="#ffb900"/><stop offset="0.7444" stop-color="#ffbf00"/><stop offset="0.7537" stop-color="#ffc500"/><stop offset="0.7630" stop-color="#ffcb00"/><stop offset="0.7722" stop-color="#ffd000"/><stop offset="0.7815" stop-color="#ffd600"/><stop offset="0.7907" stop-color="#ffdb00"/><stop offset="0.8000" stop-color="#ffe100"/><stop offset="0.8093" stop-color="#ffe600"/><stop offset="0.8185" stop-color="#ffeb00"/><stop offset="0.8278" stop-color="#ffee00"/><stop offset="0.8370" stop-color="#fff000"/><stop offset="0.8463" stop-color="#fff300"/><stop offset="0.8556" stop-color="#fff600"/><stop offset="0.8648" stop-color="#fff800"/><stop offset="0.8741" stop-color="#fffa00"/><stop offset="0.8833" stop-color="#fffb00"/><stop offset="0.8926" stop-color="#fffc00"/><stop offset="0.9019" stop-color="#fffd00"/><stop offset="0.9111" stop-color="#fffe00"/><stop offset="0.9204" stop-color="#ffff00"/><stop offset="0.9296" stop-color="#feff00"/><stop offset="0.9389" stop-color="#fdff00"/><stop offset="0.9481" stop-color="#fcff00"/><stop offset="0.9574" stop-color="#fbff00"/><stop offset="0.9667" stop-color="#f9ff00"/><stop offset="0.9759" stop-color="#f7ff00"/><stop offset="0.9852" stop-color="#f5ff00"/><stop offset="0.9944" stop-color="#f4ff00"/><stop offset="1.0000" stop-color="#f3ff00"/></radialGradient>
<radialGradient id="bk0" gradientUnits="userSpaceOnUse" cx="0" cy="0" r="582"><stop offset="0" stop-color="#00ff00" stop-opacity="0"/><stop offset="0.8591" stop-color="#00ff00" stop-opacity="0.000"/><stop offset="0.8943" stop-color="#00ff00" stop-opacity="0.009"/><stop offset="0.9296" stop-color="#00ff00" stop-opacity="0.025"/><stop offset="0.9648" stop-color="#00ff00" stop-opacity="0.045"/><stop offset="1.0000" stop-color="#00ff00" stop-opacity="0.070"/></radialGradient>
<radialGradient id="bc1" gradientUnits="userSpaceOnUse" cx="-270.2" cy="156" r="270"><stop offset="0.0000" stop-color="#ffd200"/><stop offset="0.6148" stop-color="#ffd200"/><stop offset="0.6241" stop-color="#ffd300"/><stop offset="0.6333" stop-color="#ffd300"/><stop offset="0.6426" stop-color="#ffd400"/><stop offset="0.6519" stop-color="#ffd400"/><stop offset="0.6611" stop-color="#ffd500"/><stop offset="0.6704" stop-color="#ffd500"/><stop offset="0.6796" stop-color="#ffd600"/><stop offset="0.6889" stop-color="#ffd600"/><stop offset="0.6981" stop-color="#ffd700"/><stop offset="0.7074" stop-color="#ffd800"/><stop offset="0.7167" stop-color="#ffdb00"/><stop offset="0.7259" stop-color="#ffdd00"/><stop offset="0.7352" stop-color="#ffe000"/><stop offset="0.7444" stop-color="#ffe200"/><stop offset="0.7537" stop-color="#ffe500"/><stop offset="0.7630" stop-color="#ffe700"/><stop offset="0.7722" stop-color="#ffea00"/><stop offset="0.7815" stop-color="#ffec00"/><stop offset="0.7907" stop-color="#ffef00"/><stop offset="0.8000" stop-color="#fff100"/><stop offset="0.8093" stop-color="#fff400"/><stop offset="0.8185" stop-color="#fff600"/><stop offset="0.8278" stop-color="#fff900"/><stop offset="0.8370" stop-color="#fffa00"/><stop offset="0.8463" stop-color="#fffb00"/><stop offset="0.8556" stop-color="#fffc00"/><stop offset="0.8648" stop-color="#fffd00"/><stop offset="0.8741" stop-color="#fffe00"/><stop offset="0.8833" stop-color="#ffff00"/><stop offset="0.8926" stop-color="#fdff00"/><stop offset="0.9019" stop-color="#fcff00"/><stop offset="0.9111" stop-color="#faff00"/><stop offset="0.9204" stop-color="#f9ff00"/><stop offset="0.9296" stop-color="#f7ff00"/><stop offset="0.9389" stop-color="#f6ff00"/><stop offset="0.9481" stop-color="#f4ff00"/><stop offset="0.9574" stop-color="#f2ff00"/><stop offset="0.9667" stop-color="#efff00"/><stop offset="0.9759" stop-color="#edff00"/><stop offset="0.9852" stop-color="#eaff00"/><stop offset="0.9944" stop-color="#e8ff00"/><stop offset="1.0000" stop-color="#e7ff00"/></radialGradient>
<radialGradient id="bk1" gradientUnits="userSpaceOnUse" cx="0" cy="0" r="582"><stop offset="0" stop-color="#00ff00" stop-opacity="0"/><stop offset="0.8247" stop-color="#00ff00" stop-opacity="0.000"/><stop offset="0.8686" stop-color="#00ff00" stop-opacity="0.035"/><stop offset="0.9124" stop-color="#00ff00" stop-opacity="0.099"/><stop offset="0.9562" stop-color="#00ff00" stop-opacity="0.182"/><stop offset="1.0000" stop-color="#00ff00" stop-opacity="0.280"/></radialGradient>
<radialGradient id="bc2" gradientUnits="userSpaceOnUse" cx="270.2" cy="156" r="270"><stop offset="0.0000" stop-color="#ebff00"/><stop offset="0.6148" stop-color="#ebff00"/><stop offset="0.6241" stop-color="#eaff00"/><stop offset="0.6426" stop-color="#eaff00"/><stop offset="0.6519" stop-color="#e9ff00"/><stop offset="0.6704" stop-color="#e9ff00"/><stop offset="0.6796" stop-color="#e8ff00"/><stop offset="0.6889" stop-color="#e8ff00"/><stop offset="0.6981" stop-color="#e7ff00"/><stop offset="0.7167" stop-color="#e7ff00"/><stop offset="0.7259" stop-color="#e6ff00"/><stop offset="0.7444" stop-color="#e6ff00"/><stop offset="0.7537" stop-color="#e5ff00"/><stop offset="0.7630" stop-color="#e5ff00"/><stop offset="0.7722" stop-color="#e4ff00"/><stop offset="0.7907" stop-color="#e4ff00"/><stop offset="0.8000" stop-color="#e3ff00"/><stop offset="0.8093" stop-color="#e3ff00"/><stop offset="0.8185" stop-color="#e2ff00"/><stop offset="0.8370" stop-color="#e2ff00"/><stop offset="0.8463" stop-color="#e1ff00"/><stop offset="0.8556" stop-color="#e1ff00"/><stop offset="0.8648" stop-color="#e0ff00"/><stop offset="0.8833" stop-color="#e0ff00"/><stop offset="0.8926" stop-color="#dfff00"/><stop offset="0.9111" stop-color="#dfff00"/><stop offset="0.9204" stop-color="#deff00"/><stop offset="0.9296" stop-color="#deff00"/><stop offset="0.9389" stop-color="#ddff00"/><stop offset="0.9574" stop-color="#ddff00"/><stop offset="0.9667" stop-color="#dcff00"/><stop offset="0.9759" stop-color="#dcff00"/><stop offset="0.9852" stop-color="#dbff00"/><stop offset="1.0000" stop-color="#dbff00"/></radialGradient>
<radialGradient id="bk2" gradientUnits="userSpaceOnUse" cx="0" cy="0" r="582"><stop offset="0" stop-color="#00ff00" stop-opacity="0"/><stop offset="0.8247" stop-color="#00ff00" stop-opacity="0.000"/><stop offset="0.8686" stop-color="#00ff00" stop-opacity="0.035"/><stop offset="0.9124" stop-color="#00ff00" stop-opacity="0.099"/><stop offset="0.9562" stop-color="#00ff00" stop-opacity="0.182"/><stop offset="1.0000" stop-color="#00ff00" stop-opacity="0.280"/></radialGradient>
</defs>
<g transform="translate(757,2398) scale(0.98880,0.98316)">
<g filter="url(#bblur)"><g clip-path="url(#bclip)">
<circle r="729.0" fill="#0000ff"/>
<path d="M-691.1 -245.2L-697.5 -226.3A724 724 0 0 0 -12.1 731L12.1 731A724 724 0 0 0 697.5 -226.3L691.1 -245.2A730 730 0 0 0 -691.1 -245.2Z" fill="#0000ff" transform="translate(0,-5)"/>
<path d="M-690.8 -245.7L-697.3 -226.7A723.9 723.9 0 0 0 -12.1 730.9L12.1 730.9A723.9 723.9 0 0 0 697.3 -226.7L690.8 -245.7A729.9 729.9 0 0 0 -690.8 -245.7Z" fill="#0007ff" transform="translate(0,-5)"/>
<path d="M-690.8 -245.7L-697.3 -226.7A723.9 723.9 0 0 0 -12.1 730.9L12.1 730.9A723.9 723.9 0 0 0 697.3 -226.7L690.8 -245.7A729.9 729.9 0 0 0 -690.8 -245.7Z" fill="#0007ff" transform="translate(0,-5)"/>
<path d="M-690.6 -246.1L-697.1 -227A723.8 723.8 0 0 0 -12.2 730.8L12.2 730.8A723.8 723.8 0 0 0 697.1 -227L690.6 -246.1A729.8 729.8 0 0 0 -690.6 -246.1Z" fill="#000aff" transform="translate(0,-5)"/>
<path d="M-690.3 -246.5L-696.9 -227.4A723.7 723.7 0 0 0 -12.2 730.7L12.2 730.7A723.7 723.7 0 0 0 696.9 -227.4L690.3 -246.5A729.7 729.7 0 0 0 -690.3 -246.5Z" fill="#000cff" transform="translate(0,-5)"/>
<path d="M-689.8 -247.3L-696.4 -228.1A723.5 723.5 0 0 0 -12.2 730.5L12.2 730.5A723.5 723.5 0 0 0 696.4 -228.1L689.8 -247.3A729.4 729.4 0 0 0 -689.8 -247.3Z" fill="#0010ff" transform="translate(0,-5)"/>
<path d="M-689.3 -248.2L-696 -228.8A723.3 723.3 0 0 0 -12.3 730.3L12.3 730.3A723.3 723.3 0 0 0 696 -228.8L689.3 -248.2A729.2 729.2 0 0 0 -689.3 -248.2Z" fill="#0013ff" transform="translate(0,-5)"/>
<path d="M-688.8 -249L-695.5 -229.5A723 723 0 0 0 -12.3 730.2L12.3 730.2A723 723 0 0 0 695.5 -229.5L688.8 -249A729 729 0 0 0 -688.8 -249Z" fill="#0015ff" transform="translate(0,-5)"/>
<path d="M-688.1 -250.2L-694.9 -230.6A722.7 722.7 0 0 0 -12.4 729.9L12.4 729.9A722.7 722.7 0 0 0 694.9 -230.6L688.1 -250.2A728.6 728.6 0 0 0 -688.1 -250.2Z" fill="#0019ff" transform="translate(0,-5)"/>
<path d="M-687.3 -251.4L-694.3 -231.6A722.4 722.4 0 0 0 -12.5 729.6L12.5 729.6A722.4 722.4 0 0 0 694.3 -231.6L687.3 -251.4A728.3 728.3 0 0 0 -687.3 -251.4Z" fill="#001bff" transform="translate(0,-5)"/>
<path d="M-686.4 -252.9L-693.4 -232.9A722 722 0 0 0 -12.6 729.2L12.6 729.2A722 722 0 0 0 693.4 -232.9L686.4 -252.9A727.8 727.8 0 0 0 -686.4 -252.9Z" fill="#001fff" transform="translate(0,-5)"/>
<path d="M-685.6 -254.1L-692.8 -233.8A721.7 721.7 0 0 0 -12.6 729L12.6 729A721.7 721.7 0 0 0 692.8 -233.8L685.6 -254.1A727.5 727.5 0 0 0 -685.6 -254.1Z" fill="#0021ff" transform="translate(0,-5)"/>
<path d="M-684.5 -255.9L-691.8 -235.4A721.1 721.1 0 0 0 -12.7 728.5L12.7 728.5A721.1 721.1 0 0 0 691.8 -235.4L684.5 -255.9A726.9 726.9 0 0 0 -684.5 -255.9Z" fill="#0024ff" transform="translate(0,-5)"/>
<path d="M-683.5 -257.3L-691 -236.6A720.7 720.7 0 0 0 -12.8 728.1L12.8 728.1A720.7 720.7 0 0 0 691 -236.6L683.5 -257.3A726.4 726.4 0 0 0 -683.5 -257.3Z" fill="#0027ff" transform="translate(0,-5)"/>
<path d="M-682.1 -259.4L-689.8 -238.3A720.1 720.1 0 0 0 -13 727.6L13 727.6A720.1 720.1 0 0 0 689.8 -238.3L682.1 -259.4A725.7 725.7 0 0 0 -682.1 -259.4Z" fill="#002bff" transform="translate(0,-5)"/>
<path d="M-681 -261.1L-688.8 -239.7A719.5 719.5 0 0 0 -13.1 727.1L13.1 727.1A719.5 719.5 0 0 0 688.8 -239.7L681 -261.1A725.1 725.1 0 0 0 -681 -261.1Z" fill="#002dff" transform="translate(0,-5)"/>
<path d="M-679.6 -263L-687.6 -241.3A718.9 718.9 0 0 0 -13.2 726.5L13.2 726.5A718.9 718.9 0 0 0 687.6 -241.3L679.6 -263A724.4 724.4 0 0 0 -679.6 -263Z" fill="#0030ff" transform="translate(0,-5)"/>
<path d="M-678.3 -264.9L-686.5 -242.8A718.3 718.3 0 0 0 -13.4 726L13.4 726A718.3 718.3 0 0 0 686.5 -242.8L678.3 -264.9A723.8 723.8 0 0 0 -678.3 -264.9Z" fill="#0033ff" transform="translate(0,-5)"/>
<path d="M-676.8 -267L-685.2 -244.5A717.5 717.5 0 0 0 -13.5 725.3L13.5 725.3A717.5 717.5 0 0 0 685.2 -244.5L676.8 -267A722.9 722.9 0 0 0 -676.8 -267Z" fill="#0036ff" transform="translate(0,-5)"/>
<path d="M-675.2 -269.1L-683.9 -246.2A716.8 716.8 0 0 0 -13.7 724.7L13.7 724.7A716.8 716.8 0 0 0 683.9 -246.2L675.2 -269.1A722.1 722.1 0 0 0 -675.2 -269.1Z" fill="#0039ff" transform="translate(0,-5)"/>
<path d="M-673.8 -271L-682.7 -247.7A716 716 0 0 0 -13.9 724L13.9 724A716 716 0 0 0 682.7 -247.7L673.8 -271A721.3 721.3 0 0 0 -673.8 -271Z" fill="#003cff" transform="translate(0,-5)"/>
<path d="M-672.1 -273.1L-681.2 -249.4A715.2 715.2 0 0 0 -14 723.3L14 723.3A715.2 715.2 0 0 0 681.2 -249.4L672.1 -273.1A720.4 720.4 0 0 0 -672.1 -273.1Z" fill="#003fff" transform="translate(0,-5)"/>
<path d="M-670.4 -275.2L-679.9 -251A714.3 714.3 0 0 0 -14.2 722.5L14.2 722.5A714.3 714.3 0 0 0 679.9 -251L670.4 -275.2A719.5 719.5 0 0 0 -670.4 -275.2Z" fill="#0042ff" transform="translate(0,-5)"/>
<path d="M-668.6 -277.4L-678.3 -252.7A713.4 713.4 0 0 0 -14.4 721.7L14.4 721.7A713.4 713.4 0 0 0 678.3 -252.7L668.6 -277.4A718.4 718.4 0 0 0 -668.6 -277.4Z" fill="#0045ff" transform="translate(0,-5)"/>
<path d="M-666.8 -279.5L-676.8 -254.3A712.4 712.4 0 0 0 -14.6 720.9L14.6 720.9A712.4 712.4 0 0 0 676.8 -254.3L666.8 -279.5A717.4 717.4 0 0 0 -666.8 -279.5Z" fill="#0048ff" transform="translate(0,-5)"/>
<path d="M-665.1 -281.3L-675.4 -255.6A711.4 711.4 0 0 0 -14.8 720L14.8 720A711.4 711.4 0 0 0 675.4 -255.6L665.1 -281.3A716.3 716.3 0 0 0 -665.1 -281.3Z" fill="#004bff" transform="translate(0,-5)"/>
<path d="M-666.2 -277.4L-676 -252.5A711.3 711.3 0 0 0 -14.3 719.5L14.3 719.5A711.3 711.3 0 0 0 676 -252.5L666.2 -277.4A716 716 0 0 0 -666.2 -277.4Z" fill="#004eff" transform="translate(0,-5)"/>
<path d="M-667.4 -273.2L-676.7 -249.2A711.1 711.1 0 0 0 -13.7 719L13.7 719A711.1 711.1 0 0 0 676.7 -249.2L667.4 -273.2A715.8 715.8 0 0 0 -667.4 -273.2Z" fill="#0051ff" transform="translate(0,-5)"/>
<path d="M-668.8 -268.4L-677.6 -245.2A710.9 710.9 0 0 0 -13.1 718.5L13.1 718.5A710.9 710.9 0 0 0 677.6 -245.2L668.8 -268.4A715.5 715.5 0 0 0 -668.8 -268.4Z" fill="#0054ff" transform="translate(0,-5)"/>
<path d="M-670.3 -263.1L-678.5 -240.9A710.8 710.8 0 0 0 -12.5 718L12.5 718A710.8 710.8 0 0 0 678.5 -240.9L670.3 -263.1A715.2 715.2 0 0 0 -670.3 -263.1Z" fill="#0057ff" transform="translate(0,-5)"/>
<path d="M-671.9 -257.4L-679.6 -236.1A710.6 710.6 0 0 0 -11.9 717.4L11.9 717.4A710.6 710.6 0 0 0 679.6 -236.1L671.9 -257.4A715 715 0 0 0 -671.9 -257.4Z" fill="#005aff" transform="translate(0,-5)"/>
<path d="M-673.8 -250.6L-681 -230.4A710.4 710.4 0 0 0 -11.2 716.9L11.2 716.9A710.4 710.4 0 0 0 681 -230.4L673.8 -250.6A714.7 714.7 0 0 0 -673.8 -250.6Z" fill="#005dff" transform="translate(0,-5)"/>
<path d="M-676.1 -242.5L-682.6 -223.3A710.2 710.2 0 0 0 -10.5 716.2L10.5 716.2A710.2 710.2 0 0 0 682.6 -223.3L676.1 -242.5A714.4 714.4 0 0 0 -676.1 -242.5Z" fill="#0060ff" transform="translate(0,-5)"/>
<path d="M-678.4 -234.2L-684.3 -216A710 710 0 0 0 -9.8 715.7L9.8 715.7A710 710 0 0 0 684.3 -216L678.4 -234.2A714.1 714.1 0 0 0 -678.4 -234.2Z" fill="#0063ff" transform="translate(0,-5)"/>
<path d="M-680.3 -226.3L-685.8 -209A709.7 709.7 0 0 0 -9.3 715L9.3 715A709.7 709.7 0 0 0 685.8 -209L680.3 -226.3A713.6 713.6 0 0 0 -680.3 -226.3Z" fill="#0066ff" transform="translate(0,-5)"/>
<path d="M-681.8 -219.6L-686.9 -203A709.3 709.3 0 0 0 -8.9 714.4L8.9 714.4A709.3 709.3 0 0 0 686.9 -203L681.8 -219.6A713.2 713.2 0 0 0 -681.8 -219.6Z" fill="#0069ff" transform="translate(0,-5)"/>
<path d="M-683.6 -211.8L-688.3 -195.9A708.8 708.8 0 0 0 -8.4 713.7L8.4 713.7A708.8 708.8 0 0 0 688.3 -195.9L683.6 -211.8A712.7 712.7 0 0 0 -683.6 -211.8Z" fill="#006cff" transform="translate(0,-5)"/>
<path d="M-685.6 -202.7L-689.8 -187.5A708.4 708.4 0 0 0 -8 713L8 713A708.4 708.4 0 0 0 689.8 -187.5L685.6 -202.7A712.2 712.2 0 0 0 -685.6 -202.7Z" fill="#006fff" transform="translate(0,-5)"/>
<path d="M-687.6 -193.2L-691.4 -178.8A708 708 0 0 0 -7.5 712.3L7.5 712.3A708 708 0 0 0 691.4 -178.8L687.6 -193.2A711.8 711.8 0 0 0 -687.6 -193.2Z" fill="#0072ff" transform="translate(0,-5)"/>
<path d="M-690 -181.1L-693.4 -167.5A707.5 707.5 0 0 0 -7 711.6L7 711.6A707.5 707.5 0 0 0 693.4 -167.5L690 -181.1A711.3 711.3 0 0 0 -690 -181.1Z" fill="#0075ff" transform="translate(0,-5)"/>
<path d="M-692.5 -168.4L-695.4 -155.6A707.1 707.1 0 0 0 -6.6 710.9L6.6 710.9A707.1 707.1 0 0 0 695.4 -155.6L692.5 -168.4A710.8 710.8 0 0 0 -692.5 -168.4Z" fill="#0078ff" transform="translate(0,-5)"/>
<path d="M-695.2 -152.9L-697.7 -141A706.6 706.6 0 0 0 -6.1 710.1L6.1 710.1A706.6 706.6 0 0 0 697.7 -141L695.2 -152.9A710.2 710.2 0 0 0 -695.2 -152.9Z" fill="#007bff" transform="translate(0,-5)"/>
<path d="M-698.3 -133.9L-700.3 -122.8A706.1 706.1 0 0 0 -5.6 709.3L5.6 709.3A706.1 706.1 0 0 0 700.3 -122.8L698.3 -133.9A709.7 709.7 0 0 0 -698.3 -133.9Z" fill="#007eff" transform="translate(0,-5)"/>
<path d="M-701.4 -111.3L-702.9 -101.2A705.6 705.6 0 0 0 -5 708.5L5 708.5A705.6 705.6 0 0 0 702.9 -101.2L701.4 -111.3A709.1 709.1 0 0 0 -701.4 -111.3Z" fill="#0081ff" transform="translate(0,-5)"/>
<path d="M-701 -108.5L-702.4 -98.5A704.8 704.8 0 0 0 -4.9 707.7L4.9 707.7A704.8 704.8 0 0 0 702.4 -98.5L701 -108.5A708.3 708.3 0 0 0 -701 -108.5Z" fill="#0084ff" transform="translate(0,-5)"/>
<path d="M-699 -115.5L-700.6 -105.2A703.9 703.9 0 0 0 -5 706.8L5 706.8A703.9 703.9 0 0 0 700.6 -105.2L699 -115.5A707.4 707.4 0 0 0 -699 -115.5Z" fill="#0087ff" transform="translate(0,-5)"/>
<path d="M-697 -122.1L-698.7 -111.5A703 703 0 0 0 -5.1 706L5.1 706A703 703 0 0 0 698.7 -111.5L697 -122.1A706.4 706.4 0 0 0 -697 -122.1Z" fill="#008aff" transform="translate(0,-5)"/>
<path d="M-694.9 -128.7L-696.8 -117.8A702 702 0 0 0 -5.2 705L5.2 705A702 702 0 0 0 696.8 -117.8L694.9 -128.7A705.4 705.4 0 0 0 -694.9 -128.7Z" fill="#008dff" transform="translate(0,-5)"/>
<path d="M-692.8 -134.9L-694.8 -123.7A701.1 701.1 0 0 0 -5.3 704.1L5.3 704.1A701.1 701.1 0 0 0 694.8 -123.7L692.8 -134.9A704.4 704.4 0 0 0 -692.8 -134.9Z" fill="#0090ff" transform="translate(0,-5)"/>
<path d="M-690.7 -140.7L-692.9 -129.2A700.1 700.1 0 0 0 -5.4 703.2L5.4 703.2A700.1 700.1 0 0 0 692.9 -129.2L690.7 -140.7A703.4 703.4 0 0 0 -690.7 -140.7Z" fill="#0093ff" transform="translate(0,-5)"/>
<path d="M-688.5 -146.5L-690.9 -134.8A699.1 699.1 0 0 0 -5.5 702.3L5.5 702.3A699.1 699.1 0 0 0 690.9 -134.8L688.5 -146.5A702.3 702.3 0 0 0 -688.5 -146.5Z" fill="#0096ff" transform="translate(0,-5)"/>
<path d="M-686.3 -152L-688.8 -140A698.1 698.1 0 0 0 -5.6 701.3L5.6 701.3A698.1 698.1 0 0 0 688.8 -140L686.3 -152A701.2 701.2 0 0 0 -686.3 -152Z" fill="#0099ff" transform="translate(0,-5)"/>
<path d="M-684.1 -157.5L-686.8 -145.1A697.1 697.1 0 0 0 -5.7 700.3L5.7 700.3A697.1 697.1 0 0 0 686.8 -145.1L684.1 -157.5A700.1 700.1 0 0 0 -684.1 -157.5Z" fill="#009cff" transform="translate(0,-5)"/>
<path d="M-681.8 -162.6L-684.7 -150A696 696 0 0 0 -5.8 699.3L5.8 699.3A696 696 0 0 0 684.7 -150L681.8 -162.6A699 699 0 0 0 -681.8 -162.6Z" fill="#009fff" transform="translate(0,-5)"/>
<path d="M-680.9 -162.2L-683.8 -149.5A695.1 695.1 0 0 0 -5.7 698.4L5.7 698.4A695.1 695.1 0 0 0 683.8 -149.5L680.9 -162.2A698 698 0 0 0 -680.9 -162.2Z" fill="#00a2ff" transform="translate(0,-5)"/>
<path d="M-680.7 -159.1L-683.5 -146.6A694.3 694.3 0 0 0 -5.6 697.5L5.6 697.5A694.3 694.3 0 0 0 683.5 -146.6L680.7 -159.1A697.1 697.1 0 0 0 -680.7 -159.1Z" fill="#00a5ff" transform="translate(0,-5)"/>
<path d="M-680.5 -155.9L-683.2 -143.5A693.5 693.5 0 0 0 -5.4 696.6L5.4 696.6A693.5 693.5 0 0 0 683.2 -143.5L680.5 -155.9A696.3 696.3 0 0 0 -680.5 -155.9Z" fill="#00a8ff" transform="translate(0,-5)"/>
<path d="M-680.3 -152.5L-682.9 -140.3A692.6 692.6 0 0 0 -5.2 695.6L5.2 695.6A692.6 692.6 0 0 0 682.9 -140.3L680.3 -152.5A695.3 695.3 0 0 0 -680.3 -152.5Z" fill="#00abff" transform="translate(0,-5)"/>
<path d="M-680.1 -149L-682.6 -137A691.8 691.8 0 0 0 -5.1 694.7L5.1 694.7A691.8 691.8 0 0 0 682.6 -137L680.1 -149A694.4 694.4 0 0 0 -680.1 -149Z" fill="#00aeff" transform="translate(0,-5)"/>
<path d="M-679.9 -145.3L-682.2 -133.4A690.9 690.9 0 0 0 -4.9 693.7L4.9 693.7A690.9 690.9 0 0 0 682.2 -133.4L679.9 -145.3A693.5 693.5 0 0 0 -679.9 -145.3Z" fill="#00b1ff" transform="translate(0,-5)"/>
<path d="M-679.6 -141.5L-681.9 -129.8A690 690 0 0 0 -4.8 692.7L4.8 692.7A690 690 0 0 0 681.9 -129.8L679.6 -141.5A692.5 692.5 0 0 0 -679.6 -141.5Z" fill="#00b4ff" transform="translate(0,-5)"/>
<path d="M-678.3 -142.7L-680.6 -131A689 689 0 0 0 -4.7 691.7L4.7 691.7A689 689 0 0 0 680.6 -131L678.3 -142.7A691.4 691.4 0 0 0 -678.3 -142.7Z" fill="#00b7ff" transform="translate(0,-5)"/>
<path d="M-677 -143.9L-679.4 -132.1A688 688 0 0 0 -4.7 690.7L4.7 690.7A688 688 0 0 0 679.4 -132.1L677 -143.9A690.4 690.4 0 0 0 -677 -143.9Z" fill="#00baff" transform="translate(0,-5)"/>
<path d="M-675.7 -145.1L-678.1 -133.1A687 687 0 0 0 -4.6 689.7L4.6 689.7A687 687 0 0 0 678.1 -133.1L675.7 -145.1A689.3 689.3 0 0 0 -675.7 -145.1Z" fill="#00bdff" transform="translate(0,-5)"/>
<path d="M-674.3 -146.3L-676.8 -134.2A686 686 0 0 0 -4.6 688.6L4.6 688.6A686 686 0 0 0 676.8 -134.2L674.3 -146.3A688.2 688.2 0 0 0 -674.3 -146.3Z" fill="#00c0ff" transform="translate(0,-5)"/>
<path d="M-673 -147.4L-675.5 -135.3A684.9 684.9 0 0 0 -4.6 687.6L4.6 687.6A684.9 684.9 0 0 0 675.5 -135.3L673 -147.4A687.1 687.1 0 0 0 -673 -147.4Z" fill="#00c3ff" transform="translate(0,-5)"/>
<path d="M-671.6 -148.6L-674.1 -136.4A683.8 683.8 0 0 0 -4.5 686.5L4.5 686.5A683.8 683.8 0 0 0 674.1 -136.4L671.6 -148.6A685.9 685.9 0 0 0 -671.6 -148.6Z" fill="#00c6ff" transform="translate(0,-5)"/>
<path d="M-671.1 -145.3L-673.6 -133.1A682.7 682.7 0 0 0 -4.5 685.3L4.5 685.3A682.7 682.7 0 0 0 673.6 -133.1L671.1 -145.3A684.8 684.8 0 0 0 -671.1 -145.3Z" fill="#00c9ff" transform="translate(0,-5)"/>
<path d="M-672.3 -134.3L-674.5 -122.1A681.5 681.5 0 0 0 -4.6 684.1L4.6 684.1A681.5 681.5 0 0 0 674.5 -122.1L672.3 -134.3A683.8 683.8 0 0 0 -672.3 -134.3Z" fill="#00ccff" transform="translate(0,-5)"/>
<path d="M-673.3 -122.7L-675.3 -110.6A680.2 680.2 0 0 0 -4.6 682.9L4.6 682.9A680.2 680.2 0 0 0 675.3 -110.6L673.3 -122.7A682.8 682.8 0 0 0 -673.3 -122.7Z" fill="#00cfff" transform="translate(0,-5)"/>
<path d="M-674.1 -111L-676 -99A679 679 0 0 0 -4.7 681.6L4.7 681.6A679 679 0 0 0 676 -99L674.1 -111A681.8 681.8 0 0 0 -674.1 -111Z" fill="#00d2ff" transform="translate(0,-5)"/>
<path d="M-674.8 -98.8L-676.4 -86.8A677.6 677.6 0 0 0 -4.7 680.4L4.7 680.4A677.6 677.6 0 0 0 676.4 -86.8L674.8 -98.8A680.8 680.8 0 0 0 -674.8 -98.8Z" fill="#00d5ff" transform="translate(0,-5)"/>
<path d="M-672.4 -105L-674.2 -92.2A675.8 675.8 0 0 0 -5.2 678.8L5.2 678.8A675.8 675.8 0 0 0 674.2 -92.2L672.4 -105A679.2 679.2 0 0 0 -672.4 -105Z" fill="#00d8ff" transform="translate(0,-5)"/>
<path d="M-665.1 -135.7L-667.9 -120.7A673.1 673.1 0 0 0 -6.4 676.8L6.4 676.8A673.1 673.1 0 0 0 667.9 -120.7L665.1 -135.7A676.8 676.8 0 0 0 -665.1 -135.7Z" fill="#00dbff" transform="translate(0,-5)"/>
<path d="M-659 -155L-662.6 -138A670.4 670.4 0 0 0 -7.6 674.7L7.6 674.7A670.4 670.4 0 0 0 662.6 -138L659 -155A674.3 674.3 0 0 0 -659 -155Z" fill="#00deff" transform="translate(0,-5)"/>
<path d="M-653.5 -168.9L-658 -150.1A667.7 667.7 0 0 0 -8.6 672.6L8.6 672.6A667.7 667.7 0 0 0 658 -150.1L653.5 -168.9A671.9 671.9 0 0 0 -653.5 -168.9Z" fill="#00e1ff" transform="translate(0,-5)"/>
<path d="M-648.5 -180.2L-653.8 -159.5A664.9 664.9 0 0 0 -9.7 670.5L9.7 670.5A664.9 664.9 0 0 0 653.8 -159.5L648.5 -180.2A669.5 669.5 0 0 0 -648.5 -180.2Z" fill="#00e4ff" transform="translate(0,-5)"/>
<path d="M-643.8 -189.6L-649.9 -167.1A662.2 662.2 0 0 0 -10.8 668.4L10.8 668.4A662.2 662.2 0 0 0 649.9 -167.1L643.8 -189.6A667 667 0 0 0 -643.8 -189.6Z" fill="#00e7ff" transform="translate(0,-5)"/>
<path d="M-639.2 -197.8L-646.1 -173.4A659.4 659.4 0 0 0 -11.9 666.2L11.9 666.2A659.4 659.4 0 0 0 646.1 -173.4L639.2 -197.8A664.5 664.5 0 0 0 -639.2 -197.8Z" fill="#00eaff" transform="translate(0,-5)"/>
<path d="M-634.9 -204.8L-642.6 -178.4A656.6 656.6 0 0 0 -13 664L13 664A656.6 656.6 0 0 0 642.6 -178.4L634.9 -204.8A662 662 0 0 0 -634.9 -204.8Z" fill="#00edff" transform="translate(0,-5)"/>
<path d="M-630.7 -210.9L-639.3 -182.7A653.7 653.7 0 0 0 -14.1 661.8L14.1 661.8A653.7 653.7 0 0 0 639.3 -182.7L630.7 -210.9A659.4 659.4 0 0 0 -630.7 -210.9Z" fill="#00f0ff" transform="translate(0,-5)"/>
<path d="M-626.6 -216.3L-636.1 -186.1A650.7 650.7 0 0 0 -15.2 659.5L15.2 659.5A650.7 650.7 0 0 0 636.1 -186.1L626.6 -216.3A656.8 656.8 0 0 0 -626.6 -216.3Z" fill="#00f3ff" transform="translate(0,-5)"/>
<path d="M-622.8 -221L-633.1 -188.8A647.8 647.8 0 0 0 -16.4 657.3L16.4 657.3A647.8 647.8 0 0 0 633.1 -188.8L622.8 -221A654.2 654.2 0 0 0 -622.8 -221Z" fill="#00f6ff" transform="translate(0,-5)"/>
<path d="M-619 -225.3L-630.2 -191.1A644.8 644.8 0 0 0 -17.5 655L17.5 655A644.8 644.8 0 0 0 630.2 -191.1L619 -225.3A651.5 651.5 0 0 0 -619 -225.3Z" fill="#00f9ff" transform="translate(0,-5)"/>
<path d="M-588.6 -275.3L-610.3 -222.3A629.1 629.1 0 0 0 -28.2 645.4L28.2 645.4A629.1 629.1 0 0 0 610.3 -222.3L588.6 -275.3A636.1 636.1 0 0 0 -588.6 -275.3Z" fill="#00fcff" transform="translate(0,-4.8)"/>
<path d="M-558.9 -307.8L-595 -229.3A607.9 607.9 0 0 0 -42.7 632.6L42.7 632.6A607.9 607.9 0 0 0 595 -229.3L558.9 -307.8A615.2 615.2 0 0 0 -558.9 -307.8Z" fill="#00ffff" transform="translate(0,-4.5)"/>
<path d="M-564.9 -284.6L-593.1 -218.8A606.7 606.7 0 0 0 -35.7 627.3L35.7 627.3A606.7 606.7 0 0 0 593.1 -218.8L564.9 -284.6A614.8 614.8 0 0 0 -564.9 -284.6Z" fill="#00fffc" transform="translate(0,-4.2)"/>
<path d="M-565.9 -270.4L-591 -209.2A602.6 602.6 0 0 0 -33.3 621.8L33.3 621.8A602.6 602.6 0 0 0 591 -209.2L565.9 -270.4A611.5 611.5 0 0 0 -565.9 -270.4Z" fill="#00fff9" transform="translate(0,-3.9)"/>
<path d="M-554.5 -283L-585.6 -210.4A593.5 593.5 0 0 0 -40 616.6L40 616.6A593.5 593.5 0 0 0 585.6 -210.4L554.5 -283A603.2 603.2 0 0 0 -554.5 -283Z" fill="#00fff6" transform="translate(0,-3.6)"/>
<path d="M-544.5 -292.6L-581.3 -209.1A584.6 584.6 0 0 0 -46.4 611.4L46.4 611.4A584.6 584.6 0 0 0 581.3 -209.1L544.5 -292.6A595.1 595.1 0 0 0 -544.5 -292.6Z" fill="#00fff3" transform="translate(0,-3.3)"/>
<path d="M-535.1 -300.7L-577.7 -206.2A575.8 575.8 0 0 0 -52.9 606.3L52.9 606.3A575.8 575.8 0 0 0 577.7 -206.2L535.1 -300.7A587 587 0 0 0 -535.1 -300.7Z" fill="#00fff0" transform="translate(0,-3)"/>
<path d="M-526.4 -307.5L-574.6 -202.3A567.1 567.1 0 0 0 -59.2 601.3L59.2 601.3A567.1 567.1 0 0 0 574.6 -202.3L526.4 -307.5A579.1 579.1 0 0 0 -526.4 -307.5Z" fill="#00ffed" transform="translate(0,-2.7)"/>
<path d="M-518.2 -313.3L-571.9 -197.8A558.6 558.6 0 0 0 -65.3 596.4L65.3 596.4A558.6 558.6 0 0 0 571.9 -197.8L518.2 -313.3A571.5 571.5 0 0 0 -518.2 -313.3Z" fill="#00ffea" transform="translate(0,-2.4)"/>
<path d="M-510.2 -318.7L-569.4 -192.8A550.2 550.2 0 0 0 -71.4 591.5L71.4 591.5A550.2 550.2 0 0 0 569.4 -192.8L510.2 -318.7A563.8 563.8 0 0 0 -510.2 -318.7Z" fill="#00ffe7" transform="translate(0,-2.1)"/>
<path d="M-502.4 -323.7L-567.1 -187.4A541.8 541.8 0 0 0 -77.6 586.6L77.6 586.6A541.8 541.8 0 0 0 567.1 -187.4L502.4 -323.7A556.1 556.1 0 0 0 -502.4 -323.7Z" fill="#00ffe4" transform="translate(0,-1.9)"/>
<path d="M-495.3 -328L-565 -182.1A533.9 533.9 0 0 0 -83.3 582L83.3 582A533.9 533.9 0 0 0 565 -182.1L495.3 -328A548.9 548.9 0 0 0 -495.3 -328Z" fill="#00ffe1" transform="translate(0,-1.8)"/>
<path d="M-488 -332.3L-563 -176.4A525.7 525.7 0 0 0 -89.2 577.2L89.2 577.2A525.7 525.7 0 0 0 563 -176.4L488 -332.3A541.5 541.5 0 0 0 -488 -332.3Z" fill="#00ffde" transform="translate(0,-1.6)"/>
<path d="M-481 -336.3L-561.1 -170.7A517.8 517.8 0 0 0 -95 572.7L95 572.7A517.8 517.8 0 0 0 561.1 -170.7L481 -336.3A534.3 534.3 0 0 0 -481 -336.3Z" fill="#00ffdb" transform="translate(0,-1.5)"/>
<path d="M-474.1 -340.2L-559.3 -164.8A509.9 509.9 0 0 0 -100.7 568.1L100.7 568.1A509.9 509.9 0 0 0 559.3 -164.8L474.1 -340.2A527.1 527.1 0 0 0 -474.1 -340.2Z" fill="#00ffd8" transform="translate(0,-1.4)"/>
<path d="M-469.6 -342L-558 -160.5A504.4 504.4 0 0 0 -104.4 564.7L104.4 564.7A504.4 504.4 0 0 0 558 -160.5L469.6 -342A522.3 522.3 0 0 0 -469.6 -342Z" fill="#00ffd5" transform="translate(0,-1.3)"/>
<path d="M-466.2 -342.9L-556.8 -156.7A499.9 499.9 0 0 0 -107.3 561.8L107.3 561.8A499.9 499.9 0 0 0 556.8 -156.7L466.2 -342.9A518.4 518.4 0 0 0 -466.2 -342.9Z" fill="#00ffd2" transform="translate(0,-1.1)"/>
<path d="M-462.9 -343.9L-555.7 -153.1A495.5 495.5 0 0 0 -110 559L110 559A495.5 495.5 0 0 0 555.7 -153.1L462.9 -343.9A514.7 514.7 0 0 0 -462.9 -343.9Z" fill="#00ffcf" transform="translate(0,-1)"/>
<path d="M-459.6 -344.8L-554.5 -149.6A491.1 491.1 0 0 0 -112.8 556.3L112.8 556.3A491.1 491.1 0 0 0 554.5 -149.6L459.6 -344.8A511 511 0 0 0 -459.6 -344.8Z" fill="#00ffcc" transform="translate(0,-0.9)"/>
<path d="M-456.3 -345.8L-553.4 -146A486.7 486.7 0 0 0 -115.6 553.5L115.6 553.5A486.7 486.7 0 0 0 553.4 -146L456.3 -345.8A507.3 507.3 0 0 0 -456.3 -345.8Z" fill="#00ffc9" transform="translate(0,-0.8)"/>
<path d="M-452.3 -348L-552.2 -143A482.5 482.5 0 0 0 -118.5 550.9L118.5 550.9A482.5 482.5 0 0 0 552.2 -143L452.3 -348A503.1 503.1 0 0 0 -452.3 -348Z" fill="#00ffc6" transform="translate(0,-0.7)"/>
<path d="M-448 -350.7L-551.1 -140.3A478.4 478.4 0 0 0 -121.5 548.5L121.5 548.5A478.4 478.4 0 0 0 551.1 -140.3L448 -350.7A498.9 498.9 0 0 0 -448 -350.7Z" fill="#00ffc3" transform="translate(0,-0.5)"/>
<path d="M-443.7 -353.4L-550 -137.4A474.1 474.1 0 0 0 -124.6 546L124.6 546A474.1 474.1 0 0 0 550 -137.4L443.7 -353.4A494.5 494.5 0 0 0 -443.7 -353.4Z" fill="#00ffc0" transform="translate(0,-0.4)"/>
<path d="M-439.7 -355.8L-549 -134.6A470.1 470.1 0 0 0 -127.5 543.7L127.5 543.7A470.1 470.1 0 0 0 549 -134.6L439.7 -355.8A490.4 490.4 0 0 0 -439.7 -355.8Z" fill="#00ffbd" transform="translate(0,-0.3)"/>
<path d="M-435.5 -358.3L-547.9 -131.7A466 466 0 0 0 -130.5 541.3L130.5 541.3A466 466 0 0 0 547.9 -131.7L435.5 -358.3A486.2 486.2 0 0 0 -435.5 -358.3Z" fill="#00ffba" transform="translate(0,-0.2)"/>
<path d="M-431.4 -360.8L-546.9 -128.8A461.8 461.8 0 0 0 -133.5 538.9L133.5 538.9A461.8 461.8 0 0 0 546.9 -128.8L431.4 -360.8A481.9 481.9 0 0 0 -431.4 -360.8Z" fill="#00ffb7" transform="translate(0,-0.1)"/>
<path d="M-427.4 -363.1L-546 -125.9A457.8 457.8 0 0 0 -136.4 536.6L136.4 536.6A457.8 457.8 0 0 0 546 -125.9L427.4 -363.1A477.8 477.8 0 0 0 -427.4 -363.1Z" fill="#00ffb4"/>
<path d="M-423.5 -365.5L-545.1 -122.9A453.8 453.8 0 0 0 -139.3 534.3L139.3 534.3A453.8 453.8 0 0 0 545.1 -122.9L423.5 -365.5A473.7 473.7 0 0 0 -423.5 -365.5Z" fill="#00ffb1"/>
<path d="M-419.5 -367.8L-544.1 -120A449.8 449.8 0 0 0 -142.3 532L142.3 532A449.8 449.8 0 0 0 544.1 -120L419.5 -367.8A469.6 469.6 0 0 0 -419.5 -367.8Z" fill="#00ffae"/>
<path d="M-415.8 -369.9L-543.3 -117.1A446 446 0 0 0 -145.1 529.8L145.1 529.8A446 446 0 0 0 543.3 -117.1L415.8 -369.9A465.7 465.7 0 0 0 -415.8 -369.9Z" fill="#00ffab"/>
<path d="M-412 -372.1L-542.4 -114.2A442.2 442.2 0 0 0 -147.9 527.5L147.9 527.5A442.2 442.2 0 0 0 542.4 -114.2L412 -372.1A461.7 461.7 0 0 0 -412 -372.1Z" fill="#00ffa8"/>
<path d="M-408.4 -374.1L-541.6 -111.4A438.5 438.5 0 0 0 -150.6 525.4L150.6 525.4A438.5 438.5 0 0 0 541.6 -111.4L408.4 -374.1A457.9 457.9 0 0 0 -408.4 -374.1Z" fill="#00ffa5"/>
<path d="M-404.9 -376.1L-540.9 -108.6A434.8 434.8 0 0 0 -153.3 523.3L153.3 523.3A434.8 434.8 0 0 0 540.9 -108.6L404.9 -376.1A454.2 454.2 0 0 0 -404.9 -376.1Z" fill="#00ffa2"/>
<path d="M-401.3 -378.1L-540.1 -105.7A431.1 431.1 0 0 0 -156 521.2L156 521.2A431.1 431.1 0 0 0 540.1 -105.7L401.3 -378.1A450.4 450.4 0 0 0 -401.3 -378.1Z" fill="#00ff9f"/>
<path d="M-397.9 -380L-539.4 -103A427.6 427.6 0 0 0 -158.6 519.1L158.6 519.1A427.6 427.6 0 0 0 539.4 -103L397.9 -380A446.8 446.8 0 0 0 -397.9 -380Z" fill="#00ff9c"/>
<path d="M-394.5 -381.8L-538.7 -100.2A424.1 424.1 0 0 0 -161.2 517.1L161.2 517.1A424.1 424.1 0 0 0 538.7 -100.2L394.5 -381.8A443.2 443.2 0 0 0 -394.5 -381.8Z" fill="#00ff99"/>
<path d="M-391.3 -383.6L-538 -97.5A420.7 420.7 0 0 0 -163.6 515.2L163.6 515.2A420.7 420.7 0 0 0 538 -97.5L391.3 -383.6A439.7 439.7 0 0 0 -391.3 -383.6Z" fill="#00ff96"/>
<path d="M-388 -385.4L-537.3 -94.9A417.4 417.4 0 0 0 -166 513.3L166 513.3A417.4 417.4 0 0 0 537.3 -94.9L388 -385.4A436.3 436.3 0 0 0 -388 -385.4Z" fill="#00ff93"/>
<path d="M-385 -387L-536.6 -92.5A414.3 414.3 0 0 0 -168.2 511.4L168.2 511.4A414.3 414.3 0 0 0 536.6 -92.5L385 -387A433 433 0 0 0 -385 -387Z" fill="#00ff90"/>
<path d="M-381.9 -388.7L-535.9 -90A411.2 411.2 0 0 0 -170.4 509.6L170.4 509.6A411.2 411.2 0 0 0 535.9 -90L381.9 -388.7A429.7 429.7 0 0 0 -381.9 -388.7Z" fill="#00ff8d"/>
<path d="M-378.8 -390.4L-535.2 -87.4A407.9 407.9 0 0 0 -172.8 507.7L172.8 507.7A407.9 407.9 0 0 0 535.2 -87.4L378.8 -390.4A426.3 426.3 0 0 0 -378.8 -390.4Z" fill="#00ff8a"/>
<path d="M-375.7 -392.1L-534.6 -84.9A404.8 404.8 0 0 0 -175.1 505.8L175.1 505.8A404.8 404.8 0 0 0 534.6 -84.9L375.7 -392.1A423 423 0 0 0 -375.7 -392.1Z" fill="#00ff87"/>
<path d="M-372.6 -393.7L-534 -82.3A401.6 401.6 0 0 0 -177.4 504L177.4 504A401.6 401.6 0 0 0 534 -82.3L372.6 -393.7A419.7 419.7 0 0 0 -372.6 -393.7Z" fill="#00ff84"/>
<path d="M-369.7 -395.3L-533.4 -79.9A398.6 398.6 0 0 0 -179.6 502.3L179.6 502.3A398.6 398.6 0 0 0 533.4 -79.9L369.7 -395.3A416.5 416.5 0 0 0 -369.7 -395.3Z" fill="#00ff81"/>
<path d="M-366.8 -396.8L-532.8 -77.5A395.6 395.6 0 0 0 -181.7 500.5L181.7 500.5A395.6 395.6 0 0 0 532.8 -77.5L366.8 -396.8A413.4 413.4 0 0 0 -366.8 -396.8Z" fill="#00ff7e"/>
<path d="M-364 -398.4L-532.2 -75A392.6 392.6 0 0 0 -183.9 498.8L183.9 498.8A392.6 392.6 0 0 0 532.2 -75L364 -398.4A410.3 410.3 0 0 0 -364 -398.4Z" fill="#00ff7b"/>
<path d="M-361.2 -399.8L-531.6 -72.7A389.8 389.8 0 0 0 -185.9 497.1L185.9 497.1A389.8 389.8 0 0 0 531.6 -72.7L361.2 -399.8A407.3 407.3 0 0 0 -361.2 -399.8Z" fill="#00ff78"/>
<path d="M-358.5 -401.3L-531.1 -70.4A387 387 0 0 0 -188 495.5L188 495.5A387 387 0 0 0 531.1 -70.4L358.5 -401.3A404.4 404.4 0 0 0 -358.5 -401.3Z" fill="#00ff75"/>
<path d="M-356 -402.6L-530.6 -68.3A384.3 384.3 0 0 0 -189.9 494L189.9 494A384.3 384.3 0 0 0 530.6 -68.3L356 -402.6A401.6 401.6 0 0 0 -356 -402.6Z" fill="#00ff72"/>
<path d="M-353.5 -403.9L-530.1 -66.1A381.7 381.7 0 0 0 -191.8 492.4L191.8 492.4A381.7 381.7 0 0 0 530.1 -66.1L353.5 -403.9A398.9 398.9 0 0 0 -353.5 -403.9Z" fill="#00ff6f"/>
<path d="M-351.1 -405.2L-529.6 -64.1A379.2 379.2 0 0 0 -193.6 491L193.6 491A379.2 379.2 0 0 0 529.6 -64.1L351.1 -405.2A396.3 396.3 0 0 0 -351.1 -405.2Z" fill="#00ff6c"/>
<path d="M-348.8 -406.4L-529.1 -62A376.8 376.8 0 0 0 -195.4 489.6L195.4 489.6A376.8 376.8 0 0 0 529.1 -62L348.8 -406.4A393.7 393.7 0 0 0 -348.8 -406.4Z" fill="#00ff69"/>
<path d="M-346.4 -407.6L-528.7 -60A374.3 374.3 0 0 0 -197.2 488.1L197.2 488.1A374.3 374.3 0 0 0 528.7 -60L346.4 -407.6A391.1 391.1 0 0 0 -346.4 -407.6Z" fill="#00ff66"/>
<path d="M-344.4 -408.5L-528.1 -58.3A372.2 372.2 0 0 0 -198.5 486.8L198.5 486.8A372.2 372.2 0 0 0 528.1 -58.3L344.4 -408.5A388.9 388.9 0 0 0 -344.4 -408.5Z" fill="#00ff63"/>
<path d="M-342.6 -408.9L-527.3 -57A370.4 370.4 0 0 0 -199.4 485.5L199.4 485.5A370.4 370.4 0 0 0 527.3 -57L342.6 -408.9A387 387 0 0 0 -342.6 -408.9Z" fill="#00ff60"/>
<path d="M-341 -409.2L-526.6 -55.9A368.7 368.7 0 0 0 -200.1 484.3L200.1 484.3A368.7 368.7 0 0 0 526.6 -55.9L341 -409.2A385.2 385.2 0 0 0 -341 -409.2ZM-385.9 -230.1a385.9 385.9 0 1 0 771.8 0a385.9 385.9 0 1 0 -771.8 0ZM-569.5 115.6a369.4 369.4 0 1 0 738.8 0a369.4 369.4 0 1 0 -738.8 0ZM-169.3 115.6a369.4 369.4 0 1 0 738.8 0a369.4 369.4 0 1 0 -738.8 0Z" fill="#00ff5d"/>
<path d="M-339.4 -409.5L-525.8 -54.7A367 367 0 0 0 -200.9 483L200.9 483A367 367 0 0 0 525.8 -54.7L339.4 -409.5A383.4 383.4 0 0 0 -339.4 -409.5ZM-384.4 -231.2a384.4 384.4 0 1 0 768.8 0a384.4 384.4 0 1 0 -768.8 0ZM-568.9 116a368 368 0 1 0 736 0a368 368 0 1 0 -736 0ZM-167.1 116a368 368 0 1 0 736 0a368 368 0 1 0 -736 0Z" fill="#00ff5a"/>
<path d="M-338 -409.8L-525.2 -53.6A365.5 365.5 0 0 0 -201.7 481.9L201.7 481.9A365.5 365.5 0 0 0 525.2 -53.6L338 -409.8A381.8 381.8 0 0 0 -338 -409.8ZM-383 -232.2a383 383 0 1 0 766 0a383 383 0 1 0 -766 0ZM-568.4 116.4a366.7 366.7 0 1 0 733.4 0a366.7 366.7 0 1 0 -733.4 0ZM-165.1 116.4a366.7 366.7 0 1 0 733.4 0a366.7 366.7 0 1 0 -733.4 0Z" fill="#00ff57"/>
<path d="M-336.3 -410.2L-524.4 -52.4A363.8 363.8 0 0 0 -202.4 480.7L202.4 480.7A363.8 363.8 0 0 0 524.4 -52.4L336.3 -410.2A380 380 0 0 0 -336.3 -410.2ZM-381.5 -233.3a381.5 381.5 0 1 0 763 0a381.5 381.5 0 1 0 -763 0ZM-567.8 116.9a365.3 365.3 0 1 0 730.6 0a365.3 365.3 0 1 0 -730.6 0ZM-162.9 116.9a365.3 365.3 0 1 0 730.6 0a365.3 365.3 0 1 0 -730.6 0Z" fill="#00ff54"/>
<path d="M-335 -410.5L-523.8 -51.4A362.4 362.4 0 0 0 -203.1 479.6L203.1 479.6A362.4 362.4 0 0 0 523.8 -51.4L335 -410.5A378.5 378.5 0 0 0 -335 -410.5ZM-380.3 -234.3a380.3 380.3 0 1 0 760.5 0a380.3 380.3 0 1 0 -760.5 0ZM-567.2 117.3a364.1 364.1 0 1 0 728.3 0a364.1 364.1 0 1 0 -728.3 0ZM-161 117.3a364.1 364.1 0 1 0 728.3 0a364.1 364.1 0 1 0 -728.3 0Z" fill="#00ff51"/>
<path d="M-333.5 -410.8L-523.2 -50.3A360.8 360.8 0 0 0 -203.8 478.5L203.8 478.5A360.8 360.8 0 0 0 523.2 -50.3L333.5 -410.8A376.9 376.9 0 0 0 -333.5 -410.8ZM-378.9 -235.3a378.9 378.9 0 1 0 757.8 0a378.9 378.9 0 1 0 -757.8 0ZM-566.7 117.7a362.9 362.9 0 1 0 725.7 0a362.9 362.9 0 1 0 -725.7 0ZM-159 117.7a362.9 362.9 0 1 0 725.7 0a362.9 362.9 0 1 0 -725.7 0Z" fill="#00ff4e"/>
<path d="M-332.1 -411.1L-522.6 -49.2A359.3 359.3 0 0 0 -204.6 477.4L204.6 477.4A359.3 359.3 0 0 0 522.6 -49.2L332.1 -411.1A375.3 375.3 0 0 0 -332.1 -411.1ZM-377.5 -236.3a377.5 377.5 0 1 0 755.1 0a377.5 377.5 0 1 0 -755.1 0ZM-566.2 118.1a361.6 361.6 0 1 0 723.2 0a361.6 361.6 0 1 0 -723.2 0ZM-157 118.1a361.6 361.6 0 1 0 723.2 0a361.6 361.6 0 1 0 -723.2 0Z" fill="#00ff4b"/>
<path d="M-330 -411.9L-522 -47.5A357.1 357.1 0 0 0 -206 476L206 476A357.1 357.1 0 0 0 522 -47.5L330 -411.9A373 373 0 0 0 -330 -411.9ZM-375.4 -238.1a375.4 375.4 0 1 0 750.9 0a375.4 375.4 0 1 0 -750.9 0ZM-565.6 118.9a359.5 359.5 0 1 0 719.1 0a359.5 359.5 0 1 0 -719.1 0ZM-153.5 118.9a359.5 359.5 0 1 0 719.1 0a359.5 359.5 0 1 0 -719.1 0Z" fill="#00ff48"/>
<path d="M-327.9 -412.8L-521.4 -45.7A354.8 354.8 0 0 0 -207.5 474.6L207.5 474.6A354.8 354.8 0 0 0 521.4 -45.7L327.9 -412.8A370.6 370.6 0 0 0 -327.9 -412.8ZM-373.3 -239.9a373.3 373.3 0 1 0 746.6 0a373.3 373.3 0 1 0 -746.6 0ZM-565 119.8a357.5 357.5 0 1 0 715 0a357.5 357.5 0 1 0 -715 0ZM-150 119.8a357.5 357.5 0 1 0 715 0a357.5 357.5 0 1 0 -715 0Z" fill="#00ff45"/>
<path d="M-325.8 -413.6L-520.8 -43.9A352.6 352.6 0 0 0 -208.9 473.2L208.9 473.2A352.6 352.6 0 0 0 520.8 -43.9L325.8 -413.6A368.3 368.3 0 0 0 -325.8 -413.6ZM-371.2 -241.8a371.2 371.2 0 1 0 742.4 0a371.2 371.2 0 1 0 -742.4 0ZM-564.4 120.6a355.5 355.5 0 1 0 710.9 0a355.5 355.5 0 1 0 -710.9 0ZM-146.5 120.6a355.5 355.5 0 1 0 710.9 0a355.5 355.5 0 1 0 -710.9 0Z" fill="#00ff42"/>
<path d="M-323.9 -414.3L-520.3 -42.3A350.6 350.6 0 0 0 -210.2 471.9L210.2 471.9A350.6 350.6 0 0 0 520.3 -42.3L323.9 -414.3A366.2 366.2 0 0 0 -323.9 -414.3ZM-369.3 -243.4a369.3 369.3 0 1 0 738.6 0a369.3 369.3 0 1 0 -738.6 0ZM-563.9 121.4a353.6 353.6 0 1 0 707.3 0a353.6 353.6 0 1 0 -707.3 0ZM-143.4 121.4a353.6 353.6 0 1 0 707.3 0a353.6 353.6 0 1 0 -707.3 0Z" fill="#00ff3f"/>
<path d="M-322 -415L-519.7 -40.7A348.6 348.6 0 0 0 -211.5 470.7L211.5 470.7A348.6 348.6 0 0 0 519.7 -40.7L322 -415A364.2 364.2 0 0 0 -322 -415ZM-367.4 -245a367.4 367.4 0 1 0 734.9 0a367.4 367.4 0 1 0 -734.9 0ZM-563.3 122.1a351.8 351.8 0 1 0 703.7 0a351.8 351.8 0 1 0 -703.7 0ZM-140.3 122.1a351.8 351.8 0 1 0 703.7 0a351.8 351.8 0 1 0 -703.7 0Z" fill="#00ff3c"/>
<path d="M-320.4 -415.7L-519.3 -39.3A346.8 346.8 0 0 0 -212.6 469.6L212.6 469.6A346.8 346.8 0 0 0 519.3 -39.3L320.4 -415.7A362.4 362.4 0 0 0 -320.4 -415.7ZM-365.8 -246.4a365.8 365.8 0 1 0 731.6 0a365.8 365.8 0 1 0 -731.6 0ZM-562.9 122.8a350.2 350.2 0 1 0 700.5 0a350.2 350.2 0 1 0 -700.5 0ZM-137.6 122.8a350.2 350.2 0 1 0 700.5 0a350.2 350.2 0 1 0 -700.5 0Z" fill="#00ff39"/>
<path d="M-318.8 -416.3L-518.8 -37.8A345.1 345.1 0 0 0 -213.7 468.5L213.7 468.5A345.1 345.1 0 0 0 518.8 -37.8L318.8 -416.3A360.6 360.6 0 0 0 -318.8 -416.3ZM-364.2 -247.8a364.2 364.2 0 1 0 728.3 0a364.2 364.2 0 1 0 -728.3 0ZM-562.4 123.4a348.7 348.7 0 1 0 697.3 0a348.7 348.7 0 1 0 -697.3 0ZM-134.9 123.4a348.7 348.7 0 1 0 697.3 0a348.7 348.7 0 1 0 -697.3 0Z" fill="#00ff36"/>
<path d="M-317.1 -417L-518.4 -36.4A343.3 343.3 0 0 0 -214.9 467.4L214.9 467.4A343.3 343.3 0 0 0 518.4 -36.4L317.1 -417A358.8 358.8 0 0 0 -317.1 -417ZM-362.5 -249.2a362.5 362.5 0 1 0 725 0a362.5 362.5 0 1 0 -725 0ZM-561.9 124.1a347.1 347.1 0 1 0 694.1 0a347.1 347.1 0 1 0 -694.1 0ZM-132.2 124.1a347.1 347.1 0 1 0 694.1 0a347.1 347.1 0 1 0 -694.1 0Z" fill="#00ff33"/>
<path d="M-315.7 -417.5L-518 -35.2A341.8 341.8 0 0 0 -215.8 466.4L215.8 466.4A341.8 341.8 0 0 0 518 -35.2L315.7 -417.5A357.2 357.2 0 0 0 -315.7 -417.5ZM-361.1 -250.5a361.1 361.1 0 1 0 722.2 0a361.1 361.1 0 1 0 -722.2 0ZM-561.5 124.6a345.7 345.7 0 1 0 691.4 0a345.7 345.7 0 1 0 -691.4 0ZM-129.9 124.6a345.7 345.7 0 1 0 691.4 0a345.7 345.7 0 1 0 -691.4 0Z" fill="#00ff30"/>
<path d="M-314.3 -418L-517.6 -34A340.3 340.3 0 0 0 -216.8 465.5L216.8 465.5A340.3 340.3 0 0 0 517.6 -34L314.3 -418A355.7 355.7 0 0 0 -314.3 -418ZM-359.7 -251.7a359.7 359.7 0 1 0 719.4 0a359.7 359.7 0 1 0 -719.4 0ZM-561.2 125.2a344.4 344.4 0 1 0 688.7 0a344.4 344.4 0 1 0 -688.7 0ZM-127.6 125.2a344.4 344.4 0 1 0 688.7 0a344.4 344.4 0 1 0 -688.7 0Z" fill="#00ff2d"/>
<path d="M-312.9 -418.6L-517.2 -32.8A338.8 338.8 0 0 0 -217.8 464.5L217.8 464.5A338.8 338.8 0 0 0 517.2 -32.8L312.9 -418.6A354.1 354.1 0 0 0 -312.9 -418.6ZM-358.3 -252.9a358.3 358.3 0 1 0 716.6 0a358.3 358.3 0 1 0 -716.6 0ZM-560.8 125.7a343 343 0 1 0 686 0a343 343 0 1 0 -686 0ZM-125.2 125.7a343 343 0 1 0 686 0a343 343 0 1 0 -686 0Z" fill="#00ff2a"/>
<path d="M-311.8 -419L-516.9 -31.8A337.6 337.6 0 0 0 -218.6 463.8L218.6 463.8A337.6 337.6 0 0 0 516.9 -31.8L311.8 -419A352.8 352.8 0 0 0 -311.8 -419ZM-357.1 -253.9a357.1 357.1 0 1 0 714.2 0a357.1 357.1 0 1 0 -714.2 0ZM-560.4 126.2a341.9 341.9 0 1 0 683.7 0a341.9 341.9 0 1 0 -683.7 0ZM-123.3 126.2a341.9 341.9 0 1 0 683.7 0a341.9 341.9 0 1 0 -683.7 0Z" fill="#00ff27"/>
<path d="M-310.8 -419.4L-516.6 -31A336.6 336.6 0 0 0 -219.2 463.1L219.2 463.1A336.6 336.6 0 0 0 516.6 -31L310.8 -419.4A351.8 351.8 0 0 0 -310.8 -419.4ZM-356.2 -254.7a356.2 356.2 0 1 0 712.3 0a356.2 356.2 0 1 0 -712.3 0ZM-560.2 126.6a341 341 0 1 0 681.9 0a341 341 0 1 0 -681.9 0ZM-121.7 126.6a341 341 0 1 0 681.9 0a341 341 0 1 0 -681.9 0Z" fill="#00ff24"/>
<path d="M-309.7 -419.8L-516.3 -30A335.3 335.3 0 0 0 -220 462.3L220 462.3A335.3 335.3 0 0 0 516.3 -30L309.7 -419.8A350.5 350.5 0 0 0 -309.7 -419.8ZM-355 -255.7a355 355 0 1 0 710 0a355 355 0 1 0 -710 0ZM-559.8 127a339.8 339.8 0 1 0 679.6 0a339.8 339.8 0 1 0 -679.6 0ZM-119.8 127a339.8 339.8 0 1 0 679.6 0a339.8 339.8 0 1 0 -679.6 0Z" fill="#00ff20"/>
<path d="M-308.8 -420.2L-516 -29.2A334.3 334.3 0 0 0 -220.7 461.7L220.7 461.7A334.3 334.3 0 0 0 516 -29.2L308.8 -420.2A349.5 349.5 0 0 0 -308.8 -420.2ZM-354.1 -256.5a354.1 354.1 0 1 0 708.1 0a354.1 354.1 0 1 0 -708.1 0ZM-559.6 127.4a338.9 338.9 0 1 0 677.8 0a338.9 338.9 0 1 0 -677.8 0ZM-118.3 127.4a338.9 338.9 0 1 0 677.8 0a338.9 338.9 0 1 0 -677.8 0Z" fill="#00ff1d"/>
<path d="M-308.1 -420.5L-515.8 -28.6A333.6 333.6 0 0 0 -221.1 461.2L221.1 461.2A333.6 333.6 0 0 0 515.8 -28.6L308.1 -420.5A348.7 348.7 0 0 0 -308.1 -420.5ZM-353.3 -257.1a353.3 353.3 0 1 0 706.7 0a353.3 353.3 0 1 0 -706.7 0ZM-559.4 127.7a338.2 338.2 0 1 0 676.5 0a338.2 338.2 0 1 0 -676.5 0ZM-117.1 127.7a338.2 338.2 0 1 0 676.5 0a338.2 338.2 0 1 0 -676.5 0Z" fill="#00ff1b"/>
<path d="M-307.4 -420.7L-515.6 -28A332.8 332.8 0 0 0 -221.6 460.8L221.6 460.8A332.8 332.8 0 0 0 515.6 -28L307.4 -420.7A347.9 347.9 0 0 0 -307.4 -420.7ZM-352.6 -257.7a352.6 352.6 0 1 0 705.3 0a352.6 352.6 0 1 0 -705.3 0ZM-559.2 128a337.6 337.6 0 1 0 675.1 0a337.6 337.6 0 1 0 -675.1 0ZM-115.9 128a337.6 337.6 0 1 0 675.1 0a337.6 337.6 0 1 0 -675.1 0Z" fill="#00ff18"/>
<path d="M-306.7 -421L-515.5 -27.4A332.1 332.1 0 0 0 -222.1 460.3L222.1 460.3A332.1 332.1 0 0 0 515.5 -27.4L306.7 -421A347.1 347.1 0 0 0 -306.7 -421ZM-351.9 -258.3a351.9 351.9 0 1 0 703.9 0a351.9 351.9 0 1 0 -703.9 0ZM-559 128.2a336.9 336.9 0 1 0 673.7 0a336.9 336.9 0 1 0 -673.7 0ZM-114.8 128.2a336.9 336.9 0 1 0 673.7 0a336.9 336.9 0 1 0 -673.7 0Z" fill="#00ff14"/>
<path d="M-306.2 -421.2L-515.3 -27A331.6 331.6 0 0 0 -222.4 460L222.4 460A331.6 331.6 0 0 0 515.3 -27L306.2 -421.2A346.6 346.6 0 0 0 -306.2 -421.2ZM-351.5 -258.7a351.5 351.5 0 1 0 702.9 0a351.5 351.5 0 1 0 -702.9 0ZM-558.8 128.4a336.4 336.4 0 1 0 672.8 0a336.4 336.4 0 1 0 -672.8 0ZM-114 128.4a336.4 336.4 0 1 0 672.8 0a336.4 336.4 0 1 0 -672.8 0Z" fill="#00ff12"/>
<path d="M-305.7 -421.4L-515.2 -26.6A331.1 331.1 0 0 0 -222.8 459.7L222.8 459.7A331.1 331.1 0 0 0 515.2 -26.6L305.7 -421.4A346.1 346.1 0 0 0 -305.7 -421.4ZM-351 -259.1a351 351 0 1 0 702 0a351 351 0 1 0 -702 0ZM-558.7 128.6a336 336 0 1 0 671.9 0a336 336 0 1 0 -671.9 0ZM-113.2 128.6a336 336 0 1 0 671.9 0a336 336 0 1 0 -671.9 0Z" fill="#00ff0f"/>
<path d="M-305.3 -421.5L-515.1 -26.2A330.6 330.6 0 0 0 -223.1 459.4L223.1 459.4A330.6 330.6 0 0 0 515.1 -26.2L305.3 -421.5A345.6 345.6 0 0 0 -305.3 -421.5ZM-350.5 -259.5a350.5 350.5 0 1 0 701.1 0a350.5 350.5 0 1 0 -701.1 0ZM-558.6 128.8a335.5 335.5 0 1 0 671 0a335.5 335.5 0 1 0 -671 0ZM-112.4 128.8a335.5 335.5 0 1 0 671 0a335.5 335.5 0 1 0 -671 0Z" fill="#00ff0b"/>
<path d="M-305 -421.6L-515 -26A330.3 330.3 0 0 0 -223.2 459.2L223.2 459.2A330.3 330.3 0 0 0 515 -26L305 -421.6A345.3 345.3 0 0 0 -305 -421.6ZM-350.3 -259.7a350.3 350.3 0 1 0 700.6 0a350.3 350.3 0 1 0 -700.6 0ZM-558.5 128.9a335.3 335.3 0 1 0 670.6 0a335.3 335.3 0 1 0 -670.6 0ZM-112 128.9a335.3 335.3 0 1 0 670.6 0a335.3 335.3 0 1 0 -670.6 0Z" fill="#00ff08"/>
<path d="M-304.8 -421.7L-514.9 -25.8A330.1 330.1 0 0 0 -223.4 459L223.4 459A330.1 330.1 0 0 0 514.9 -25.8L304.8 -421.7A345.1 345.1 0 0 0 -304.8 -421.7ZM-350.1 -259.9a350.1 350.1 0 1 0 700.1 0a350.1 350.1 0 1 0 -700.1 0ZM-558.5 129a335.1 335.1 0 1 0 670.1 0a335.1 335.1 0 1 0 -670.1 0ZM-111.7 129a335.1 335.1 0 1 0 670.1 0a335.1 335.1 0 1 0 -670.1 0Z" fill="#00ff04"/>
<path d="M-304.7 -421.7L-514.9 -25.6A329.9 329.9 0 0 0 -223.5 458.9L223.5 458.9A329.9 329.9 0 0 0 514.9 -25.6L304.7 -421.7A344.9 344.9 0 0 0 -304.7 -421.7ZM-349.9 -260a349.9 349.9 0 1 0 699.8 0a349.9 349.9 0 1 0 -699.8 0ZM-558.4 129a334.9 334.9 0 1 0 669.8 0a334.9 334.9 0 1 0 -669.8 0ZM-111.5 129a334.9 334.9 0 1 0 669.8 0a334.9 334.9 0 1 0 -669.8 0Z" fill="#06ff00"/>
<path d="M-304.7 -421.7L-514.9 -25.6A329.9 329.9 0 0 0 -223.5 458.9L223.5 458.9A329.9 329.9 0 0 0 514.9 -25.6L304.7 -421.7A344.9 344.9 0 0 0 -304.7 -421.7ZM-349.9 -260a349.9 349.9 0 1 0 699.8 0a349.9 349.9 0 1 0 -699.8 0ZM-558.4 129a334.9 334.9 0 1 0 669.8 0a334.9 334.9 0 1 0 -669.8 0ZM-111.5 129a334.9 334.9 0 1 0 669.8 0a334.9 334.9 0 1 0 -669.8 0Z" fill="#06ff00"/>
<path d="M-304.7 -421.7L-514.9 -25.6A329.9 329.9 0 0 0 -223.5 458.9L223.5 458.9A329.9 329.9 0 0 0 514.9 -25.6L304.7 -421.7A344.9 344.9 0 0 0 -304.7 -421.7ZM-349.9 -260a349.9 349.9 0 1 0 699.8 0a349.9 349.9 0 1 0 -699.8 0ZM-558.4 129a334.9 334.9 0 1 0 669.8 0a334.9 334.9 0 1 0 -669.8 0ZM-111.5 129a334.9 334.9 0 1 0 669.8 0a334.9 334.9 0 1 0 -669.8 0Z" fill="#06ff00"/>
<path d="M-304.7 -421.7L-514.9 -25.6A329.9 329.9 0 0 0 -223.5 458.9L223.5 458.9A329.9 329.9 0 0 0 514.9 -25.6L304.7 -421.7A344.9 344.9 0 0 0 -304.7 -421.7ZM-349.9 -260a349.9 349.9 0 1 0 699.8 0a349.9 349.9 0 1 0 -699.8 0ZM-558.4 129a334.9 334.9 0 1 0 669.8 0a334.9 334.9 0 1 0 -669.8 0ZM-111.5 129a334.9 334.9 0 1 0 669.8 0a334.9 334.9 0 1 0 -669.8 0Z" fill="#06ff00"/>
<path d="M-304.5 -421.7L-514.8 -25.6A329.8 329.8 0 0 0 -223.5 458.8L223.5 458.8A329.8 329.8 0 0 0 514.8 -25.6L304.5 -421.7A344.8 344.8 0 0 0 -304.5 -421.7ZM-349.8 -260a349.8 349.8 0 1 0 699.6 0a349.8 349.8 0 1 0 -699.6 0ZM-558.3 129a334.8 334.8 0 1 0 669.6 0a334.8 334.8 0 1 0 -669.6 0ZM-111.3 129a334.8 334.8 0 1 0 669.6 0a334.8 334.8 0 1 0 -669.6 0Z" fill="#0aff00"/>
<path d="M-304.3 -421.6L-514.6 -25.4A329.5 329.5 0 0 0 -223.6 458.6L223.6 458.6A329.5 329.5 0 0 0 514.6 -25.4L304.3 -421.6A344.5 344.5 0 0 0 -304.3 -421.6ZM-349.6 -260.1a349.6 349.6 0 1 0 699.2 0a349.6 349.6 0 1 0 -699.2 0ZM-558.1 129.1a334.6 334.6 0 1 0 669.1 0a334.6 334.6 0 1 0 -669.1 0ZM-111 129.1a334.6 334.6 0 1 0 669.1 0a334.6 334.6 0 1 0 -669.1 0Z" fill="#0eff00"/>
<path d="M-304.2 -421.6L-514.6 -25.4A329.4 329.4 0 0 0 -223.6 458.5L223.6 458.5A329.4 329.4 0 0 0 514.6 -25.4L304.2 -421.6A344.4 344.4 0 0 0 -304.2 -421.6ZM-349.5 -260.1a349.5 349.5 0 1 0 698.9 0a349.5 349.5 0 1 0 -698.9 0ZM-558.1 129.1a334.5 334.5 0 1 0 668.9 0a334.5 334.5 0 1 0 -668.9 0ZM-110.9 129.1a334.5 334.5 0 1 0 668.9 0a334.5 334.5 0 1 0 -668.9 0Z" fill="#10ff00"/>
<path d="M-304 -421.5L-514.4 -25.2A329.2 329.2 0 0 0 -223.7 458.3L223.7 458.3A329.2 329.2 0 0 0 514.4 -25.2L304 -421.5A344.2 344.2 0 0 0 -304 -421.5ZM-349.3 -260.1a349.3 349.3 0 1 0 698.5 0a349.3 349.3 0 1 0 -698.5 0ZM-557.9 129.1a334.2 334.2 0 1 0 668.5 0a334.2 334.2 0 1 0 -668.5 0ZM-110.6 129.1a334.2 334.2 0 1 0 668.5 0a334.2 334.2 0 1 0 -668.5 0Z" fill="#13ff00"/>
<path d="M-303.8 -421.5L-514.2 -25.1A328.9 328.9 0 0 0 -223.7 458.1L223.7 458.1A328.9 328.9 0 0 0 514.2 -25.1L303.8 -421.5A343.9 343.9 0 0 0 -303.8 -421.5ZM-349 -260.2a349 349 0 1 0 698.1 0a349 349 0 1 0 -698.1 0ZM-557.7 129.2a334 334 0 1 0 668 0a334 334 0 1 0 -668 0ZM-110.3 129.2a334 334 0 1 0 668 0a334 334 0 1 0 -668 0Z" fill="#15ff00"/>
<path d="M-303.4 -421.4L-514 -24.9A328.6 328.6 0 0 0 -223.8 457.8L223.8 457.8A328.6 328.6 0 0 0 514 -24.9L303.4 -421.4A343.6 343.6 0 0 0 -303.4 -421.4ZM-348.7 -260.2a348.7 348.7 0 1 0 697.4 0a348.7 348.7 0 1 0 -697.4 0ZM-557.5 129.2a333.7 333.7 0 1 0 667.3 0a333.7 333.7 0 1 0 -667.3 0ZM-109.8 129.2a333.7 333.7 0 1 0 667.3 0a333.7 333.7 0 1 0 -667.3 0Z" fill="#18ff00"/>
<path d="M-303.1 -421.3L-513.8 -24.7A328.2 328.2 0 0 0 -223.9 457.5L223.9 457.5A328.2 328.2 0 0 0 513.8 -24.7L303.1 -421.3A343.2 343.2 0 0 0 -303.1 -421.3ZM-348.4 -260.3a348.4 348.4 0 1 0 696.7 0a348.4 348.4 0 1 0 -696.7 0ZM-557.3 129.3a333.3 333.3 0 1 0 666.7 0a333.3 333.3 0 1 0 -666.7 0ZM-109.4 129.3a333.3 333.3 0 1 0 666.7 0a333.3 333.3 0 1 0 -666.7 0Z" fill="#1bff00"/>
<path d="M-302.7 -421.2L-513.5 -24.4A327.7 327.7 0 0 0 -224.1 457.1L224.1 457.1A327.7 327.7 0 0 0 513.5 -24.4L302.7 -421.2A342.7 342.7 0 0 0 -302.7 -421.2ZM-347.9 -260.4a347.9 347.9 0 1 0 695.8 0a347.9 347.9 0 1 0 -695.8 0ZM-557 129.4a332.9 332.9 0 1 0 665.7 0a332.9 332.9 0 1 0 -665.7 0ZM-108.8 129.4a332.9 332.9 0 1 0 665.7 0a332.9 332.9 0 1 0 -665.7 0Z" fill="#1fff00"/>
<path d="M-302.2 -421L-513.2 -24.1A327.2 327.2 0 0 0 -224.2 456.7L224.2 456.7A327.2 327.2 0 0 0 513.2 -24.1L302.2 -421A342.3 342.3 0 0 0 -302.2 -421ZM-347.5 -260.4a347.5 347.5 0 1 0 694.9 0a347.5 347.5 0 1 0 -694.9 0ZM-556.6 129.5a332.4 332.4 0 1 0 664.8 0a332.4 332.4 0 1 0 -664.8 0ZM-108.2 129.5a332.4 332.4 0 1 0 664.8 0a332.4 332.4 0 1 0 -664.8 0Z" fill="#22ff00"/>
<path d="M-301.8 -420.9L-512.9 -23.8A326.7 326.7 0 0 0 -224.4 456.2L224.4 456.2A326.7 326.7 0 0 0 512.9 -23.8L301.8 -420.9A341.8 341.8 0 0 0 -301.8 -420.9ZM-347 -260.5a347 347 0 1 0 694.1 0a347 347 0 1 0 -694.1 0ZM-556.3 129.5a332 332 0 1 0 663.9 0a332 332 0 1 0 -663.9 0ZM-107.6 129.5a332 332 0 1 0 663.9 0a332 332 0 1 0 -663.9 0Z" fill="#24ff00"/>
<path d="M-301.3 -420.8L-512.5 -23.4A326.1 326.1 0 0 0 -224.5 455.7L224.5 455.7A326.1 326.1 0 0 0 512.5 -23.4L301.3 -420.8A341.2 341.2 0 0 0 -301.3 -420.8ZM-346.5 -260.6a346.5 346.5 0 1 0 693 0a346.5 346.5 0 1 0 -693 0ZM-555.9 129.6a331.4 331.4 0 1 0 662.8 0a331.4 331.4 0 1 0 -662.8 0ZM-106.9 129.6a331.4 331.4 0 1 0 662.8 0a331.4 331.4 0 1 0 -662.8 0Z" fill="#27ff00"/>
<path d="M-300.7 -420.6L-512.1 -23.1A325.5 325.5 0 0 0 -224.7 455.2L224.7 455.2A325.5 325.5 0 0 0 512.1 -23.1L300.7 -420.6A340.6 340.6 0 0 0 -300.7 -420.6ZM-345.9 -260.7a345.9 345.9 0 1 0 691.8 0a345.9 345.9 0 1 0 -691.8 0ZM-555.5 129.7a330.8 330.8 0 1 0 661.7 0a330.8 330.8 0 1 0 -661.7 0ZM-106.1 129.7a330.8 330.8 0 1 0 661.7 0a330.8 330.8 0 1 0 -661.7 0Z" fill="#2aff00"/>
<path d="M-300.2 -420.4L-511.7 -22.7A324.9 324.9 0 0 0 -224.9 454.7L224.9 454.7A324.9 324.9 0 0 0 511.7 -22.7L300.2 -420.4A340 340 0 0 0 -300.2 -420.4ZM-345.4 -260.8a345.4 345.4 0 1 0 690.7 0a345.4 345.4 0 1 0 -690.7 0ZM-555.1 129.8a330.3 330.3 0 1 0 660.5 0a330.3 330.3 0 1 0 -660.5 0ZM-105.4 129.8a330.3 330.3 0 1 0 660.5 0a330.3 330.3 0 1 0 -660.5 0Z" fill="#2dff00"/>
<path d="M-299.5 -420.3L-511.2 -22.3A324.1 324.1 0 0 0 -225.1 454.1L225.1 454.1A324.1 324.1 0 0 0 511.2 -22.3L299.5 -420.3A339.3 339.3 0 0 0 -299.5 -420.3ZM-344.7 -260.9a344.7 344.7 0 1 0 689.4 0a344.7 344.7 0 1 0 -689.4 0ZM-554.7 130a329.6 329.6 0 1 0 659.2 0a329.6 329.6 0 1 0 -659.2 0ZM-104.5 130a329.6 329.6 0 1 0 659.2 0a329.6 329.6 0 1 0 -659.2 0Z" fill="#30ff00"/>
<path d="M-298.8 -420.1L-510.8 -21.9A323.4 323.4 0 0 0 -225.3 453.5L225.3 453.5A323.4 323.4 0 0 0 510.8 -21.9L298.8 -420.1A338.5 338.5 0 0 0 -298.8 -420.1ZM-344 -261a344 344 0 1 0 688.1 0a344 344 0 1 0 -688.1 0ZM-554.2 130.1a328.9 328.9 0 1 0 657.8 0a328.9 328.9 0 1 0 -657.8 0ZM-103.6 130.1a328.9 328.9 0 1 0 657.8 0a328.9 328.9 0 1 0 -657.8 0Z" fill="#33ff00"/>
<path d="M-298.1 -419.8L-510.2 -21.4A322.5 322.5 0 0 0 -225.5 452.8L225.5 452.8A322.5 322.5 0 0 0 510.2 -21.4L298.1 -419.8A337.7 337.7 0 0 0 -298.1 -419.8ZM-343.3 -261.1a343.3 343.3 0 1 0 686.5 0a343.3 343.3 0 1 0 -686.5 0ZM-553.6 130.2a328.1 328.1 0 1 0 656.2 0a328.1 328.1 0 1 0 -656.2 0ZM-102.6 130.2a328.1 328.1 0 1 0 656.2 0a328.1 328.1 0 1 0 -656.2 0Z" fill="#36ff00"/>
<path d="M-297.3 -419.6L-509.7 -20.9A321.7 321.7 0 0 0 -225.8 452L225.8 452A321.7 321.7 0 0 0 509.7 -20.9L297.3 -419.6A336.8 336.8 0 0 0 -297.3 -419.6ZM-342.5 -261.3a342.5 342.5 0 1 0 685 0a342.5 342.5 0 1 0 -685 0ZM-553.1 130.4a327.3 327.3 0 1 0 654.6 0a327.3 327.3 0 1 0 -654.6 0ZM-101.5 130.4a327.3 327.3 0 1 0 654.6 0a327.3 327.3 0 1 0 -654.6 0Z" fill="#39ff00"/>
<path d="M-296.5 -419.4L-509.1 -20.3A320.8 320.8 0 0 0 -226.1 451.3L226.1 451.3A320.8 320.8 0 0 0 509.1 -20.3L296.5 -419.4A335.9 335.9 0 0 0 -296.5 -419.4ZM-341.7 -261.4a341.7 341.7 0 1 0 683.3 0a341.7 341.7 0 1 0 -683.3 0ZM-552.5 130.5a326.5 326.5 0 1 0 652.9 0a326.5 326.5 0 1 0 -652.9 0ZM-100.4 130.5a326.5 326.5 0 1 0 652.9 0a326.5 326.5 0 1 0 -652.9 0Z" fill="#3cff00"/>
<path d="M-296.1 -419.4L-509 -20.1A320.4 320.4 0 0 0 -226.3 451L226.3 451A320.4 320.4 0 0 0 509 -20.1L296.1 -419.4A335.6 335.6 0 0 0 -296.1 -419.4ZM-341.3 -261.5a341.3 341.3 0 1 0 682.7 0a341.3 341.3 0 1 0 -682.7 0ZM-552.4 130.6a326.1 326.1 0 1 0 652.3 0a326.1 326.1 0 1 0 -652.3 0ZM-99.8 130.6a326.1 326.1 0 1 0 652.3 0a326.1 326.1 0 1 0 -652.3 0Z" fill="#3fff00"/>
<path d="M-295.6 -419.3L-508.8 -19.7A319.8 319.8 0 0 0 -226.6 450.6L226.6 450.6A319.8 319.8 0 0 0 508.8 -19.7L295.6 -419.3A335.1 335.1 0 0 0 -295.6 -419.3ZM-340.9 -261.7a340.9 340.9 0 1 0 681.8 0a340.9 340.9 0 1 0 -681.8 0ZM-552.3 130.8a325.7 325.7 0 1 0 651.4 0a325.7 325.7 0 1 0 -651.4 0ZM-99.1 130.8a325.7 325.7 0 1 0 651.4 0a325.7 325.7 0 1 0 -651.4 0Z" fill="#42ff00"/>
<path d="M-295.2 -419.3L-508.6 -19.4A319.4 319.4 0 0 0 -226.8 450.3L226.8 450.3A319.4 319.4 0 0 0 508.6 -19.4L295.2 -419.3A334.6 334.6 0 0 0 -295.2 -419.3ZM-340.5 -261.8a340.5 340.5 0 1 0 681.1 0a340.5 340.5 0 1 0 -681.1 0ZM-552.1 131a325.3 325.3 0 1 0 650.6 0a325.3 325.3 0 1 0 -650.6 0ZM-98.5 131a325.3 325.3 0 1 0 650.6 0a325.3 325.3 0 1 0 -650.6 0Z" fill="#45ff00"/>
<path d="M-294.8 -419.3L-508.4 -19A318.9 318.9 0 0 0 -227.1 450L227.1 450A318.9 318.9 0 0 0 508.4 -19L294.8 -419.3A334.1 334.1 0 0 0 -294.8 -419.3ZM-340.1 -261.9a340.1 340.1 0 1 0 680.3 0a340.1 340.1 0 1 0 -680.3 0ZM-552 131.1a324.9 324.9 0 1 0 649.7 0a324.9 324.9 0 1 0 -649.7 0ZM-97.8 131.1a324.9 324.9 0 1 0 649.7 0a324.9 324.9 0 1 0 -649.7 0Z" fill="#48ff00"/>
<path d="M-294.2 -419.2L-508.2 -18.6A318.3 318.3 0 0 0 -227.4 449.6L227.4 449.6A318.3 318.3 0 0 0 508.2 -18.6L294.2 -419.2A333.6 333.6 0 0 0 -294.2 -419.2ZM-339.7 -262.1a339.7 339.7 0 1 0 679.4 0a339.7 339.7 0 1 0 -679.4 0ZM-551.8 131.3a324.4 324.4 0 1 0 648.8 0a324.4 324.4 0 1 0 -648.8 0ZM-97 131.3a324.4 324.4 0 1 0 648.8 0a324.4 324.4 0 1 0 -648.8 0Z" fill="#4bff00"/>
<path d="M-293.7 -419.2L-508 -18.2A317.7 317.7 0 0 0 -227.7 449.2L227.7 449.2A317.7 317.7 0 0 0 508 -18.2L293.7 -419.2A333 333 0 0 0 -293.7 -419.2ZM-339.2 -262.3a339.2 339.2 0 1 0 678.4 0a339.2 339.2 0 1 0 -678.4 0ZM-551.7 131.5a323.9 323.9 0 1 0 647.8 0a323.9 323.9 0 1 0 -647.8 0ZM-96.2 131.5a323.9 323.9 0 1 0 647.8 0a323.9 323.9 0 1 0 -647.8 0Z" fill="#4eff00"/>
<path d="M-293.2 -419.2L-507.7 -17.8A317.1 317.1 0 0 0 -228.1 448.8L228.1 448.8A317.1 317.1 0 0 0 507.7 -17.8L293.2 -419.2A332.5 332.5 0 0 0 -293.2 -419.2ZM-338.8 -262.4a338.8 338.8 0 1 0 677.5 0a338.8 338.8 0 1 0 -677.5 0ZM-551.5 131.7a323.4 323.4 0 1 0 646.8 0a323.4 323.4 0 1 0 -646.8 0ZM-95.4 131.7a323.4 323.4 0 1 0 646.8 0a323.4 323.4 0 1 0 -646.8 0Z" fill="#51ff00"/>
<path d="M-292.6 -419.1L-507.5 -17.4A316.5 316.5 0 0 0 -228.4 448.4L228.4 448.4A316.5 316.5 0 0 0 507.5 -17.4L292.6 -419.1A331.8 331.8 0 0 0 -292.6 -419.1ZM-338.3 -262.6a338.3 338.3 0 1 0 676.5 0a338.3 338.3 0 1 0 -676.5 0ZM-551.3 131.9a322.9 322.9 0 1 0 645.8 0a322.9 322.9 0 1 0 -645.8 0ZM-94.5 131.9a322.9 322.9 0 1 0 645.8 0a322.9 322.9 0 1 0 -645.8 0Z" fill="#54ff00"/>
<path d="M-292 -419.1L-507.2 -17A315.9 315.9 0 0 0 -228.8 447.9L228.8 447.9A315.9 315.9 0 0 0 507.2 -17L292 -419.1A331.2 331.2 0 0 0 -292 -419.1ZM-337.7 -262.8a337.7 337.7 0 1 0 675.5 0a337.7 337.7 0 1 0 -675.5 0ZM-551.1 132.1a322.4 322.4 0 1 0 644.7 0a322.4 322.4 0 1 0 -644.7 0ZM-93.6 132.1a322.4 322.4 0 1 0 644.7 0a322.4 322.4 0 1 0 -644.7 0Z" fill="#57ff00"/>
<path d="M-291.4 -419L-507 -16.5A315.2 315.2 0 0 0 -229.2 447.5L229.2 447.5A315.2 315.2 0 0 0 507 -16.5L291.4 -419A330.6 330.6 0 0 0 -291.4 -419ZM-337.2 -262.9a337.2 337.2 0 1 0 674.4 0a337.2 337.2 0 1 0 -674.4 0ZM-550.9 132.3a321.8 321.8 0 1 0 643.6 0a321.8 321.8 0 1 0 -643.6 0ZM-92.6 132.3a321.8 321.8 0 1 0 643.6 0a321.8 321.8 0 1 0 -643.6 0Z" fill="#5aff00"/>
<path d="M-290.8 -419L-506.7 -16A314.5 314.5 0 0 0 -229.5 447L229.5 447A314.5 314.5 0 0 0 506.7 -16L290.8 -419A329.9 329.9 0 0 0 -290.8 -419ZM-336.6 -263.1a336.6 336.6 0 1 0 673.3 0a336.6 336.6 0 1 0 -673.3 0ZM-550.7 132.5a321.2 321.2 0 1 0 642.4 0a321.2 321.2 0 1 0 -642.4 0ZM-91.7 132.5a321.2 321.2 0 1 0 642.4 0a321.2 321.2 0 1 0 -642.4 0Z" fill="#5dff00"/>
<path d="M-290.2 -418.9L-506.5 -15.5A313.8 313.8 0 0 0 -229.9 446.5L229.9 446.5A313.8 313.8 0 0 0 506.5 -15.5L290.2 -418.9A329.3 329.3 0 0 0 -290.2 -418.9ZM-336.1 -263.3a336.1 336.1 0 1 0 672.2 0a336.1 336.1 0 1 0 -672.2 0ZM-550.5 132.7a320.6 320.6 0 1 0 641.2 0a320.6 320.6 0 1 0 -641.2 0ZM-90.7 132.7a320.6 320.6 0 1 0 641.2 0a320.6 320.6 0 1 0 -641.2 0Z" fill="#60ff00"/>
<path d="M-289.5 -418.8L-506.2 -15A313 313 0 0 0 -230.3 446L230.3 446A313 313 0 0 0 506.2 -15L289.5 -418.8A328.5 328.5 0 0 0 -289.5 -418.8ZM-335.5 -263.5a335.5 335.5 0 1 0 671 0a335.5 335.5 0 1 0 -671 0ZM-550.3 133a320 320 0 1 0 640 0a320 320 0 1 0 -640 0ZM-89.7 133a320 320 0 1 0 640 0a320 320 0 1 0 -640 0Z" fill="#63ff00"/>
<path d="M-288.8 -418.8L-505.8 -14.6A312.4 312.4 0 0 0 -230.6 445.5L230.6 445.5A312.4 312.4 0 0 0 505.8 -14.6L288.8 -418.8A327.8 327.8 0 0 0 -288.8 -418.8ZM-334.9 -263.7a334.9 334.9 0 1 0 669.9 0a334.9 334.9 0 1 0 -669.9 0ZM-550 133.1a319.5 319.5 0 1 0 639 0a319.5 319.5 0 1 0 -639 0ZM-88.9 133.1a319.5 319.5 0 1 0 639 0a319.5 319.5 0 1 0 -639 0Z" fill="#66ff00"/>
<path d="M-288.2 -418.7L-505.4 -14.3A311.8 311.8 0 0 0 -230.7 445L230.7 445A311.8 311.8 0 0 0 505.4 -14.3L288.2 -418.7A327.1 327.1 0 0 0 -288.2 -418.7ZM-334.4 -263.9a334.4 334.4 0 1 0 668.7 0a334.4 334.4 0 1 0 -668.7 0ZM-549.7 133.2a319 319 0 1 0 638 0a319 319 0 1 0 -638 0ZM-88.3 133.2a319 319 0 1 0 638 0a319 319 0 1 0 -638 0Z" fill="#69ff00"/>
<path d="M-287.5 -418.6L-504.9 -14A311.1 311.1 0 0 0 -230.9 444.4L230.9 444.4A311.1 311.1 0 0 0 504.9 -14L287.5 -418.6A326.4 326.4 0 0 0 -287.5 -418.6ZM-333.8 -264.1a333.8 333.8 0 1 0 667.5 0a333.8 333.8 0 1 0 -667.5 0ZM-549.4 133.3a318.5 318.5 0 1 0 637 0a318.5 318.5 0 1 0 -637 0ZM-87.6 133.3a318.5 318.5 0 1 0 637 0a318.5 318.5 0 1 0 -637 0Z" fill="#6cff00"/>
<path d="M-286.7 -418.5L-504.5 -13.6A310.4 310.4 0 0 0 -231.1 443.8L231.1 443.8A310.4 310.4 0 0 0 504.5 -13.6L286.7 -418.5A325.6 325.6 0 0 0 -286.7 -418.5ZM-333.1 -264.2a333.1 333.1 0 1 0 666.2 0a333.1 333.1 0 1 0 -666.2 0ZM-549.1 133.4a318 318 0 1 0 636 0a318 318 0 1 0 -636 0ZM-86.9 133.4a318 318 0 1 0 636 0a318 318 0 1 0 -636 0Z" fill="#6fff00"/>
<path d="M-286 -418.4L-504 -13.3A309.7 309.7 0 0 0 -231.3 443.3L231.3 443.3A309.7 309.7 0 0 0 504 -13.3L286 -418.4A324.8 324.8 0 0 0 -286 -418.4ZM-332.5 -264.4a332.5 332.5 0 1 0 664.9 0a332.5 332.5 0 1 0 -664.9 0ZM-548.7 133.5a317.4 317.4 0 1 0 634.9 0a317.4 317.4 0 1 0 -634.9 0ZM-86.1 133.5a317.4 317.4 0 1 0 634.9 0a317.4 317.4 0 1 0 -634.9 0Z" fill="#72ff00"/>
<path d="M-285.2 -418.3L-503.5 -12.9A309 309 0 0 0 -231.5 442.7L231.5 442.7A309 309 0 0 0 503.5 -12.9L285.2 -418.3A323.9 323.9 0 0 0 -285.2 -418.3ZM-331.8 -264.6a331.8 331.8 0 1 0 663.7 0a331.8 331.8 0 1 0 -663.7 0ZM-548.4 133.6a316.9 316.9 0 1 0 633.8 0a316.9 316.9 0 1 0 -633.8 0ZM-85.4 133.6a316.9 316.9 0 1 0 633.8 0a316.9 316.9 0 1 0 -633.8 0Z" fill="#75ff00"/>
<path d="M-284.4 -418.1L-503 -12.5A308.3 308.3 0 0 0 -231.7 442L231.7 442A308.3 308.3 0 0 0 503 -12.5L284.4 -418.1A323.1 323.1 0 0 0 -284.4 -418.1ZM-331.1 -264.8a331.1 331.1 0 1 0 662.3 0a331.1 331.1 0 1 0 -662.3 0ZM-548 133.8a316.3 316.3 0 1 0 632.6 0a316.3 316.3 0 1 0 -632.6 0ZM-84.6 133.8a316.3 316.3 0 1 0 632.6 0a316.3 316.3 0 1 0 -632.6 0Z" fill="#78ff00"/>
<path d="M-283.5 -418.2L-502.6 -12A307.4 307.4 0 0 0 -232.1 441.4L232.1 441.4A307.4 307.4 0 0 0 502.6 -12L283.5 -418.2A322.1 322.1 0 0 0 -283.5 -418.2ZM-330.3 -265.2a330.3 330.3 0 1 0 660.7 0a330.3 330.3 0 1 0 -660.7 0ZM-547.7 134a315.7 315.7 0 1 0 631.3 0a315.7 315.7 0 1 0 -631.3 0ZM-83.6 134a315.7 315.7 0 1 0 631.3 0a315.7 315.7 0 1 0 -631.3 0Z" fill="#7bff00"/>
<path d="M-282.6 -418.2L-502.2 -11.4A306.6 306.6 0 0 0 -232.4 440.8L232.4 440.8A306.6 306.6 0 0 0 502.2 -11.4L282.6 -418.2A321.2 321.2 0 0 0 -282.6 -418.2ZM-329.6 -265.6a329.6 329.6 0 1 0 659.1 0a329.6 329.6 0 1 0 -659.1 0ZM-547.4 134.2a315 315 0 1 0 630 0a315 315 0 1 0 -630 0ZM-82.5 134.2a315 315 0 1 0 630 0a315 315 0 1 0 -630 0Z" fill="#7eff00"/>
<path d="M-281.6 -418.3L-501.8 -10.9A305.7 305.7 0 0 0 -232.8 440.1L232.8 440.1A305.7 305.7 0 0 0 501.8 -10.9L281.6 -418.3A320.1 320.1 0 0 0 -281.6 -418.3ZM-328.7 -266.1a328.7 328.7 0 1 0 657.5 0a328.7 328.7 0 1 0 -657.5 0ZM-547.1 134.4a314.3 314.3 0 1 0 628.5 0a314.3 314.3 0 1 0 -628.5 0ZM-81.4 134.4a314.3 314.3 0 1 0 628.5 0a314.3 314.3 0 1 0 -628.5 0Z" fill="#81ff00"/>
<path d="M-280.6 -418.3L-501.3 -10.3A304.7 304.7 0 0 0 -233.3 439.4L233.3 439.4A304.7 304.7 0 0 0 501.3 -10.3L280.6 -418.3A319.1 319.1 0 0 0 -280.6 -418.3ZM-327.8 -266.5a327.8 327.8 0 1 0 655.7 0a327.8 327.8 0 1 0 -655.7 0ZM-546.8 134.7a313.5 313.5 0 1 0 627 0a313.5 313.5 0 1 0 -627 0ZM-80.3 134.7a313.5 313.5 0 1 0 627 0a313.5 313.5 0 1 0 -627 0Z" fill="#84ff00"/>
<path d="M-279.7 -418.3L-500.9 -9.7A303.8 303.8 0 0 0 -233.6 438.7L233.6 438.7A303.8 303.8 0 0 0 500.9 -9.7L279.7 -418.3A318 318 0 0 0 -279.7 -418.3ZM-327 -266.9a327 327 0 1 0 654 0a327 327 0 1 0 -654 0ZM-546.5 134.9a312.8 312.8 0 1 0 625.6 0a312.8 312.8 0 1 0 -625.6 0ZM-79.2 134.9a312.8 312.8 0 1 0 625.6 0a312.8 312.8 0 1 0 -625.6 0Z" fill="#87ff00"/>
<path d="M-278.7 -418.4L-500.4 -9.1A302.9 302.9 0 0 0 -234.1 438L234.1 438A302.9 302.9 0 0 0 500.4 -9.1L278.7 -418.4A317 317 0 0 0 -278.7 -418.4ZM-326.1 -267.4a326.1 326.1 0 1 0 652.2 0a326.1 326.1 0 1 0 -652.2 0ZM-546.1 135.1a312.1 312.1 0 1 0 624.1 0a312.1 312.1 0 1 0 -624.1 0ZM-78 135.1a312.1 312.1 0 1 0 624.1 0a312.1 312.1 0 1 0 -624.1 0Z" fill="#8aff00"/>
<path d="M-277.6 -418.4L-499.9 -8.5A301.9 301.9 0 0 0 -234.5 437.3L234.5 437.3A301.9 301.9 0 0 0 499.9 -8.5L277.6 -418.4A315.8 315.8 0 0 0 -277.6 -418.4ZM-325.2 -267.9a325.2 325.2 0 1 0 650.4 0a325.2 325.2 0 1 0 -650.4 0ZM-545.8 135.4a311.3 311.3 0 1 0 622.5 0a311.3 311.3 0 1 0 -622.5 0ZM-76.8 135.4a311.3 311.3 0 1 0 622.5 0a311.3 311.3 0 1 0 -622.5 0Z" fill="#8dff00"/>
<path d="M-276.6 -418.4L-499.4 -7.9A300.9 300.9 0 0 0 -234.9 436.5L234.9 436.5A300.9 300.9 0 0 0 499.4 -7.9L276.6 -418.4A314.7 314.7 0 0 0 -276.6 -418.4ZM-324.3 -268.3a324.3 324.3 0 1 0 648.5 0a324.3 324.3 0 1 0 -648.5 0ZM-545.4 135.6a310.5 310.5 0 1 0 620.9 0a310.5 310.5 0 1 0 -620.9 0ZM-75.5 135.6a310.5 310.5 0 1 0 620.9 0a310.5 310.5 0 1 0 -620.9 0Z" fill="#90ff00"/>
<path d="M-275.5 -418.5L-498.9 -7.2A299.8 299.8 0 0 0 -235.4 435.7L235.4 435.7A299.8 299.8 0 0 0 498.9 -7.2L275.5 -418.5A313.5 313.5 0 0 0 -275.5 -418.5ZM-323.3 -268.8a323.3 323.3 0 1 0 646.5 0a323.3 323.3 0 1 0 -646.5 0ZM-545 135.9a309.6 309.6 0 1 0 619.3 0a309.6 309.6 0 1 0 -619.3 0ZM-74.2 135.9a309.6 309.6 0 1 0 619.3 0a309.6 309.6 0 1 0 -619.3 0Z" fill="#93ff00"/>
<path d="M-274.4 -418.5L-498.4 -6.6A298.8 298.8 0 0 0 -235.8 435L235.8 435A298.8 298.8 0 0 0 498.4 -6.6L274.4 -418.5A312.3 312.3 0 0 0 -274.4 -418.5ZM-322.3 -269.3a322.3 322.3 0 1 0 644.7 0a322.3 322.3 0 1 0 -644.7 0ZM-544.7 136.2a308.8 308.8 0 1 0 617.7 0a308.8 308.8 0 1 0 -617.7 0ZM-73 136.2a308.8 308.8 0 1 0 617.7 0a308.8 308.8 0 1 0 -617.7 0Z" fill="#96ff00"/>
<path d="M-272.2 -418.7L-497.3 -5.8A297.2 297.2 0 0 0 -236.3 433.6L236.3 433.6A297.2 297.2 0 0 0 497.3 -5.8L272.2 -418.7A310 310 0 0 0 -272.2 -418.7ZM-320.8 -270.3a320.8 320.8 0 1 0 641.7 0a320.8 320.8 0 1 0 -641.7 0ZM-544.3 136.4a308 308 0 1 0 615.9 0a308 308 0 1 0 -615.9 0ZM-71.6 136.4a308 308 0 1 0 615.9 0a308 308 0 1 0 -615.9 0Z" fill="#99ff00"/>
<path d="M-270.2 -418.8L-496.2 -5A295.6 295.6 0 0 0 -236.8 432.3L236.8 432.3A295.6 295.6 0 0 0 496.2 -5L270.2 -418.8A307.8 307.8 0 0 0 -270.2 -418.8ZM-319.4 -271.3a319.4 319.4 0 1 0 638.8 0a319.4 319.4 0 1 0 -638.8 0ZM-543.9 136.7a307.1 307.1 0 1 0 614.3 0a307.1 307.1 0 1 0 -614.3 0ZM-70.4 136.7a307.1 307.1 0 1 0 614.3 0a307.1 307.1 0 1 0 -614.3 0Z" fill="#9cff00"/>
<path d="M-267.9 -419L-495 -4.1A293.8 293.8 0 0 0 -237.3 430.8L237.3 430.8A293.8 293.8 0 0 0 495 -4.1L267.9 -419A305.4 305.4 0 0 0 -267.9 -419ZM-317.8 -272.3a317.8 317.8 0 1 0 635.6 0a317.8 317.8 0 1 0 -635.6 0ZM-543.5 137a306.2 306.2 0 1 0 612.5 0a306.2 306.2 0 1 0 -612.5 0ZM-69 137a306.2 306.2 0 1 0 612.5 0a306.2 306.2 0 1 0 -612.5 0Z" fill="#9fff00"/>
<path d="M-265.7 -419.1L-493.9 -3.3A292.2 292.2 0 0 0 -237.7 429.4L237.7 429.4A292.2 292.2 0 0 0 493.9 -3.3L265.7 -419.1A303.1 303.1 0 0 0 -265.7 -419.1ZM-316.3 -273.3a316.3 316.3 0 1 0 632.6 0a316.3 316.3 0 1 0 -632.6 0ZM-543.1 137.3a305.4 305.4 0 1 0 610.8 0a305.4 305.4 0 1 0 -610.8 0ZM-67.6 137.3a305.4 305.4 0 1 0 610.8 0a305.4 305.4 0 1 0 -610.8 0Z" fill="#a2ff00"/>
<path d="M-263.5 -419.3L-492.7 -2.4A290.4 290.4 0 0 0 -238.2 428L238.2 428A290.4 290.4 0 0 0 492.7 -2.4L263.5 -419.3A300.7 300.7 0 0 0 -263.5 -419.3ZM-314.7 -274.4a314.7 314.7 0 1 0 629.5 0a314.7 314.7 0 1 0 -629.5 0ZM-542.7 137.5a304.5 304.5 0 1 0 609 0a304.5 304.5 0 1 0 -609 0ZM-66.2 137.5a304.5 304.5 0 1 0 609 0a304.5 304.5 0 1 0 -609 0Z" fill="#a5ff00"/>
<path d="M-261.3 -419.3L-491.5 -1.7A288.8 288.8 0 0 0 -238.6 426.5L238.6 426.5A288.8 288.8 0 0 0 491.5 -1.7L261.3 -419.3A298.4 298.4 0 0 0 -261.3 -419.3ZM-313.2 -275.2a313.2 313.2 0 1 0 626.5 0a313.2 313.2 0 1 0 -626.5 0ZM-542.2 137.7a303.7 303.7 0 1 0 607.3 0a303.7 303.7 0 1 0 -607.3 0ZM-65.1 137.7a303.7 303.7 0 1 0 607.3 0a303.7 303.7 0 1 0 -607.3 0Z" fill="#a8ff00"/>
<path d="M-259 -419.3L-490.2 -0.9A287.1 287.1 0 0 0 -238.9 425L238.9 425A287.1 287.1 0 0 0 490.2 -0.9L259 -419.3A295.9 295.9 0 0 0 -259 -419.3ZM-311.7 -276.1a311.7 311.7 0 1 0 623.4 0a311.7 311.7 0 1 0 -623.4 0ZM-541.7 138a302.8 302.8 0 1 0 605.6 0a302.8 302.8 0 1 0 -605.6 0ZM-63.9 138a302.8 302.8 0 1 0 605.6 0a302.8 302.8 0 1 0 -605.6 0Z" fill="#abff00"/>
<path d="M-256.7 -419.3L-488.9 -0A285.3 285.3 0 0 0 -239.3 423.4L239.3 423.4A285.3 285.3 0 0 0 488.9 -0L256.7 -419.3A293.4 293.4 0 0 0 -256.7 -419.3ZM-310.1 -277.1a310.1 310.1 0 1 0 620.1 0a310.1 310.1 0 1 0 -620.1 0ZM-541.2 138.2a301.9 301.9 0 1 0 603.8 0a301.9 301.9 0 1 0 -603.8 0ZM-62.6 138.2a301.9 301.9 0 1 0 603.8 0a301.9 301.9 0 1 0 -603.8 0Z" fill="#aeff00"/>
<path d="M-254.4 -419.2L-487.6 0.8A283.5 283.5 0 0 0 -239.7 421.9L239.7 421.9A283.5 283.5 0 0 0 487.6 0.8L254.4 -419.2A291 291 0 0 0 -254.4 -419.2ZM-308.5 -278a308.5 308.5 0 1 0 617 0a308.5 308.5 0 1 0 -617 0ZM-540.7 138.4a301.1 301.1 0 1 0 602.1 0a301.1 301.1 0 1 0 -602.1 0ZM-61.4 138.4a301.1 301.1 0 1 0 602.1 0a301.1 301.1 0 1 0 -602.1 0Z" fill="#b1ff00"/>
<path d="M-252 -419.2L-486.2 1.6A281.7 281.7 0 0 0 -240.1 420.3L240.1 420.3A281.7 281.7 0 0 0 486.2 1.6L252 -419.2A288.4 288.4 0 0 0 -252 -419.2ZM-306.9 -279a306.9 306.9 0 1 0 613.7 0a306.9 306.9 0 1 0 -613.7 0ZM-540.2 138.6a300.2 300.2 0 1 0 600.3 0a300.2 300.2 0 1 0 -600.3 0ZM-60.1 138.6a300.2 300.2 0 1 0 600.3 0a300.2 300.2 0 1 0 -600.3 0Z" fill="#b4ff00"/>
<path d="M-249.6 -419.2L-484.8 2.5A279.8 279.8 0 0 0 -240.5 418.7L240.5 418.7A279.8 279.8 0 0 0 484.8 2.5L249.6 -419.2A285.8 285.8 0 0 0 -249.6 -419.2ZM-305.2 -280a305.2 305.2 0 1 0 610.3 0a305.2 305.2 0 1 0 -610.3 0ZM-539.7 138.8a299.2 299.2 0 1 0 598.5 0a299.2 299.2 0 1 0 -598.5 0ZM-58.8 138.8a299.2 299.2 0 1 0 598.5 0a299.2 299.2 0 1 0 -598.5 0Z" fill="#b7ff00"/>
<path d="M-245.3 -419.3L-482.6 4.9A275.9 275.9 0 0 0 -241.8 415.5L241.8 415.5A275.9 275.9 0 0 0 482.6 4.9L245.3 -419.3A281.1 281.1 0 0 0 -245.3 -419.3ZM-302.4 -282.1a302.4 302.4 0 1 0 604.7 0a302.4 302.4 0 1 0 -604.7 0ZM-539 139.6a297.2 297.2 0 1 0 594.4 0a297.2 297.2 0 1 0 -594.4 0ZM-55.4 139.6a297.2 297.2 0 1 0 594.4 0a297.2 297.2 0 1 0 -594.4 0Z" fill="#baff00"/>
<path d="M-238 -419.7L-479 10A268.5 268.5 0 0 0 -244.9 409.8L244.9 409.8A268.5 268.5 0 0 0 479 10L238 -419.7A272.9 272.9 0 0 0 -238 -419.7ZM-297.6 -286.2a297.6 297.6 0 1 0 595.1 0a297.6 297.6 0 1 0 -595.1 0ZM-538.1 141.4a293.2 293.2 0 1 0 586.3 0a293.2 293.2 0 1 0 -586.3 0ZM-48.3 141.4a293.2 293.2 0 1 0 586.3 0a293.2 293.2 0 1 0 -586.3 0Z" fill="#bdff00"/>
<path d="M-230.1 -420.5L-475.6 15.9A260.3 260.3 0 0 0 -248.7 403.9L248.7 403.9A260.3 260.3 0 0 0 475.6 15.9L230.1 -420.5A264 264 0 0 0 -230.1 -420.5ZM-292.3 -291.1a292.3 292.3 0 1 0 584.5 0a292.3 292.3 0 1 0 -584.5 0ZM-537.3 143.6a288.6 288.6 0 1 0 577.3 0a288.6 288.6 0 1 0 -577.3 0ZM-40 143.6a288.6 288.6 0 1 0 577.3 0a288.6 288.6 0 1 0 -577.3 0Z" fill="#c0ff00"/>
<path d="M-222 -421.6L-472.3 22.1A252.1 252.1 0 0 0 -252.8 398L252.8 398A252.1 252.1 0 0 0 472.3 22.1L222 -421.6A254.9 254.9 0 0 0 -222 -421.6ZM-286.8 -296.4a286.8 286.8 0 1 0 573.5 0a286.8 286.8 0 1 0 -573.5 0ZM-536.7 145.9a284 284 0 1 0 567.9 0a284 284 0 1 0 -567.9 0ZM-31.2 145.9a284 284 0 1 0 567.9 0a284 284 0 1 0 -567.9 0Z" fill="#c3ff00"/>
<path d="M-213.6 -422.7L-468.9 28.5A243.5 243.5 0 0 0 -257 391.9L257 391.9A243.5 243.5 0 0 0 468.9 28.5L213.6 -422.7A245.5 245.5 0 0 0 -213.6 -422.7ZM-281.1 -301.8a281.1 281.1 0 1 0 562.2 0a281.1 281.1 0 1 0 -562.2 0ZM-536.1 148.4a279.1 279.1 0 1 0 558.2 0a279.1 279.1 0 1 0 -558.2 0ZM-22.1 148.4a279.1 279.1 0 1 0 558.2 0a279.1 279.1 0 1 0 -558.2 0Z" fill="#c6ff00"/>
<path d="M-202.3 -424.7L-464.8 37.9A231.4 231.4 0 0 0 -263.5 383.6L263.5 383.6A231.4 231.4 0 0 0 464.8 37.9L202.3 -424.7A232.6 232.6 0 0 0 -202.3 -424.7ZM-272.8 -309.9a272.8 272.8 0 1 0 545.6 0a272.8 272.8 0 1 0 -545.6 0ZM-535.1 152.1a271.6 271.6 0 1 0 543.3 0a271.6 271.6 0 1 0 -543.3 0ZM-8.2 152.1a271.6 271.6 0 1 0 543.3 0a271.6 271.6 0 1 0 -543.3 0Z" fill="#c9ff00"/>
<path d="M-185.6 -428.2L-459.3 52.7A213.2 213.2 0 0 0 -274 371.4L274 371.4A213.2 213.2 0 0 0 459.3 52.7L185.6 -428.2A213.5 213.5 0 0 0 -185.6 -428.2ZM-259.9 -322.6a259.9 259.9 0 1 0 519.7 0a259.9 259.9 0 1 0 -519.7 0ZM-533.5 158.2a259.5 259.5 0 1 0 519.1 0a259.5 259.5 0 1 0 -519.1 0ZM14.4 158.2a259.5 259.5 0 1 0 519.1 0a259.5 259.5 0 1 0 -519.1 0Z" fill="#ccff00"/>
<path d="M-168.3 -431.8L-453.6 68.2A194.3 194.3 0 0 0 -284.9 358.8L284.9 358.8A194.3 194.3 0 0 0 453.6 68.2L168.3 -431.8A193.8 193.8 0 0 0 -168.3 -431.8ZM-246.4 -335.8a246.4 246.4 0 1 0 492.9 0a246.4 246.4 0 1 0 -492.9 0ZM-531.8 164.5a247 247 0 1 0 493.9 0a247 247 0 1 0 -493.9 0ZM37.9 164.5a247 247 0 1 0 493.9 0a247 247 0 1 0 -493.9 0Z" fill="#cfff00"/>
<path d="M-150.4 -435.5L-447.8 84.2A174.7 174.7 0 0 0 -296.1 345.7L296.1 345.7A174.7 174.7 0 0 0 447.8 84.2L150.4 -435.5A173.3 173.3 0 0 0 -150.4 -435.5ZM-232.5 -349.4a232.5 232.5 0 1 0 465.1 0a232.5 232.5 0 1 0 -465.1 0ZM-530.1 171a234 234 0 1 0 467.9 0a234 234 0 1 0 -467.9 0ZM62.2 171a234 234 0 1 0 467.9 0a234 234 0 1 0 -467.9 0Z" fill="#d2ff00"/>
<path d="M-132.6 -439.1L-442 100.3A155.1 155.1 0 0 0 -307.4 332.6L307.4 332.6A155.1 155.1 0 0 0 442 100.3L132.6 -439.1A152.8 152.8 0 0 0 -132.6 -439.1ZM-218.6 -363.1a218.6 218.6 0 1 0 437.3 0a218.6 218.6 0 1 0 -437.3 0ZM-528.4 177.5a221 221 0 1 0 441.9 0a221 221 0 1 0 -441.9 0ZM86.5 177.5a221 221 0 1 0 441.9 0a221 221 0 1 0 -441.9 0Z" fill="#d5ff00"/>
<path d="M-109.3 -443.7L-434.4 121.7A129.2 129.2 0 0 0 -322.3 315.3L322.3 315.3A129.2 129.2 0 0 0 434.4 121.7L109.3 -443.7A126 126 0 0 0 -109.3 -443.7ZM-200.6 -380.9a200.6 200.6 0 1 0 401.2 0a200.6 200.6 0 1 0 -401.2 0ZM-526.1 186.1a203.8 203.8 0 1 0 407.6 0a203.8 203.8 0 1 0 -407.6 0ZM118.5 186.1a203.8 203.8 0 1 0 407.6 0a203.8 203.8 0 1 0 -407.6 0Z" fill="#d8ff00"/>
<path d="M-76.4 -450L-423.5 152.3A92.3 92.3 0 0 0 -343.5 290.6L343.5 290.6A92.3 92.3 0 0 0 423.5 152.3L76.4 -450A88.2 88.2 0 0 0 -76.4 -450ZM-175.2 -406a175.2 175.2 0 1 0 350.5 0a175.2 175.2 0 1 0 -350.5 0ZM-522.8 198.3a179.3 179.3 0 1 0 358.6 0a179.3 179.3 0 1 0 -358.6 0ZM164.2 198.3a179.3 179.3 0 1 0 358.6 0a179.3 179.3 0 1 0 -358.6 0Z" fill="#dbff00"/>
<path d="M-42.4 -456.5L-412.2 184A54 54 0 0 0 -365.5 265L365.5 265A54 54 0 0 0 412.2 184L42.4 -456.5A49 49 0 0 0 -42.4 -456.5ZM-149 -432a149 149 0 1 0 298 0a149 149 0 1 0 -298 0ZM-519.5 211a154 154 0 1 0 308 0a154 154 0 1 0 -308 0ZM211.5 211a154 154 0 1 0 308 0a154 154 0 1 0 -308 0Z" fill="#deff00"/>
<circle cx="0" cy="-312" r="269" fill="url(#bc0)"/>
<path d="M-269 -312a269 269 0 1 0 538 0a269 269 0 1 0 -538 0ZM-250 -312a250 250 0 1 0 500 0a250 250 0 1 0 -500 0Z" fill-rule="evenodd" fill="url(#bk0)"/>
<circle cx="-270.2" cy="156" r="269" fill="url(#bc1)"/>
<path d="M-539.2 156a269 269 0 1 0 538 0a269 269 0 1 0 -538 0ZM-510.2 156a240 240 0 1 0 480 0a240 240 0 1 0 -480 0Z" fill-rule="evenodd" fill="url(#bk1)"/>
<circle cx="270.2" cy="156" r="269" fill="url(#bc2)"/>
<path d="M1.2 156a269 269 0 1 0 538 0a269 269 0 1 0 -538 0Z" fill-rule="evenodd" fill="url(#bk2)"/>
</g></g>
<g fill="none" stroke="#000" filter="url(#blblur)">
<circle r="726.4" stroke-width="2.4" stroke-opacity="0.55"/>
<circle r="658.7" stroke-width="1.9" stroke-opacity="0.85"/>
<circle r="642.8" stroke-width="1.9" stroke-opacity="0.85"/>
<circle r="585" stroke-width="1.9" stroke-opacity="0.85"/>
<circle cx="-1.5" cy="-311" r="268.7" stroke-width="2.7" stroke-opacity="0.6"/>
<circle cx="1.5" cy="-313" r="267.3" stroke-width="2.7" stroke-opacity="0.6"/>
<circle cx="0" cy="-312" r="167.5" stroke-width="2.0" stroke-opacity="0.78"/>
<circle cx="-271.7" cy="157" r="268.7" stroke-width="2.7" stroke-opacity="0.6"/>
<circle cx="-268.7" cy="155" r="267.3" stroke-width="2.7" stroke-opacity="0.6"/>
<circle cx="-270.2" cy="156" r="167.5" stroke-width="2.0" stroke-opacity="0.78"/>
<circle cx="268.7" cy="157" r="268.7" stroke-width="2.7" stroke-opacity="0.6"/>
<circle cx="271.7" cy="155" r="267.3" stroke-width="2.7" stroke-opacity="0.6"/>
<circle cx="270.2" cy="156" r="167.5" stroke-width="2.0" stroke-opacity="0.78"/>
</g>
</g>
<g filter="url(#bblur2)">
<text x="725.5" y="2036.8" class="lab" font-size="38.5" fill-opacity="0.45">47.661</text>
<rect x="715.9" y="2057.2" width="17" height="17" fill="#fff" fill-opacity="0.03" stroke="#000" stroke-opacity="0.5" stroke-width="2.6"/>
<text x="757.5" y="2081.5" class="lab" font-size="31" fill-opacity="0.6" font-weight="bold">MX</text>
<text x="491.5" y="2530.9" class="lab" font-size="38.5">45.71</text>
<rect x="481.0" y="2549.9" width="20" height="19" fill="#fff" fill-opacity="0.03" stroke="#000" stroke-opacity="0.7" stroke-width="2.6"/>
<text x="1025" y="2536.4" class="lab" font-size="38.5">44.313</text>
<rect x="1015.5" y="2557.5" width="19" height="19" fill="#fff" fill-opacity="0.03" stroke="#000" stroke-opacity="0.7" stroke-width="2.6"/>
<text x="798" y="3103.4" class="lab" font-size="31" fill-opacity="0.6" font-weight="bold">MN</text>
</g>
<g filter="url(#tblur)">
<rect x="1523.4" y="1727.0" width="69.4" height="30.6" fill="#0000ff" stroke="#1a1a2a" stroke-opacity="0.72" stroke-width="2.4"/>
<text x="1640" y="1747.2" class="mono" font-size="39">36.07</text>
<rect x="1523.4" y="1770.2" width="69.4" height="30.6" fill="#0067ff" stroke="#1a1a2a" stroke-opacity="0.72" stroke-width="2.4"/>
<text x="1640" y="1790.4" class="mono" font-size="39">36.522</text>
<rect x="1523.4" y="1813.4" width="69.4" height="30.6" fill="#0089ff" stroke="#1a1a2a" stroke-opacity="0.72" stroke-width="2.4"/>
<text x="1640" y="1833.6" class="mono" font-size="39">36.885</text>
<rect x="1523.4" y="1856.7" width="69.4" height="30.6" fill="#00a4ff" stroke="#1a1a2a" stroke-opacity="0.72" stroke-width="2.4"/>
<text x="1640" y="1876.9" class="mono" font-size="39">37.247</text>
<rect x="1523.4" y="1899.9" width="69.4" height="30.6" fill="#00bbff" stroke="#1a1a2a" stroke-opacity="0.72" stroke-width="2.4"/>
<text x="1640" y="1920.1" class="mono" font-size="39">37.609</text>
<rect x="1523.4" y="1943.1" width="69.4" height="30.6" fill="#00d0ff" stroke="#1a1a2a" stroke-opacity="0.72" stroke-width="2.4"/>
<text x="1640" y="1963.3" class="mono" font-size="39">37.971</text>
<rect x="1523.4" y="1986.3" width="69.4" height="30.6" fill="#00e2ff" stroke="#1a1a2a" stroke-opacity="0.72" stroke-width="2.4"/>
<text x="1640" y="2006.5" class="mono" font-size="39">38.334</text>
<rect x="1523.4" y="2029.5" width="69.4" height="30.6" fill="#00f3ff" stroke="#1a1a2a" stroke-opacity="0.72" stroke-width="2.4"/>
<text x="1640" y="2049.7" class="mono" font-size="39">38.696</text>
<rect x="1523.4" y="2072.8" width="69.4" height="30.6" fill="#00fffb" stroke="#1a1a2a" stroke-opacity="0.72" stroke-width="2.4"/>
<text x="1640" y="2093.0" class="mono" font-size="39">39.058</text>
<rect x="1523.4" y="2116.0" width="69.4" height="30.6" fill="#00ffeb" stroke="#1a1a2a" stroke-opacity="0.72" stroke-width="2.4"/>
<text x="1640" y="2136.2" class="mono" font-size="39">39.42</text>
<rect x="1523.4" y="2159.2" width="69.4" height="30.6" fill="#00ffd9" stroke="#1a1a2a" stroke-opacity="0.72" stroke-width="2.4"/>
<text x="1640" y="2179.4" class="mono" font-size="39">39.782</text>
<rect x="1523.4" y="2202.4" width="69.4" height="30.6" fill="#00ffc1" stroke="#1a1a2a" stroke-opacity="0.72" stroke-width="2.4"/>
<text x="1640" y="2222.6" class="mono" font-size="39">40.235</text>
<rect x="1523.4" y="2245.6" width="69.4" height="30.6" fill="#00ffaa" stroke="#1a1a2a" stroke-opacity="0.72" stroke-width="2.4"/>
<text x="1640" y="2265.8" class="mono" font-size="39">40.598</text>
<rect x="1523.4" y="2288.9" width="69.4" height="30.6" fill="#00ff91" stroke="#1a1a2a" stroke-opacity="0.72" stroke-width="2.4"/>
<text x="1640" y="2309.1" class="mono" font-size="39">40.96</text>
<rect x="1523.4" y="2332.1" width="69.4" height="30.6" fill="#00ff71" stroke="#1a1a2a" stroke-opacity="0.72" stroke-width="2.4"/>
<text x="1640" y="2352.3" class="mono" font-size="39">41.322</text>
<rect x="1523.4" y="2375.3" width="69.4" height="30.6" fill="#00ff42" stroke="#1a1a2a" stroke-opacity="0.72" stroke-width="2.4"/>
<text x="1640" y="2395.5" class="mono" font-size="39">41.684</text>
<rect x="1523.4" y="2418.5" width="69.4" height="30.6" fill="#42ff00" stroke="#1a1a2a" stroke-opacity="0.72" stroke-width="2.4"/>
<text x="1640" y="2438.7" class="mono" font-size="39">42.046</text>
<rect x="1523.4" y="2461.7" width="69.4" height="30.6" fill="#71ff00" stroke="#1a1a2a" stroke-opacity="0.72" stroke-width="2.4"/>
<text x="1640" y="2481.9" class="mono" font-size="39">42.409</text>
<rect x="1523.4" y="2505.0" width="69.4" height="30.6" fill="#91ff00" stroke="#1a1a2a" stroke-opacity="0.72" stroke-width="2.4"/>
<text x="1640" y="2525.2" class="mono" font-size="39">42.771</text>
<rect x="1523.4" y="2548.2" width="69.4" height="30.6" fill="#aaff00" stroke="#1a1a2a" stroke-opacity="0.72" stroke-width="2.4"/>
<text x="1640" y="2568.4" class="mono" font-size="39">43.133</text>
<rect x="1523.4" y="2591.4" width="69.4" height="30.6" fill="#c1ff00" stroke="#1a1a2a" stroke-opacity="0.72" stroke-width="2.4"/>
<text x="1640" y="2611.6" class="mono" font-size="39">43.495</text>
<rect x="1523.4" y="2634.6" width="69.4" height="30.6" fill="#d9ff00" stroke="#1a1a2a" stroke-opacity="0.72" stroke-width="2.4"/>
<text x="1640" y="2654.8" class="mono" font-size="39">43.948</text>
<rect x="1523.4" y="2677.8" width="69.4" height="30.6" fill="#ebff00" stroke="#1a1a2a" stroke-opacity="0.72" stroke-width="2.4"/>
<text x="1640" y="2698.0" class="mono" font-size="39">44.31</text>
<rect x="1523.4" y="2721.1" width="69.4" height="30.6" fill="#fbff00" stroke="#1a1a2a" stroke-opacity="0.72" stroke-width="2.4"/>
<text x="1640" y="2741.3" class="mono" font-size="39">44.673</text>
<rect x="1523.4" y="2764.3" width="69.4" height="30.6" fill="#fff300" stroke="#1a1a2a" stroke-opacity="0.72" stroke-width="2.4"/>
<text x="1640" y="2784.5" class="mono" font-size="39">45.035</text>
<rect x="1523.4" y="2807.5" width="69.4" height="30.6" fill="#ffe200" stroke="#1a1a2a" stroke-opacity="0.72" stroke-width="2.4"/>
<text x="1640" y="2827.7" class="mono" font-size="39">45.397</text>
<rect x="1523.4" y="2850.7" width="69.4" height="30.6" fill="#ffd000" stroke="#1a1a2a" stroke-opacity="0.72" stroke-width="2.4"/>
<text x="1640" y="2870.9" class="mono" font-size="39">45.759</text>
<rect x="1523.4" y="2893.9" width="69.4" height="30.6" fill="#ffbb00" stroke="#1a1a2a" stroke-opacity="0.72" stroke-width="2.4"/>
<text x="1640" y="2914.1" class="mono" font-size="39">46.122</text>
<rect x="1523.4" y="2937.2" width="69.4" height="30.6" fill="#ffa400" stroke="#1a1a2a" stroke-opacity="0.72" stroke-width="2.4"/>
<text x="1640" y="2957.4" class="mono" font-size="39">46.484</text>
<rect x="1523.4" y="2980.4" width="69.4" height="30.6" fill="#ff8900" stroke="#1a1a2a" stroke-opacity="0.72" stroke-width="2.4"/>
<text x="1640" y="3000.6" class="mono" font-size="39">46.846</text>
<rect x="1523.4" y="3023.6" width="69.4" height="30.6" fill="#ff6700" stroke="#1a1a2a" stroke-opacity="0.72" stroke-width="2.4"/>
<text x="1640" y="3043.8" class="mono" font-size="39">47.208</text>
<rect x="1523.4" y="3066.8" width="69.4" height="30.6" fill="#ff0000" stroke="#1a1a2a" stroke-opacity="0.72" stroke-width="2.4"/>
<text x="1640" y="3087.0" class="mono" font-size="39">47.661</text>
<text x="1494" y="1693.5" class="serif" font-size="44" textLength="331" lengthAdjust="spacingAndGlyphs">Temperature (°C)</text>
</g>

<g filter="url(#tblur)">
<text x="940.5" y="1599.7" class="serif" font-size="78.5" text-anchor="middle" textLength="603" lengthAdjust="spacingAndGlyphs">(a) Unbalance 10%</text>
<text x="941.5" y="3223.5" class="serif" font-size="78.5" text-anchor="middle" textLength="605" lengthAdjust="spacingAndGlyphs">(b) Unbalance 50%</text>
</g>

</svg>
</body></html>
